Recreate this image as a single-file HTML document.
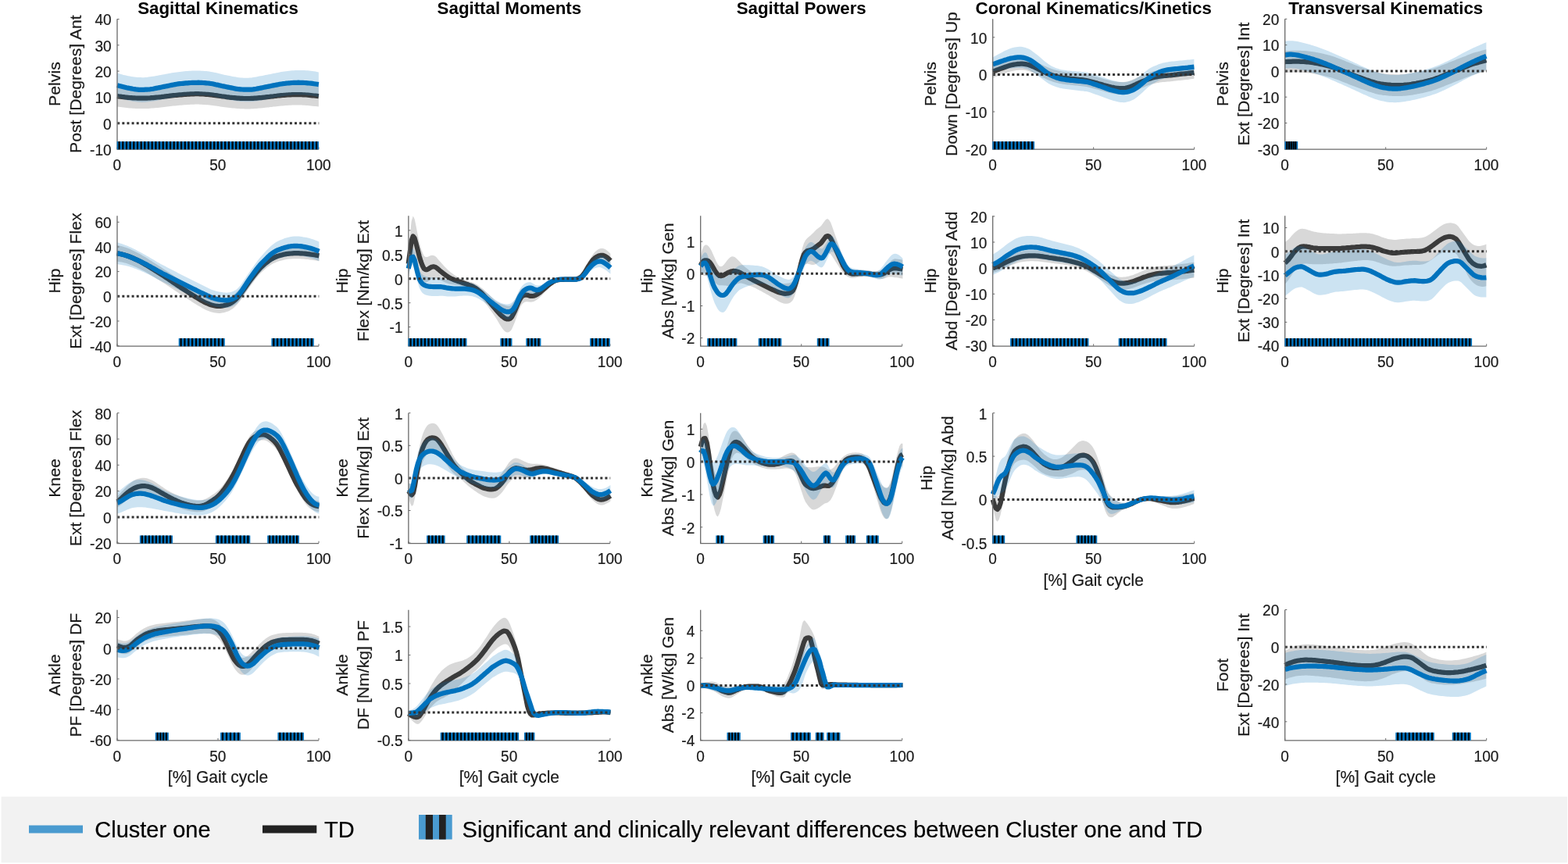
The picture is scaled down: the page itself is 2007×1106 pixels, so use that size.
<!DOCTYPE html>
<html lang="en"><head><meta charset="utf-8"><title>Gait analysis: Cluster one vs TD</title>
<style>html,body{margin:0;padding:0;background:#fff}body{width:2007px;height:1106px;overflow:hidden}svg{display:block}text{font-family:"Liberation Sans", Arial, Helvetica, sans-serif}</style>
</head><body>
<svg width="2007" height="1106" viewBox="0 0 2007 1106">
<rect width="2007" height="1106" fill="#fff"/>
<g>
<clipPath id="c00"><rect x="145" y="22.3" width="268" height="168.6"/></clipPath>
<g clip-path="url(#c00)">
<path d="M150 109.7 L152 110 L154 110.2 L156 110.5 L158 110.7 L160 111 L162 111.2 L164 111.4 L166 111.6 L168 111.7 L170 111.9 L172 112 L174 112.1 L176 112.2 L178 112.3 L180 112.3 L182 112.4 L184 112.3 L186 112.3 L188 112.2 L190 112.1 L192 112 L194 111.9 L196 111.7 L198 111.5 L200 111.4 L202 111.1 L204 110.9 L206 110.7 L208 110.4 L210 110.2 L212 109.9 L214 109.7 L216 109.5 L218 109.2 L220 109 L222 108.8 L224 108.6 L226 108.4 L228 108.2 L230 108.1 L232 107.9 L234 107.7 L236 107.6 L238 107.4 L240 107.3 L242 107.2 L244 107 L246 107 L248 106.9 L250 106.8 L252 106.8 L254 106.9 L256 106.9 L258 107 L260 107.1 L262 107.2 L264 107.4 L266 107.5 L268 107.7 L270 108 L272 108.2 L274 108.5 L276 108.7 L278 109 L280 109.3 L281.9 109.6 L283.9 109.9 L285.9 110.2 L287.9 110.4 L289.9 110.7 L291.9 110.9 L293.9 111.2 L295.9 111.4 L297.9 111.6 L299.9 111.8 L301.9 112 L303.9 112.2 L305.9 112.3 L307.9 112.4 L309.9 112.5 L311.9 112.6 L313.9 112.6 L315.9 112.6 L317.9 112.6 L319.9 112.6 L321.9 112.5 L323.9 112.5 L325.9 112.4 L327.9 112.2 L329.9 112 L331.9 111.9 L333.9 111.7 L335.9 111.5 L337.9 111.3 L339.9 111 L341.9 110.8 L343.9 110.6 L345.9 110.4 L347.9 110.1 L349.9 109.9 L351.9 109.6 L353.9 109.4 L355.9 109.1 L357.9 108.9 L359.9 108.7 L361.9 108.6 L363.9 108.4 L365.9 108.3 L367.9 108.1 L369.9 108 L371.9 107.9 L373.9 107.8 L375.9 107.7 L377.9 107.7 L379.9 107.7 L381.9 107.7 L383.9 107.7 L385.9 107.8 L387.9 107.9 L389.9 108 L391.9 108.1 L393.9 108.3 L395.9 108.5 L397.9 108.7 L399.9 108.9 L401.9 109.1 L403.9 109.3 L405.9 109.5 L407.9 109.8 L407.9 136.6 L405.9 136.3 L403.9 136.1 L401.9 135.9 L399.9 135.7 L397.9 135.5 L395.9 135.3 L393.9 135.1 L391.9 134.9 L389.9 134.8 L387.9 134.7 L385.9 134.6 L383.9 134.5 L381.9 134.4 L379.9 134.4 L377.9 134.5 L375.9 134.5 L373.9 134.6 L371.9 134.7 L369.9 134.8 L367.9 134.9 L365.9 135.1 L363.9 135.2 L361.9 135.4 L359.9 135.5 L357.9 135.7 L355.9 135.9 L353.9 136.2 L351.9 136.4 L349.9 136.6 L347.9 136.9 L345.9 137.1 L343.9 137.4 L341.9 137.6 L339.9 137.8 L337.9 138 L335.9 138.3 L333.9 138.4 L331.9 138.6 L329.9 138.8 L327.9 139 L325.9 139.1 L323.9 139.2 L321.9 139.3 L319.9 139.4 L317.9 139.4 L315.9 139.4 L313.9 139.4 L311.9 139.3 L309.9 139.3 L307.9 139.2 L305.9 139.1 L303.9 139 L301.9 138.8 L299.9 138.6 L297.9 138.4 L295.9 138.2 L293.9 137.9 L291.9 137.7 L289.9 137.5 L287.9 137.2 L285.9 136.9 L283.9 136.7 L281.9 136.4 L280 136.1 L278 135.8 L276 135.5 L274 135.2 L272 135 L270 134.7 L268 134.5 L266 134.3 L264 134.2 L262 134 L260 133.9 L258 133.8 L256 133.7 L254 133.6 L252 133.6 L250 133.6 L248 133.7 L246 133.7 L244 133.8 L242 133.9 L240 134.1 L238 134.2 L236 134.3 L234 134.5 L232 134.7 L230 134.8 L228 135 L226 135.2 L224 135.4 L222 135.6 L220 135.8 L218 136 L216 136.3 L214 136.5 L212 136.7 L210 137 L208 137.2 L206 137.5 L204 137.7 L202 137.9 L200 138.1 L198 138.3 L196 138.5 L194 138.6 L192 138.8 L190 138.9 L188 139 L186 139.1 L184 139.1 L182 139.1 L180 139.1 L178 139.1 L176 139 L174 138.9 L172 138.8 L170 138.7 L168 138.5 L166 138.4 L164 138.2 L162 138 L160 137.7 L158 137.5 L156 137.3 L154 137 L152 136.7 L150 136.5Z" fill="#3b3b3b" fill-opacity="0.2"/>
<path d="M150 123.1 L152 123.4 L154 123.6 L156 123.9 L158 124.1 L160 124.4 L162 124.6 L164 124.8 L166 125 L168 125.1 L170 125.3 L172 125.4 L174 125.5 L176 125.6 L178 125.7 L180 125.7 L182 125.7 L184 125.7 L186 125.7 L188 125.6 L190 125.5 L192 125.4 L194 125.2 L196 125.1 L198 124.9 L200 124.7 L202 124.5 L204 124.3 L206 124.1 L208 123.8 L210 123.6 L212 123.3 L214 123.1 L216 122.9 L218 122.6 L220 122.4 L222 122.2 L224 122 L226 121.8 L228 121.6 L230 121.4 L232 121.3 L234 121.1 L236 120.9 L238 120.8 L240 120.7 L242 120.6 L244 120.4 L246 120.3 L248 120.3 L250 120.2 L252 120.2 L254 120.2 L256 120.3 L258 120.4 L260 120.5 L262 120.6 L264 120.8 L266 120.9 L268 121.1 L270 121.3 L272 121.6 L274 121.9 L276 122.1 L278 122.4 L280 122.7 L281.9 123 L283.9 123.3 L285.9 123.5 L287.9 123.8 L289.9 124.1 L291.9 124.3 L293.9 124.6 L295.9 124.8 L297.9 125 L299.9 125.2 L301.9 125.4 L303.9 125.6 L305.9 125.7 L307.9 125.8 L309.9 125.9 L311.9 126 L313.9 126 L315.9 126 L317.9 126 L319.9 126 L321.9 125.9 L323.9 125.9 L325.9 125.7 L327.9 125.6 L329.9 125.4 L331.9 125.2 L333.9 125.1 L335.9 124.9 L337.9 124.7 L339.9 124.4 L341.9 124.2 L343.9 124 L345.9 123.7 L347.9 123.5 L349.9 123.3 L351.9 123 L353.9 122.8 L355.9 122.5 L357.9 122.3 L359.9 122.1 L361.9 122 L363.9 121.8 L365.9 121.7 L367.9 121.5 L369.9 121.4 L371.9 121.3 L373.9 121.2 L375.9 121.1 L377.9 121.1 L379.9 121 L381.9 121.1 L383.9 121.1 L385.9 121.2 L387.9 121.3 L389.9 121.4 L391.9 121.5 L393.9 121.7 L395.9 121.9 L397.9 122.1 L399.9 122.3 L401.9 122.5 L403.9 122.7 L405.9 122.9 L407.9 123.2" fill="none" stroke="#3b3b3b" stroke-width="6.2" stroke-linejoin="round" stroke-linecap="butt"/>
<path d="M150 93.5 L152 94.1 L154 94.8 L156 95.3 L158 95.9 L160 96.3 L162 96.8 L164 97.2 L166 97.6 L168 97.9 L170 98.2 L172 98.5 L174 98.7 L176 98.9 L178 99 L180 99.1 L182 99.2 L184 99.2 L186 99.1 L188 98.9 L190 98.6 L192 98.3 L194 98 L196 97.7 L198 97.4 L200 97 L202 96.7 L204 96.3 L206 95.9 L208 95.6 L210 95.2 L212 94.8 L214 94.4 L216 94 L218 93.7 L220 93.3 L222 93 L224 92.7 L226 92.4 L228 92.2 L230 91.9 L232 91.7 L234 91.4 L236 91.3 L238 91.1 L240 91 L242 90.8 L244 90.7 L246 90.6 L248 90.6 L250 90.5 L252 90.5 L254 90.5 L256 90.6 L258 90.7 L260 90.8 L262 90.9 L264 91.1 L266 91.3 L268 91.6 L270 91.9 L272 92.2 L274 92.7 L276 93.1 L278 93.6 L280 94.1 L281.9 94.5 L283.9 95 L285.9 95.5 L287.9 95.9 L289.9 96.3 L291.9 96.7 L293.9 97.1 L295.9 97.5 L297.9 97.9 L299.9 98.3 L301.9 98.6 L303.9 99 L305.9 99.2 L307.9 99.4 L309.9 99.6 L311.9 99.7 L313.9 99.8 L315.9 99.7 L317.9 99.7 L319.9 99.5 L321.9 99.4 L323.9 99.1 L325.9 98.8 L327.9 98.4 L329.9 98 L331.9 97.6 L333.9 97.3 L335.9 96.9 L337.9 96.5 L339.9 96.1 L341.9 95.7 L343.9 95.3 L345.9 94.9 L347.9 94.5 L349.9 94.1 L351.9 93.7 L353.9 93.3 L355.9 92.9 L357.9 92.5 L359.9 92.1 L361.9 91.8 L363.9 91.5 L365.9 91.2 L367.9 91 L369.9 90.7 L371.9 90.5 L373.9 90.3 L375.9 90.2 L377.9 90.1 L379.9 90.1 L381.9 90 L383.9 90 L385.9 90 L387.9 90 L389.9 90.1 L391.9 90.2 L393.9 90.3 L395.9 90.5 L397.9 90.7 L399.9 90.9 L401.9 91.2 L403.9 91.5 L405.9 91.9 L407.9 92.4 L407.9 124.2 L405.9 123.7 L403.9 123.3 L401.9 122.9 L399.9 122.6 L397.9 122.3 L395.9 122.1 L393.9 121.9 L391.9 121.7 L389.9 121.6 L387.9 121.5 L385.9 121.4 L383.9 121.4 L381.9 121.4 L379.9 121.4 L377.9 121.5 L375.9 121.6 L373.9 121.7 L371.9 121.9 L369.9 122.1 L367.9 122.4 L365.9 122.6 L363.9 122.9 L361.9 123.2 L359.9 123.5 L357.9 123.9 L355.9 124.2 L353.9 124.6 L351.9 125 L349.9 125.4 L347.9 125.8 L345.9 126.2 L343.9 126.6 L341.9 127 L339.9 127.4 L337.9 127.8 L335.9 128.2 L333.9 128.5 L331.9 128.9 L329.9 129.2 L327.9 129.5 L325.9 129.8 L323.9 130 L321.9 130.1 L319.9 130.2 L317.9 130.2 L315.9 130.2 L313.9 130.2 L311.9 130.1 L309.9 130.1 L307.9 130 L305.9 129.8 L303.9 129.6 L301.9 129.3 L299.9 129 L297.9 128.6 L295.9 128.2 L293.9 127.8 L291.9 127.4 L289.9 127 L287.9 126.6 L285.9 126.2 L283.9 125.8 L281.9 125.4 L280 125 L278 124.6 L276 124.2 L274 123.8 L272 123.4 L270 123 L268 122.8 L266 122.6 L264 122.4 L262 122.3 L260 122.2 L258 122.1 L256 122 L254 121.9 L252 121.9 L250 121.9 L248 121.9 L246 122 L244 122.1 L242 122.3 L240 122.4 L238 122.6 L236 122.8 L234 123.1 L232 123.3 L230 123.6 L228 123.8 L226 124.1 L224 124.4 L222 124.7 L220 125 L218 125.4 L216 125.7 L214 126.1 L212 126.5 L210 126.9 L208 127.3 L206 127.7 L204 128.1 L202 128.5 L200 128.9 L198 129.2 L196 129.5 L194 129.8 L192 130.1 L190 130.3 L188 130.5 L186 130.7 L184 130.8 L182 130.9 L180 130.8 L178 130.7 L176 130.6 L174 130.3 L172 130.1 L170 129.7 L168 129.3 L166 128.9 L164 128.4 L162 128 L160 127.4 L158 126.9 L156 126.3 L154 125.7 L152 125.1 L150 124.5Z" fill="#0072bd" fill-opacity="0.2"/>
<path d="M150 109.1 L152 109.7 L154 110.2 L156 110.7 L158 111.2 L160 111.7 L162 112.2 L164 112.6 L166 113 L168 113.4 L170 113.8 L172 114.1 L174 114.4 L176 114.6 L178 114.8 L180 114.8 L182 114.8 L184 114.8 L186 114.7 L188 114.7 L190 114.5 L192 114.3 L194 114 L196 113.7 L198 113.3 L200 112.9 L202 112.5 L204 112.1 L206 111.7 L208 111.3 L210 110.9 L212 110.5 L214 110.1 L216 109.7 L218 109.3 L220 108.9 L222 108.5 L224 108.1 L226 107.7 L228 107.4 L230 107.2 L232 107 L234 106.8 L236 106.6 L238 106.4 L240 106.3 L242 106.1 L244 106 L246 105.9 L248 105.9 L250 105.8 L252 105.8 L254 105.7 L256 105.8 L258 105.9 L260 106 L262 106.1 L264 106.3 L266 106.5 L268 106.7 L270 107 L272 107.3 L274 107.7 L276 108.2 L278 108.6 L280 109.1 L281.9 109.5 L283.9 110 L285.9 110.4 L287.9 110.8 L289.9 111.2 L291.9 111.6 L293.9 112 L295.9 112.4 L297.9 112.8 L299.9 113.2 L301.9 113.6 L303.9 113.9 L305.9 114.1 L307.9 114.3 L309.9 114.5 L311.9 114.6 L313.9 114.7 L315.9 114.7 L317.9 114.7 L319.9 114.7 L321.9 114.6 L323.9 114.4 L325.9 114.1 L327.9 113.8 L329.9 113.4 L331.9 113 L333.9 112.6 L335.9 112.2 L337.9 111.8 L339.9 111.4 L341.9 111 L343.9 110.6 L345.9 110.2 L347.9 109.8 L349.9 109.4 L351.9 109 L353.9 108.6 L355.9 108.2 L357.9 107.8 L359.9 107.5 L361.9 107.2 L363.9 107 L365.9 106.7 L367.9 106.5 L369.9 106.3 L371.9 106.2 L373.9 106 L375.9 105.9 L377.9 105.8 L379.9 105.8 L381.9 105.7 L383.9 105.8 L385.9 105.8 L387.9 105.9 L389.9 106 L391.9 106.1 L393.9 106.3 L395.9 106.5 L397.9 106.7 L399.9 106.9 L401.9 107.2 L403.9 107.5 L405.9 107.8 L407.9 108.1" fill="none" stroke="#0072bd" stroke-width="6.2" stroke-linejoin="round" stroke-linecap="butt"/>
</g>
<path d="M150.2 157.7H408.3" stroke="#333" stroke-width="3" stroke-dasharray="3 3.13" fill="none"/>
<path d="M150 24.3V191.2H408" stroke="#6a6a6a" stroke-width="1.3" fill="none"/>
<path d="M150 24.5h2.6M150 57.8h2.6M150 91.1h2.6M150 124.4h2.6M150 157.7h2.6M150 191h2.6M150 190.9v-2.6M279 190.9v-2.6M408 190.9v-2.6" stroke="#6a6a6a" stroke-width="1" fill="none"/>
<rect x="149.7" y="181.1" width="258.3" height="10.1" fill="#0072bd"/>
<path d="M152.6 181.1v10.1M157.3 181.1v10.1M162 181.1v10.1M166.6 181.1v10.1M171.3 181.1v10.1M176 181.1v10.1M180.7 181.1v10.1M185.3 181.1v10.1M190 181.1v10.1M194.7 181.1v10.1M199.4 181.1v10.1M204 181.1v10.1M208.7 181.1v10.1M213.4 181.1v10.1M218.1 181.1v10.1M222.7 181.1v10.1M227.4 181.1v10.1M232.1 181.1v10.1M236.8 181.1v10.1M241.4 181.1v10.1M246.1 181.1v10.1M250.8 181.1v10.1M255.5 181.1v10.1M260.1 181.1v10.1M264.8 181.1v10.1M269.5 181.1v10.1M274.2 181.1v10.1M278.9 181.1v10.1M283.5 181.1v10.1M288.2 181.1v10.1M292.9 181.1v10.1M297.6 181.1v10.1M302.2 181.1v10.1M306.9 181.1v10.1M311.6 181.1v10.1M316.3 181.1v10.1M320.9 181.1v10.1M325.6 181.1v10.1M330.3 181.1v10.1M335 181.1v10.1M339.6 181.1v10.1M344.3 181.1v10.1M349 181.1v10.1M353.7 181.1v10.1M358.3 181.1v10.1M363 181.1v10.1M367.7 181.1v10.1M372.4 181.1v10.1M377 181.1v10.1M381.7 181.1v10.1M386.4 181.1v10.1M391.1 181.1v10.1M395.7 181.1v10.1M400.4 181.1v10.1M405.1 181.1v10.1" stroke="#000" stroke-width="2.2" fill="none"/>
<text transform="translate(142.6 32.3) scale(1 1.02)" font-size="19.05" text-anchor="end" fill="#1a1a1a" stroke="#1a1a1a" stroke-width="0.2">40</text>
<text transform="translate(142.6 65.6) scale(1 1.02)" font-size="19.05" text-anchor="end" fill="#1a1a1a" stroke="#1a1a1a" stroke-width="0.2">30</text>
<text transform="translate(142.6 98.9) scale(1 1.02)" font-size="19.05" text-anchor="end" fill="#1a1a1a" stroke="#1a1a1a" stroke-width="0.2">20</text>
<text transform="translate(142.6 132.2) scale(1 1.02)" font-size="19.05" text-anchor="end" fill="#1a1a1a" stroke="#1a1a1a" stroke-width="0.2">10</text>
<text transform="translate(142.6 165.5) scale(1 1.02)" font-size="19.05" text-anchor="end" fill="#1a1a1a" stroke="#1a1a1a" stroke-width="0.2">0</text>
<text transform="translate(142.6 198.8) scale(1 1.02)" font-size="19.05" text-anchor="end" fill="#1a1a1a" stroke="#1a1a1a" stroke-width="0.2">-10</text>
<text transform="translate(149.8 218) scale(1 1.02)" font-size="19.05" text-anchor="middle" fill="#1a1a1a" stroke="#1a1a1a" stroke-width="0.2">0</text>
<text transform="translate(278.8 218) scale(1 1.02)" font-size="19.05" text-anchor="middle" fill="#1a1a1a" stroke="#1a1a1a" stroke-width="0.2">50</text>
<text transform="translate(407.8 218) scale(1 1.02)" font-size="19.05" text-anchor="middle" fill="#1a1a1a" stroke="#1a1a1a" stroke-width="0.2">100</text>
<text transform="translate(279 18.2)" font-size="22.3" text-anchor="middle" font-weight="bold" fill="#000">Sagittal Kinematics</text>
<text transform="translate(77.27 107.6) rotate(-90) scale(1 0.96)" font-size="21.3" text-anchor="middle" fill="#1a1a1a" stroke="#1a1a1a" stroke-width="0.2">Pelvis</text>
<text transform="translate(104.27 107.6) rotate(-90) scale(1 0.96)" font-size="21.2" text-anchor="middle" fill="#1a1a1a" stroke="#1a1a1a" stroke-width="0.2">Post [Degrees] Ant</text>
</g>
<g>
<clipPath id="c10"><rect x="145" y="274.3" width="268" height="168.6"/></clipPath>
<g clip-path="url(#c10)">
<path d="M149.7 313.8 L151.7 314.3 L153.7 314.7 L155.7 315.3 L157.7 315.8 L159.7 316.4 L161.7 317.1 L163.7 317.8 L165.7 318.6 L167.7 319.5 L169.7 320.4 L171.7 321.4 L173.8 322.4 L175.8 323.5 L177.8 324.5 L179.8 325.6 L181.8 326.8 L183.8 327.9 L185.8 329.1 L187.8 330.3 L189.8 331.6 L191.8 332.9 L193.8 334.1 L195.8 335.4 L197.8 336.7 L199.8 338 L201.8 339.2 L203.8 340.5 L205.8 341.8 L207.8 343.2 L209.8 344.5 L211.9 345.9 L213.9 347.2 L215.9 348.6 L217.9 349.9 L219.9 351.3 L221.9 352.6 L223.9 354 L225.9 355.3 L227.9 356.7 L229.9 358 L231.9 359.3 L233.9 360.6 L235.9 361.9 L237.9 363.2 L239.9 364.5 L241.9 365.8 L243.9 367.1 L245.9 368.4 L247.9 369.7 L250 371 L252 372.3 L254 373.5 L256 374.7 L258 375.8 L260 377 L262 378 L264 378.9 L266 379.7 L268 380.5 L270 381.2 L272 381.8 L274 382.3 L276 382.6 L278 382.9 L280 383 L282 383 L284 382.8 L286.1 382.4 L288.1 382 L290.1 381.5 L292.1 380.9 L294.1 380.1 L296.1 379.2 L298.1 377.9 L300.1 376.4 L302.1 374.6 L304.1 372.6 L306.1 370.4 L308.1 367.9 L310.1 365.3 L312.1 362.6 L314.1 359.9 L316.1 357.1 L318.1 354.4 L320.1 351.8 L322.1 349.2 L324.2 346.6 L326.2 344.1 L328.2 341.6 L330.2 339.3 L332.2 337.1 L334.2 335.1 L336.2 333.2 L338.2 331.5 L340.2 329.8 L342.2 328.2 L344.2 326.7 L346.2 325.4 L348.2 324.2 L350.2 323.2 L352.2 322.2 L354.2 321.4 L356.2 320.6 L358.2 320 L360.3 319.5 L362.3 319 L364.3 318.5 L366.3 318.2 L368.3 317.9 L370.3 317.7 L372.3 317.5 L374.3 317.3 L376.3 317.2 L378.3 317.2 L380.3 317.2 L382.3 317.2 L384.3 317.3 L386.3 317.4 L388.3 317.6 L390.3 317.7 L392.3 318 L394.3 318.2 L396.3 318.4 L398.4 318.7 L400.4 319 L402.4 319.3 L404.4 319.7 L406.4 320 L408.4 320.4 L408.4 334.3 L406.4 334 L404.4 333.6 L402.4 333.3 L400.4 333 L398.4 332.7 L396.3 332.4 L394.3 332.1 L392.3 331.9 L390.3 331.7 L388.3 331.5 L386.3 331.4 L384.3 331.3 L382.3 331.2 L380.3 331.2 L378.3 331.2 L376.3 331.2 L374.3 331.3 L372.3 331.4 L370.3 331.6 L368.3 331.8 L366.3 332.1 L364.3 332.5 L362.3 332.9 L360.3 333.4 L358.2 333.9 L356.2 334.6 L354.2 335.3 L352.2 336.2 L350.2 337.1 L348.2 338.1 L346.2 339.3 L344.2 340.7 L342.2 342.1 L340.2 343.7 L338.2 345.4 L336.2 347.2 L334.2 349.1 L332.2 351.2 L330.2 353.5 L328.2 355.9 L326.2 358.5 L324.2 361.2 L322.1 363.9 L320.1 366.7 L318.1 369.5 L316.1 372.4 L314.1 375.3 L312.1 378.3 L310.1 381.2 L308.1 384 L306.1 386.6 L304.1 389 L302.1 391.2 L300.1 393.2 L298.1 394.9 L296.1 396.3 L294.1 397.5 L292.1 398.4 L290.1 399.1 L288.1 399.7 L286.1 400.2 L284 400.6 L282 400.9 L280 400.9 L278 400.8 L276 400.6 L274 400.2 L272 399.8 L270 399.2 L268 398.5 L266 397.7 L264 396.9 L262 395.9 L260 394.9 L258 393.8 L256 392.6 L254 391.4 L252 390.2 L250 388.9 L247.9 387.7 L245.9 386.4 L243.9 385.1 L241.9 383.8 L239.9 382.5 L237.9 381.2 L235.9 379.9 L233.9 378.6 L231.9 377.2 L229.9 375.9 L227.9 374.6 L225.9 373.3 L223.9 371.9 L221.9 370.6 L219.9 369.2 L217.9 367.9 L215.9 366.5 L213.9 365.2 L211.9 363.8 L209.8 362.5 L207.8 361.2 L205.8 359.9 L203.8 358.7 L201.8 357.4 L199.8 356.2 L197.8 355 L195.8 353.8 L193.8 352.5 L191.8 351.4 L189.8 350.2 L187.8 349 L185.8 347.8 L183.8 346.7 L181.8 345.7 L179.8 344.7 L177.8 343.7 L175.8 342.7 L173.8 341.8 L171.7 340.9 L169.7 340 L167.7 339.2 L165.7 338.4 L163.7 337.7 L161.7 337.1 L159.7 336.6 L157.7 336.1 L155.7 335.6 L153.7 335.2 L151.7 334.9 L149.7 334.5Z" fill="#3b3b3b" fill-opacity="0.2"/>
<path d="M149.7 324.2 L151.7 324.6 L153.7 325 L155.7 325.4 L157.7 325.9 L159.7 326.5 L161.7 327.1 L163.7 327.8 L165.7 328.5 L167.7 329.3 L169.7 330.2 L171.7 331.1 L173.8 332.1 L175.8 333.1 L177.8 334.1 L179.8 335.1 L181.8 336.2 L183.8 337.3 L185.8 338.5 L187.8 339.7 L189.8 340.9 L191.8 342.1 L193.8 343.3 L195.8 344.6 L197.8 345.8 L199.8 347.1 L201.8 348.3 L203.8 349.6 L205.8 350.9 L207.8 352.2 L209.8 353.5 L211.9 354.9 L213.9 356.2 L215.9 357.5 L217.9 358.9 L219.9 360.2 L221.9 361.6 L223.9 362.9 L225.9 364.3 L227.9 365.6 L229.9 367 L231.9 368.3 L233.9 369.6 L235.9 370.9 L237.9 372.2 L239.9 373.5 L241.9 374.8 L243.9 376.1 L245.9 377.4 L247.9 378.7 L250 380 L252 381.2 L254 382.4 L256 383.6 L258 384.8 L260 385.9 L262 387 L264 387.9 L266 388.7 L268 389.5 L270 390.2 L272 390.8 L274 391.3 L276 391.6 L278 391.8 L280 392 L282 391.9 L284 391.7 L286.1 391.3 L288.1 390.8 L290.1 390.3 L292.1 389.6 L294.1 388.8 L296.1 387.7 L298.1 386.4 L300.1 384.8 L302.1 382.9 L304.1 380.8 L306.1 378.5 L308.1 376 L310.1 373.2 L312.1 370.4 L314.1 367.6 L316.1 364.7 L318.1 361.9 L320.1 359.2 L322.1 356.6 L324.2 353.9 L326.2 351.3 L328.2 348.8 L330.2 346.4 L332.2 344.1 L334.2 342.1 L336.2 340.2 L338.2 338.4 L340.2 336.7 L342.2 335.2 L344.2 333.7 L346.2 332.4 L348.2 331.2 L350.2 330.1 L352.2 329.2 L354.2 328.3 L356.2 327.6 L358.2 327 L360.3 326.4 L362.3 325.9 L364.3 325.5 L366.3 325.1 L368.3 324.8 L370.3 324.6 L372.3 324.5 L374.3 324.3 L376.3 324.2 L378.3 324.2 L380.3 324.2 L382.3 324.2 L384.3 324.3 L386.3 324.4 L388.3 324.5 L390.3 324.7 L392.3 324.9 L394.3 325.2 L396.3 325.4 L398.4 325.7 L400.4 326 L402.4 326.3 L404.4 326.6 L406.4 327 L408.4 327.4" fill="none" stroke="#3b3b3b" stroke-width="6.2" stroke-linejoin="round" stroke-linecap="butt"/>
<path d="M149.7 310.2 L151.7 310.8 L153.7 311.4 L155.7 312.1 L157.7 312.7 L159.7 313.5 L161.7 314.2 L163.7 315 L165.7 315.9 L167.7 316.8 L169.7 317.8 L171.7 318.8 L173.8 319.8 L175.8 320.9 L177.8 321.9 L179.8 323 L181.8 324.1 L183.8 325.2 L185.8 326.3 L187.8 327.4 L189.8 328.6 L191.8 329.7 L193.8 330.9 L195.8 332.1 L197.8 333.3 L199.8 334.5 L201.8 335.7 L203.8 336.8 L205.8 338 L207.8 339.1 L209.8 340.1 L211.9 341.1 L213.9 342.2 L215.9 343.2 L217.9 344.2 L219.9 345.3 L221.9 346.3 L223.9 347.3 L225.9 348.3 L227.9 349.4 L229.9 350.4 L231.9 351.4 L233.9 352.4 L235.9 353.5 L237.9 354.5 L239.9 355.5 L241.9 356.5 L243.9 357.5 L245.9 358.6 L247.9 359.6 L250 360.6 L252 361.6 L254 362.6 L256 363.6 L258 364.6 L260 365.6 L262 366.6 L264 367.5 L266 368.5 L268 369.5 L270 370.4 L272 371.2 L274 371.8 L276 372.4 L278 372.9 L280 373.4 L282 373.8 L284 374.1 L286.1 374.4 L288.1 374.6 L290.1 374.7 L292.1 374.6 L294.1 374.3 L296.1 373.8 L298.1 373.1 L300.1 372.1 L302.1 370.9 L304.1 369.2 L306.1 367.3 L308.1 364.9 L310.1 362.1 L312.1 359.1 L314.1 356.1 L316.1 353.1 L318.1 350.1 L320.1 347.2 L322.1 344.3 L324.2 341.4 L326.2 338.5 L328.2 335.7 L330.2 333 L332.2 330.5 L334.2 328.2 L336.2 326 L338.2 323.8 L340.2 321.6 L342.2 319.5 L344.2 317.4 L346.2 315.5 L348.2 313.7 L350.2 312.2 L352.2 310.8 L354.2 309.6 L356.2 308.6 L358.2 307.6 L360.3 306.8 L362.3 305.9 L364.3 305.1 L366.3 304.5 L368.3 303.9 L370.3 303.4 L372.3 303 L374.3 302.7 L376.3 302.5 L378.3 302.4 L380.3 302.5 L382.3 302.6 L384.3 302.8 L386.3 303 L388.3 303.4 L390.3 303.7 L392.3 304.1 L394.3 304.6 L396.3 305.1 L398.4 305.7 L400.4 306.3 L402.4 307 L404.4 307.8 L406.4 308.6 L408.4 309.4 L408.4 334.1 L406.4 333.3 L404.4 332.5 L402.4 331.7 L400.4 331 L398.4 330.4 L396.3 329.8 L394.3 329.3 L392.3 328.9 L390.3 328.4 L388.3 328.1 L386.3 327.8 L384.3 327.5 L382.3 327.3 L380.3 327.2 L378.3 327.2 L376.3 327.2 L374.3 327.3 L372.3 327.5 L370.3 327.7 L368.3 328 L366.3 328.4 L364.3 328.8 L362.3 329.3 L360.3 329.9 L358.2 330.5 L356.2 331.1 L354.2 331.8 L352.2 332.7 L350.2 333.7 L348.2 334.9 L346.2 336.3 L344.2 337.9 L342.2 339.7 L340.2 341.5 L338.2 343.4 L336.2 345.3 L334.2 347.2 L332.2 349.3 L330.2 351.6 L328.2 354.1 L326.2 356.7 L324.2 359.4 L322.1 362.3 L320.1 365.1 L318.1 368 L316.1 371 L314.1 374.1 L312.1 377.2 L310.1 380.2 L308.1 383.1 L306.1 385.6 L304.1 387.7 L302.1 389.4 L300.1 390.8 L298.1 391.9 L296.1 392.8 L294.1 393.4 L292.1 393.9 L290.1 394.1 L288.1 394.1 L286.1 394 L284 393.9 L282 393.6 L280 393.3 L278 392.9 L276 392.4 L274 391.9 L272 391.3 L270 390.6 L268 389.7 L266 388.8 L264 387.9 L262 387 L260 386 L258 385.1 L256 384.2 L254 383.2 L252 382.2 L250 381.2 L247.9 380.3 L245.9 379.3 L243.9 378.3 L241.9 377.3 L239.9 376.3 L237.9 375.3 L235.9 374.4 L233.9 373.4 L231.9 372.4 L229.9 371.4 L227.9 370.4 L225.9 369.4 L223.9 368.5 L221.9 367.5 L219.9 366.5 L217.9 365.5 L215.9 364.6 L213.9 363.6 L211.9 362.6 L209.8 361.6 L207.8 360.6 L205.8 359.6 L203.8 358.6 L201.8 357.5 L199.8 356.4 L197.8 355.3 L195.8 354.2 L193.8 353.2 L191.8 352.1 L189.8 351.1 L187.8 350.2 L185.8 349.2 L183.8 348.3 L181.8 347.4 L179.8 346.5 L177.8 345.7 L175.8 344.9 L173.8 344.1 L171.7 343.4 L169.7 342.6 L167.7 342 L165.7 341.3 L163.7 340.8 L161.7 340.3 L159.7 339.8 L157.7 339.4 L155.7 339 L153.7 338.7 L151.7 338.4 L149.7 338.1Z" fill="#0072bd" fill-opacity="0.2"/>
<path d="M149.7 324.2 L151.7 324.6 L153.7 325.1 L155.7 325.6 L157.7 326.1 L159.7 326.6 L161.7 327.2 L163.7 327.9 L165.7 328.6 L167.7 329.4 L169.7 330.2 L171.7 331.1 L173.8 332 L175.8 332.9 L177.8 333.8 L179.8 334.8 L181.8 335.7 L183.8 336.7 L185.8 337.7 L187.8 338.8 L189.8 339.9 L191.8 340.9 L193.8 342.1 L195.8 343.2 L197.8 344.3 L199.8 345.5 L201.8 346.6 L203.8 347.7 L205.8 348.8 L207.8 349.9 L209.8 350.9 L211.9 351.9 L213.9 352.9 L215.9 353.9 L217.9 354.9 L219.9 355.9 L221.9 356.9 L223.9 357.9 L225.9 358.9 L227.9 359.9 L229.9 360.9 L231.9 361.9 L233.9 362.9 L235.9 363.9 L237.9 364.9 L239.9 365.9 L241.9 366.9 L243.9 367.9 L245.9 368.9 L247.9 369.9 L250 370.9 L252 371.9 L254 372.9 L256 373.9 L258 374.9 L260 375.8 L262 376.8 L264 377.7 L266 378.7 L268 379.6 L270 380.5 L272 381.3 L274 381.9 L276 382.4 L278 382.9 L280 383.4 L282 383.7 L284 384 L286.1 384.2 L288.1 384.3 L290.1 384.4 L292.1 384.3 L294.1 383.9 L296.1 383.3 L298.1 382.5 L300.1 381.5 L302.1 380.1 L304.1 378.5 L306.1 376.4 L308.1 374 L310.1 371.2 L312.1 368.2 L314.1 365.1 L316.1 362 L318.1 359 L320.1 356.1 L322.1 353.3 L324.2 350.4 L326.2 347.6 L328.2 344.9 L330.2 342.3 L332.2 339.9 L334.2 337.7 L336.2 335.6 L338.2 333.6 L340.2 331.6 L342.2 329.6 L344.2 327.7 L346.2 325.9 L348.2 324.3 L350.2 323 L352.2 321.8 L354.2 320.7 L356.2 319.9 L358.2 319.1 L360.3 318.3 L362.3 317.6 L364.3 317 L366.3 316.4 L368.3 315.9 L370.3 315.5 L372.3 315.2 L374.3 315 L376.3 314.9 L378.3 314.8 L380.3 314.8 L382.3 315 L384.3 315.1 L386.3 315.4 L388.3 315.7 L390.3 316.1 L392.3 316.5 L394.3 317 L396.3 317.5 L398.4 318.1 L400.4 318.7 L402.4 319.4 L404.4 320.1 L406.4 320.9 L408.4 321.8" fill="none" stroke="#0072bd" stroke-width="6.2" stroke-linejoin="round" stroke-linecap="butt"/>
</g>
<path d="M150.2 379.3H408.3" stroke="#333" stroke-width="3" stroke-dasharray="3 3.13" fill="none"/>
<path d="M150 276.3V443.2H408" stroke="#6a6a6a" stroke-width="1.3" fill="none"/>
<path d="M150 284.3h2.6M150 316h2.6M150 347.6h2.6M150 379.3h2.6M150 411h2.6M150 442.7h2.6M150 442.9v-2.6M279 442.9v-2.6M408 442.9v-2.6" stroke="#6a6a6a" stroke-width="1" fill="none"/>
<rect x="228.7" y="433.1" width="59.1" height="10.1" fill="#0072bd"/>
<path d="M231.6 433.1v10.1M236.4 433.1v10.1M241.3 433.1v10.1M246.1 433.1v10.1M251 433.1v10.1M255.8 433.1v10.1M260.7 433.1v10.1M265.5 433.1v10.1M270.3 433.1v10.1M275.2 433.1v10.1M280 433.1v10.1M284.9 433.1v10.1" stroke="#000" stroke-width="2.2" fill="none"/>
<rect x="347.4" y="433.1" width="54.4" height="10.1" fill="#0072bd"/>
<path d="M350.3 433.1v10.1M355.1 433.1v10.1M360 433.1v10.1M364.9 433.1v10.1M369.7 433.1v10.1M374.6 433.1v10.1M379.5 433.1v10.1M384.3 433.1v10.1M389.2 433.1v10.1M394 433.1v10.1M398.9 433.1v10.1" stroke="#000" stroke-width="2.2" fill="none"/>
<text transform="translate(142.6 292.1) scale(1 1.02)" font-size="19.05" text-anchor="end" fill="#1a1a1a" stroke="#1a1a1a" stroke-width="0.2">60</text>
<text transform="translate(142.6 323.8) scale(1 1.02)" font-size="19.05" text-anchor="end" fill="#1a1a1a" stroke="#1a1a1a" stroke-width="0.2">40</text>
<text transform="translate(142.6 355.4) scale(1 1.02)" font-size="19.05" text-anchor="end" fill="#1a1a1a" stroke="#1a1a1a" stroke-width="0.2">20</text>
<text transform="translate(142.6 387.1) scale(1 1.02)" font-size="19.05" text-anchor="end" fill="#1a1a1a" stroke="#1a1a1a" stroke-width="0.2">0</text>
<text transform="translate(142.6 418.8) scale(1 1.02)" font-size="19.05" text-anchor="end" fill="#1a1a1a" stroke="#1a1a1a" stroke-width="0.2">-20</text>
<text transform="translate(142.6 450.5) scale(1 1.02)" font-size="19.05" text-anchor="end" fill="#1a1a1a" stroke="#1a1a1a" stroke-width="0.2">-40</text>
<text transform="translate(149.8 470) scale(1 1.02)" font-size="19.05" text-anchor="middle" fill="#1a1a1a" stroke="#1a1a1a" stroke-width="0.2">0</text>
<text transform="translate(278.8 470) scale(1 1.02)" font-size="19.05" text-anchor="middle" fill="#1a1a1a" stroke="#1a1a1a" stroke-width="0.2">50</text>
<text transform="translate(407.8 470) scale(1 1.02)" font-size="19.05" text-anchor="middle" fill="#1a1a1a" stroke="#1a1a1a" stroke-width="0.2">100</text>
<text transform="translate(77.27 359.6) rotate(-90) scale(1 0.96)" font-size="21.3" text-anchor="middle" fill="#1a1a1a" stroke="#1a1a1a" stroke-width="0.2">Hip</text>
<text transform="translate(104.27 359.6) rotate(-90) scale(1 0.96)" font-size="21.2" text-anchor="middle" fill="#1a1a1a" stroke="#1a1a1a" stroke-width="0.2">Ext [Degrees] Flex</text>
</g>
<g>
<clipPath id="c11"><rect x="517.9" y="274.3" width="268" height="168.6"/></clipPath>
<g clip-path="url(#c11)">
<path d="M522.7 321.8 L524.7 301.4 L526.7 282.9 L528.7 276.6 L530.7 280.6 L532.7 290.3 L534.7 300.7 L536.7 310.2 L538.7 317.4 L540.7 323.1 L542.7 327.4 L544.7 328.9 L546.8 329.1 L548.8 328.3 L550.8 327.2 L552.8 326.7 L554.8 326.9 L556.8 327.8 L558.8 329.6 L560.8 331.9 L562.8 334.3 L564.8 336.6 L566.8 338.8 L568.8 341 L570.8 343.1 L572.8 345 L574.8 346.8 L576.8 348.5 L578.8 350.1 L580.8 351.5 L582.8 352.9 L584.9 354.1 L586.9 355.2 L588.9 356.2 L590.9 357.1 L592.9 357.8 L594.9 358.5 L596.9 359.1 L598.9 359.8 L600.9 360.4 L602.9 360.9 L604.9 361.6 L606.9 362.5 L608.9 363.5 L610.9 364.6 L612.9 366 L614.9 367.4 L616.9 369 L618.9 370.6 L620.9 372.4 L623 374.4 L625 376.3 L627 378.3 L629 380.3 L631 382.3 L633 384.2 L635 385.7 L637 386.9 L639 388 L641 388.9 L643 389.6 L645 390.3 L647 391.1 L649 391.6 L651 391.8 L653 391.6 L655 390.1 L657 387.2 L659.1 383.8 L661.1 379.9 L663.1 375.9 L665.1 372.4 L667.1 370 L669.1 368.8 L671.1 368.6 L673.1 368.7 L675.1 369.3 L677.1 370.3 L679.1 371.1 L681.1 371.5 L683.1 371.5 L685.1 371.1 L687.1 370.4 L689.1 369.4 L691.1 368.2 L693.1 366.9 L695.1 365.5 L697.2 364.1 L699.2 362.7 L701.2 361.4 L703.2 360.2 L705.2 359 L707.2 357.9 L709.2 356.9 L711.2 356.1 L713.2 355.5 L715.2 355.1 L717.2 355 L719.2 354.9 L721.2 354.7 L723.2 354.6 L725.2 354.6 L727.2 354.5 L729.2 354.4 L731.2 354.4 L733.3 354.4 L735.3 354.3 L737.3 354.1 L739.3 353.4 L741.3 352.4 L743.3 351.1 L745.3 349.1 L747.3 346.4 L749.3 342.9 L751.3 339 L753.3 335.1 L755.3 331.6 L757.3 328.3 L759.3 325.3 L761.3 322.8 L763.3 321 L765.3 319.6 L767.3 318.5 L769.3 317.9 L771.4 317.9 L773.4 318.5 L775.4 319.5 L777.4 320.9 L779.4 322.7 L781.4 324.8 L781.4 342.7 L779.4 340.6 L777.4 338.9 L775.4 337.4 L773.4 336.4 L771.4 335.8 L769.3 335.7 L767.3 335.9 L765.3 336.3 L763.3 337 L761.3 337.9 L759.3 339.4 L757.3 341.3 L755.3 343.6 L753.3 346.1 L751.3 349 L749.3 352.1 L747.3 354.7 L745.3 356.8 L743.3 358.4 L741.3 359.6 L739.3 360.4 L737.3 360.9 L735.3 361 L733.3 361 L731.2 360.9 L729.2 360.8 L727.2 360.8 L725.2 360.8 L723.2 360.8 L721.2 360.8 L719.2 360.9 L717.2 361 L715.2 361.1 L713.2 361.5 L711.2 362.1 L709.2 363.1 L707.2 364.5 L705.2 366.2 L703.2 368 L701.2 370 L699.2 372.1 L697.2 374.2 L695.1 376.4 L693.1 378.5 L691.1 380.5 L689.1 382.2 L687.1 383.7 L685.1 385 L683.1 385.9 L681.1 386.4 L679.1 386.7 L677.1 386.4 L675.1 386.2 L673.1 386.3 L671.1 387 L669.1 388.5 L667.1 391.1 L665.1 395.2 L663.1 400.4 L661.1 406.3 L659.1 411.9 L657 417.1 L655 421.4 L653 424.1 L651 425.2 L649 425.4 L647 424.8 L645 422.9 L643 420.5 L641 417.6 L639 414.2 L637 410.8 L635 407.5 L633 404.5 L631 401.6 L629 398.8 L627 395.9 L625 393 L623 390.2 L620.9 387.5 L618.9 384.9 L616.9 382.5 L614.9 380.3 L612.9 378.2 L610.9 376.3 L608.9 374.6 L606.9 373.1 L604.9 371.8 L602.9 370.7 L600.9 369.8 L598.9 368.9 L596.9 368.1 L594.9 367.3 L592.9 366.6 L590.9 365.9 L588.9 365.5 L586.9 365.1 L584.9 364.9 L582.8 364.7 L580.8 364.5 L578.8 364.3 L576.8 363.9 L574.8 363.4 L572.8 362.8 L570.8 361.9 L568.8 361 L566.8 360.1 L564.8 359.2 L562.8 358.2 L560.8 357.2 L558.8 356.1 L556.8 355.5 L554.8 355.7 L552.8 356.6 L550.8 357.9 L548.8 359.6 L546.8 361 L544.7 361.3 L542.7 360.4 L540.7 356.9 L538.7 352 L536.7 346 L534.7 339.5 L532.7 334.2 L530.7 329.5 L528.7 328.3 L526.7 332.7 L524.7 343.9 L522.7 353.7Z" fill="#3b3b3b" fill-opacity="0.2"/>
<path d="M522.7 337.7 L524.7 322.6 L526.7 307.8 L528.7 302.4 L530.7 305 L532.7 312.2 L534.7 320.1 L536.7 328.1 L538.7 334.7 L540.7 340 L542.7 343.9 L544.7 345.1 L546.8 345.1 L548.8 344 L550.8 342.6 L552.8 341.7 L554.8 341.3 L556.8 341.7 L558.8 342.9 L560.8 344.5 L562.8 346.3 L564.8 347.9 L566.8 349.5 L568.8 351 L570.8 352.5 L572.8 353.9 L574.8 355.1 L576.8 356.2 L578.8 357.2 L580.8 358 L582.8 358.8 L584.9 359.5 L586.9 360.2 L588.9 360.8 L590.9 361.5 L592.9 362.2 L594.9 362.9 L596.9 363.6 L598.9 364.3 L600.9 365.1 L602.9 365.8 L604.9 366.7 L606.9 367.8 L608.9 369 L610.9 370.5 L612.9 372.1 L614.9 373.8 L616.9 375.7 L618.9 377.8 L620.9 380 L623 382.3 L625 384.7 L627 387.1 L629 389.6 L631 392 L633 394.3 L635 396.6 L637 398.9 L639 401.1 L641 403.3 L643 405.1 L645 406.6 L647 407.9 L649 408.5 L651 408.5 L653 407.9 L655 405.8 L657 402.1 L659.1 397.9 L661.1 393.1 L663.1 388.1 L665.1 383.8 L667.1 380.6 L669.1 378.6 L671.1 377.8 L673.1 377.5 L675.1 377.8 L677.1 378.4 L679.1 378.9 L681.1 379 L683.1 378.7 L685.1 378.1 L687.1 377 L689.1 375.8 L691.1 374.4 L693.1 372.7 L695.1 371 L697.2 369.2 L699.2 367.4 L701.2 365.7 L703.2 364.1 L705.2 362.6 L707.2 361.2 L709.2 360 L711.2 359.1 L713.2 358.5 L715.2 358.1 L717.2 358 L719.2 357.9 L721.2 357.8 L723.2 357.7 L725.2 357.7 L727.2 357.6 L729.2 357.6 L731.2 357.7 L733.3 357.7 L735.3 357.7 L737.3 357.5 L739.3 356.9 L741.3 356 L743.3 354.8 L745.3 353 L747.3 350.5 L749.3 347.5 L751.3 344 L753.3 340.6 L755.3 337.6 L757.3 334.8 L759.3 332.3 L761.3 330.4 L763.3 329 L765.3 328 L767.3 327.2 L769.3 326.8 L771.4 326.8 L773.4 327.4 L775.4 328.5 L777.4 329.9 L779.4 331.6 L781.4 333.7" fill="none" stroke="#3b3b3b" stroke-width="6.2" stroke-linejoin="round" stroke-linecap="butt"/>
<path d="M522.7 333.7 L524.7 325.5 L526.7 319.3 L528.7 318.1 L530.7 322.1 L532.7 330.9 L534.7 339 L536.7 345.6 L538.7 349.3 L540.7 351.6 L542.7 353 L544.7 353.7 L546.8 354.4 L548.8 354.7 L550.8 354.9 L552.8 355.1 L554.8 355.2 L556.8 355.3 L558.8 355.4 L560.8 355.5 L562.8 355.6 L564.8 355.8 L566.8 356.3 L568.8 356.8 L570.8 357.4 L572.8 357.9 L574.8 358.4 L576.8 358.8 L578.8 359.2 L580.8 359.6 L582.8 359.9 L584.9 360.1 L586.9 360.3 L588.9 360.4 L590.9 360.5 L592.9 360.7 L594.9 360.9 L596.9 361.2 L598.9 361.5 L600.9 361.9 L602.9 362.4 L604.9 363 L606.9 363.8 L608.9 364.8 L610.9 366 L612.9 367.3 L614.9 368.7 L616.9 370.2 L618.9 371.7 L620.9 373.3 L623 374.9 L625 376.6 L627 378.2 L629 379.9 L631 381.5 L633 383.1 L635 384.5 L637 385.7 L639 386.8 L641 387.8 L643 388.5 L645 389 L647 389.3 L649 389.4 L651 389.2 L653 388.7 L655 387.6 L657 385.8 L659.1 382.9 L661.1 379.3 L663.1 374.9 L665.1 370.8 L667.1 367.7 L669.1 365.3 L671.1 363.5 L673.1 362.3 L675.1 361.6 L677.1 361.3 L679.1 361.3 L681.1 362.2 L683.1 363.6 L685.1 364.7 L687.1 365.4 L689.1 365.5 L691.1 365.1 L693.1 364.5 L695.1 363.5 L697.2 362.3 L699.2 361 L701.2 359.9 L703.2 359 L705.2 358.2 L707.2 357.4 L709.2 356.8 L711.2 356.3 L713.2 355.9 L715.2 355.5 L717.2 355.3 L719.2 355.2 L721.2 355.2 L723.2 355.2 L725.2 355.1 L727.2 355.1 L729.2 355.1 L731.2 355 L733.3 354.9 L735.3 354.9 L737.3 354.8 L739.3 354.5 L741.3 353.9 L743.3 353 L745.3 351.2 L747.3 348.8 L749.3 346 L751.3 342.8 L753.3 339.6 L755.3 336.8 L757.3 334.3 L759.3 332 L761.3 330 L763.3 328.6 L765.3 327.5 L767.3 326.8 L769.3 326.7 L771.4 327.4 L773.4 328.5 L775.4 329.8 L777.4 331.3 L779.4 332.9 L781.4 334.7 L781.4 350.7 L779.4 348.9 L777.4 347.3 L775.4 345.8 L773.4 344.5 L771.4 343.4 L769.3 342.5 L767.3 342.1 L765.3 342.3 L763.3 342.7 L761.3 343.3 L759.3 344.4 L757.3 345.7 L755.3 347.3 L753.3 349.2 L751.3 351.4 L749.3 353.8 L747.3 355.9 L745.3 357.7 L743.3 359.1 L741.3 359.8 L739.3 360.2 L737.3 360.4 L735.3 360.4 L733.3 360.4 L731.2 360.3 L729.2 360.3 L727.2 360.2 L725.2 360.2 L723.2 360.1 L721.2 360.1 L719.2 360.1 L717.2 360.1 L715.2 360.3 L713.2 360.6 L711.2 361.1 L709.2 361.8 L707.2 362.6 L705.2 363.7 L703.2 365 L701.2 366.5 L699.2 368.3 L697.2 370.3 L695.1 372.3 L693.1 374 L691.1 375.4 L689.1 376.5 L687.1 377.2 L685.1 377.2 L683.1 376.7 L681.1 375.9 L679.1 375.6 L677.1 376 L675.1 376.9 L673.1 378.2 L671.1 380 L669.1 382.3 L667.1 385.2 L665.1 388.8 L663.1 393.4 L661.1 398.3 L659.1 402.3 L657 405.4 L655 407.5 L653 408.7 L651 409.1 L649 408.9 L647 408.2 L645 407.1 L643 405.8 L641 404.2 L639 402.4 L637 400.5 L635 398.7 L633 397.1 L631 395.5 L629 393.9 L627 392.3 L625 390.7 L623 389.2 L620.9 387.7 L618.9 386.3 L616.9 385 L614.9 383.8 L612.9 382.6 L610.9 381.5 L608.9 380.6 L606.9 379.9 L604.9 379.3 L602.9 379 L600.9 378.8 L598.9 378.6 L596.9 378.6 L594.9 378.5 L592.9 378.6 L590.9 378.7 L588.9 378.8 L586.9 379 L584.9 379.2 L582.8 379.4 L580.8 379.4 L578.8 379.5 L576.8 379.5 L574.8 379.4 L572.8 379.4 L570.8 379.3 L568.8 379.1 L566.8 378.8 L564.8 378.7 L562.8 378.7 L560.8 378.9 L558.8 379 L556.8 379.1 L554.8 379.1 L552.8 379 L550.8 378.8 L548.8 378.6 L546.8 378.1 L544.7 377.4 L542.7 376.4 L540.7 374.9 L538.7 372.3 L536.7 368.3 L534.7 361.4 L532.7 353 L530.7 343.8 L528.7 339.5 L526.7 340.1 L524.7 345.9 L522.7 353.7Z" fill="#0072bd" fill-opacity="0.2"/>
<path d="M522.7 343.7 L524.7 335.7 L526.7 329.7 L528.7 328.8 L530.7 332.9 L532.7 342 L534.7 350.2 L536.7 357 L538.7 360.8 L540.7 363.2 L542.7 364.7 L544.7 365.6 L546.8 366.3 L548.8 366.6 L550.8 366.8 L552.8 367 L554.8 367.1 L556.8 367.2 L558.8 367.2 L560.8 367.2 L562.8 367.1 L564.8 367.2 L566.8 367.5 L568.8 367.9 L570.8 368.3 L572.8 368.7 L574.8 368.9 L576.8 369.1 L578.8 369.3 L580.8 369.5 L582.8 369.6 L584.9 369.7 L586.9 369.7 L588.9 369.6 L590.9 369.6 L592.9 369.6 L594.9 369.7 L596.9 369.9 L598.9 370.1 L600.9 370.4 L602.9 370.7 L604.9 371.2 L606.9 371.9 L608.9 372.7 L610.9 373.7 L612.9 374.9 L614.9 376.2 L616.9 377.6 L618.9 379 L620.9 380.5 L623 382.1 L625 383.7 L627 385.3 L629 386.9 L631 388.5 L633 390.1 L635 391.6 L637 393.1 L639 394.6 L641 396 L643 397.1 L645 398 L647 398.8 L649 399.1 L651 399.1 L653 398.7 L655 397.6 L657 395.6 L659.1 392.6 L661.1 388.8 L663.1 384.1 L665.1 379.8 L667.1 376.5 L669.1 373.8 L671.1 371.8 L673.1 370.3 L675.1 369.2 L677.1 368.6 L679.1 368.5 L681.1 369 L683.1 370.2 L685.1 370.9 L687.1 371.3 L689.1 371 L691.1 370.3 L693.1 369.2 L695.1 367.9 L697.2 366.3 L699.2 364.7 L701.2 363.2 L703.2 362 L705.2 360.9 L707.2 360 L709.2 359.3 L711.2 358.7 L713.2 358.2 L715.2 357.9 L717.2 357.7 L719.2 357.7 L721.2 357.7 L723.2 357.7 L725.2 357.7 L727.2 357.7 L729.2 357.7 L731.2 357.7 L733.3 357.7 L735.3 357.7 L737.3 357.6 L739.3 357.3 L741.3 356.9 L743.3 356 L745.3 354.5 L747.3 352.4 L749.3 349.9 L751.3 347.1 L753.3 344.4 L755.3 342.1 L757.3 340 L759.3 338.2 L761.3 336.7 L763.3 335.6 L765.3 334.9 L767.3 334.5 L769.3 334.6 L771.4 335.4 L773.4 336.5 L775.4 337.8 L777.4 339.3 L779.4 340.9 L781.4 342.7" fill="none" stroke="#0072bd" stroke-width="6.2" stroke-linejoin="round" stroke-linecap="butt"/>
</g>
<path d="M523.1 356.8H781.2" stroke="#333" stroke-width="3" stroke-dasharray="3 3.13" fill="none"/>
<path d="M522.9 276.3V443.2H780.9" stroke="#6a6a6a" stroke-width="1.3" fill="none"/>
<path d="M522.9 294.9h2.6M522.9 325.8h2.6M522.9 356.8h2.6M522.9 387.7h2.6M522.9 418.6h2.6M522.9 442.9v-2.6M651.9 442.9v-2.6M780.9 442.9v-2.6" stroke="#6a6a6a" stroke-width="1" fill="none"/>
<rect x="522.6" y="433.1" width="74.9" height="10.1" fill="#0072bd"/>
<path d="M525.5 433.1v10.1M530.1 433.1v10.1M534.7 433.1v10.1M539.3 433.1v10.1M543.9 433.1v10.1M548.5 433.1v10.1M553.1 433.1v10.1M557.7 433.1v10.1M562.3 433.1v10.1M566.9 433.1v10.1M571.5 433.1v10.1M576.1 433.1v10.1M580.7 433.1v10.1M585.4 433.1v10.1M590 433.1v10.1M594.6 433.1v10.1" stroke="#000" stroke-width="2.2" fill="none"/>
<rect x="640.3" y="433.1" width="15.2" height="10.1" fill="#0072bd"/>
<path d="M643.2 433.1v10.1M647.9 433.1v10.1M652.6 433.1v10.1" stroke="#000" stroke-width="2.2" fill="none"/>
<rect x="673.3" y="433.1" width="19.1" height="10.1" fill="#0072bd"/>
<path d="M676.2 433.1v10.1M680.6 433.1v10.1M685.1 433.1v10.1M689.5 433.1v10.1" stroke="#000" stroke-width="2.2" fill="none"/>
<rect x="755.1" y="433.1" width="25.8" height="10.1" fill="#0072bd"/>
<path d="M758 433.1v10.1M763 433.1v10.1M768 433.1v10.1M773 433.1v10.1M778 433.1v10.1" stroke="#000" stroke-width="2.2" fill="none"/>
<text transform="translate(515.5 302.7) scale(1 1.02)" font-size="19.05" text-anchor="end" fill="#1a1a1a" stroke="#1a1a1a" stroke-width="0.2">1</text>
<text transform="translate(515.5 333.6) scale(1 1.02)" font-size="19.05" text-anchor="end" fill="#1a1a1a" stroke="#1a1a1a" stroke-width="0.2">0.5</text>
<text transform="translate(515.5 364.6) scale(1 1.02)" font-size="19.05" text-anchor="end" fill="#1a1a1a" stroke="#1a1a1a" stroke-width="0.2">0</text>
<text transform="translate(515.5 395.5) scale(1 1.02)" font-size="19.05" text-anchor="end" fill="#1a1a1a" stroke="#1a1a1a" stroke-width="0.2">-0.5</text>
<text transform="translate(515.5 426.4) scale(1 1.02)" font-size="19.05" text-anchor="end" fill="#1a1a1a" stroke="#1a1a1a" stroke-width="0.2">-1</text>
<text transform="translate(522.7 470) scale(1 1.02)" font-size="19.05" text-anchor="middle" fill="#1a1a1a" stroke="#1a1a1a" stroke-width="0.2">0</text>
<text transform="translate(651.7 470) scale(1 1.02)" font-size="19.05" text-anchor="middle" fill="#1a1a1a" stroke="#1a1a1a" stroke-width="0.2">50</text>
<text transform="translate(780.7 470) scale(1 1.02)" font-size="19.05" text-anchor="middle" fill="#1a1a1a" stroke="#1a1a1a" stroke-width="0.2">100</text>
<text transform="translate(651.9 18.2)" font-size="22.3" text-anchor="middle" font-weight="bold" fill="#000">Sagittal Moments</text>
<text transform="translate(444.88 359.6) rotate(-90) scale(1 0.96)" font-size="21.3" text-anchor="middle" fill="#1a1a1a" stroke="#1a1a1a" stroke-width="0.2">Hip</text>
<text transform="translate(471.88 359.6) rotate(-90) scale(1 0.96)" font-size="21.2" text-anchor="middle" fill="#1a1a1a" stroke="#1a1a1a" stroke-width="0.2">Flex [Nm/kg] Ext</text>
</g>
<g>
<clipPath id="c12"><rect x="891.7" y="274.3" width="268" height="168.6"/></clipPath>
<g clip-path="url(#c12)">
<path d="M896.7 327.8 L898.7 320.1 L900.7 315.2 L902.7 313.4 L904.7 313.6 L906.7 314.9 L908.7 317.5 L910.7 321 L912.7 325.4 L914.7 330.1 L916.7 334.5 L918.7 338.3 L920.8 340.7 L922.8 341.3 L924.8 340.4 L926.8 338.5 L928.8 335.9 L930.8 333.2 L932.8 330.9 L934.8 329.2 L936.8 328.3 L938.8 328.4 L940.8 329.3 L942.8 331 L944.8 333 L946.8 335.1 L948.8 337.3 L950.8 339.2 L952.8 341 L954.8 342.7 L956.8 344.3 L958.9 345.9 L960.9 347.4 L962.9 348.7 L964.9 349.9 L966.9 350.9 L968.9 351.9 L970.9 352.8 L972.9 353.8 L974.9 354.7 L976.9 355.6 L978.9 356.5 L980.9 357.3 L982.9 358.2 L984.9 359 L986.9 359.9 L988.9 360.6 L990.9 361.2 L992.9 361.7 L994.9 362.1 L997 362.4 L999 362.6 L1001 362.8 L1003 363 L1005 362.9 L1007 362.8 L1009 362.6 L1011 362.2 L1013 361.2 L1015 359.3 L1017 355.2 L1019 349.1 L1021 342.2 L1023 334.7 L1025 325.9 L1027 317.6 L1029 311.3 L1031 307.5 L1033.1 305 L1035.1 303.2 L1037.1 301.7 L1039.1 299.8 L1041.1 297.9 L1043.1 295.7 L1045.1 293.8 L1047.1 292.2 L1049.1 290.7 L1051.1 289 L1053.1 286.3 L1055.1 283.6 L1057.1 280.9 L1059.1 280.1 L1061.1 281.4 L1063.1 284.6 L1065.1 289.7 L1067.1 295.4 L1069.1 301.2 L1071.2 306.9 L1073.2 312.8 L1075.2 318.8 L1077.2 324.9 L1079.2 330.8 L1081.2 335.5 L1083.2 339.4 L1085.2 342 L1087.2 343.5 L1089.2 344.6 L1091.2 345.3 L1093.2 345.5 L1095.2 345.6 L1097.2 345.6 L1099.2 345.6 L1101.2 345.6 L1103.2 345.7 L1105.2 345.8 L1107.3 345.9 L1109.3 346 L1111.3 346.2 L1113.3 346.5 L1115.3 346.9 L1117.3 347.2 L1119.3 347.3 L1121.3 347.2 L1123.3 347 L1125.3 346.5 L1127.3 345.9 L1129.3 344.7 L1131.3 343.3 L1133.3 341.5 L1135.3 339.5 L1137.3 337.5 L1139.3 335.4 L1141.3 333.3 L1143.3 331.9 L1145.4 331.3 L1147.4 331.4 L1149.4 331.7 L1151.4 332 L1153.4 332.3 L1155.4 332.7 L1155.4 356.7 L1153.4 356.2 L1151.4 355.9 L1149.4 355.6 L1147.4 355.3 L1145.4 355.2 L1143.3 354.8 L1141.3 354.5 L1139.3 354.4 L1137.3 354.5 L1135.3 355.2 L1133.3 356.1 L1131.3 356.7 L1129.3 357 L1127.3 357.1 L1125.3 356.9 L1123.3 356.4 L1121.3 356 L1119.3 355.6 L1117.3 355.2 L1115.3 354.9 L1113.3 354.5 L1111.3 354.2 L1109.3 354.1 L1107.3 354.2 L1105.2 354.3 L1103.2 354.4 L1101.2 354.6 L1099.2 354.8 L1097.2 355.1 L1095.2 355.5 L1093.2 355.8 L1091.2 356 L1089.2 355.8 L1087.2 355.1 L1085.2 354.3 L1083.2 353 L1081.2 351.4 L1079.2 349.3 L1077.2 346.6 L1075.2 343.6 L1073.2 340.6 L1071.2 337.5 L1069.1 334.2 L1067.1 331 L1065.1 327.9 L1063.1 325.2 L1061.1 324 L1059.1 323.8 L1057.1 324.8 L1055.1 327.5 L1053.1 330.2 L1051.1 332.8 L1049.1 334.5 L1047.1 336 L1045.1 337.5 L1043.1 338.5 L1041.1 339.1 L1039.1 339 L1037.1 338.6 L1035.1 337.9 L1033.1 337.6 L1031 338.3 L1029 340 L1027 344.3 L1025 350.9 L1023 358.7 L1021 366.2 L1019 373.2 L1017 379.6 L1015 384.1 L1013 386.3 L1011 387.7 L1009 388.4 L1007 388.7 L1005 388.8 L1003 388.5 L1001 387.8 L999 386.9 L997 386 L994.9 384.8 L992.9 383.6 L990.9 382.3 L988.9 381.1 L986.9 379.9 L984.9 378.7 L982.9 377.6 L980.9 376.5 L978.9 375.3 L976.9 374.2 L974.9 373.1 L972.9 372 L970.9 370.9 L968.9 369.9 L966.9 368.8 L964.9 367.9 L962.9 367 L960.9 366.3 L958.9 365.6 L956.8 364.9 L954.8 364.3 L952.8 363.6 L950.8 363 L948.8 362.5 L946.8 362.5 L944.8 363 L942.8 363.8 L940.8 364.6 L938.8 365.5 L936.8 366.2 L934.8 366.5 L932.8 366.3 L930.8 365.9 L928.8 365.6 L926.8 365.4 L924.8 365.3 L922.8 365.2 L920.8 365.2 L918.7 364.6 L916.7 363.3 L914.7 361.6 L912.7 359.4 L910.7 356.8 L908.7 354.7 L906.7 353.4 L904.7 353.1 L902.7 353.3 L900.7 352.8 L898.7 351.7 L896.7 351.7Z" fill="#3b3b3b" fill-opacity="0.2"/>
<path d="M896.7 339.7 L898.7 335.9 L900.7 334 L902.7 333.3 L904.7 333.4 L906.7 334.2 L908.7 336.1 L910.7 338.9 L912.7 342.4 L914.7 345.9 L916.7 348.9 L918.7 351.4 L920.8 353 L922.8 353.3 L924.8 352.8 L926.8 352 L928.8 350.7 L930.8 349.6 L932.8 348.6 L934.8 347.8 L936.8 347.2 L938.8 346.9 L940.8 347 L942.8 347.4 L944.8 348 L946.8 348.8 L948.8 349.9 L950.8 351.1 L952.8 352.3 L954.8 353.5 L956.8 354.6 L958.9 355.7 L960.9 356.8 L962.9 357.9 L964.9 358.9 L966.9 359.9 L968.9 360.9 L970.9 361.9 L972.9 362.9 L974.9 363.9 L976.9 364.9 L978.9 365.9 L980.9 366.9 L982.9 367.9 L984.9 368.9 L986.9 369.9 L988.9 370.8 L990.9 371.7 L992.9 372.6 L994.9 373.5 L997 374.2 L999 374.8 L1001 375.3 L1003 375.7 L1005 375.8 L1007 375.7 L1009 375.5 L1011 374.9 L1013 373.7 L1015 371.7 L1017 367.4 L1019 361.2 L1021 354.2 L1023 346.7 L1025 338.4 L1027 331 L1029 325.7 L1031 322.9 L1033.1 321.3 L1035.1 320.6 L1037.1 320.2 L1039.1 319.4 L1041.1 318.5 L1043.1 317.1 L1045.1 315.6 L1047.1 314.1 L1049.1 312.6 L1051.1 310.9 L1053.1 308.2 L1055.1 305.5 L1057.1 302.9 L1059.1 302 L1061.1 302.7 L1063.1 304.9 L1065.1 308.8 L1067.1 313.2 L1069.1 317.7 L1071.2 322.2 L1073.2 326.7 L1075.2 331.2 L1077.2 335.7 L1079.2 340.1 L1081.2 343.4 L1083.2 346.2 L1085.2 348.1 L1087.2 349.3 L1089.2 350.2 L1091.2 350.7 L1093.2 350.6 L1095.2 350.5 L1097.2 350.4 L1099.2 350.2 L1101.2 350.1 L1103.2 350.1 L1105.2 350 L1107.3 350 L1109.3 350.1 L1111.3 350.2 L1113.3 350.5 L1115.3 350.9 L1117.3 351.2 L1119.3 351.4 L1121.3 351.6 L1123.3 351.7 L1125.3 351.7 L1127.3 351.5 L1129.3 350.9 L1131.3 350 L1133.3 348.8 L1135.3 347.4 L1137.3 346 L1139.3 344.9 L1141.3 343.9 L1143.3 343.4 L1145.4 343.3 L1147.4 343.4 L1149.4 343.6 L1151.4 344 L1153.4 344.3 L1155.4 344.7" fill="none" stroke="#3b3b3b" stroke-width="6.2" stroke-linejoin="round" stroke-linecap="butt"/>
<path d="M896.7 330.8 L898.7 326.9 L900.7 324 L902.7 322.9 L904.7 324.3 L906.7 329.2 L908.7 335 L910.7 340.3 L912.7 345.2 L914.7 348.8 L916.7 351.5 L918.7 353.7 L920.8 355.2 L922.8 355.9 L924.8 356.1 L926.8 356.1 L928.8 355.3 L930.8 353.8 L932.8 352 L934.8 349.7 L936.8 347.4 L938.8 345.3 L940.8 343.5 L942.8 341.9 L944.8 340.6 L946.8 339.7 L948.8 339.3 L950.8 339.2 L952.8 339.1 L954.8 339.2 L956.8 339.2 L958.9 339.3 L960.9 339.4 L962.9 339.5 L964.9 339.7 L966.9 339.9 L968.9 340.1 L970.9 340.3 L972.9 340.7 L974.9 341.1 L976.9 341.7 L978.9 342.5 L980.9 343.4 L982.9 344.5 L984.9 345.7 L986.9 347.1 L988.9 348.5 L990.9 349.9 L992.9 351.2 L994.9 352.3 L997 353.3 L999 354.3 L1001 355.2 L1003 356.2 L1005 356.9 L1007 357.4 L1009 357.9 L1011 357.7 L1013 356.7 L1015 354.9 L1017 352 L1019 347.6 L1021 342.8 L1023 337.8 L1025 332.6 L1027 327.3 L1029 322 L1031 316.8 L1033.1 313.5 L1035.1 311.2 L1037.1 309.9 L1039.1 310 L1041.1 311 L1043.1 312.7 L1045.1 314.8 L1047.1 316.5 L1049.1 317.7 L1051.1 318.5 L1053.1 318 L1055.1 315.5 L1057.1 312.2 L1059.1 308.8 L1061.1 305 L1063.1 302.3 L1065.1 302.3 L1067.1 303.8 L1069.1 306.9 L1071.2 310.6 L1073.2 314.7 L1075.2 318.9 L1077.2 323.2 L1079.2 327.7 L1081.2 332.2 L1083.2 335.8 L1085.2 339 L1087.2 341.4 L1089.2 342.6 L1091.2 343.4 L1093.2 343.8 L1095.2 344.2 L1097.2 344.4 L1099.2 344.7 L1101.2 344.9 L1103.2 345.2 L1105.2 345.4 L1107.3 345.7 L1109.3 346 L1111.3 346.3 L1113.3 346.7 L1115.3 347.1 L1117.3 347.5 L1119.3 347.6 L1121.3 347.4 L1123.3 346.8 L1125.3 345.7 L1127.3 343.9 L1129.3 341.6 L1131.3 339 L1133.3 336.1 L1135.3 333.4 L1137.3 331 L1139.3 328.6 L1141.3 326.6 L1143.3 325.2 L1145.4 324.7 L1147.4 325.1 L1149.4 325.8 L1151.4 327.1 L1153.4 328.7 L1155.4 330.8 L1155.4 352.7 L1153.4 352.2 L1151.4 351.8 L1149.4 351.3 L1147.4 350.9 L1145.4 350.6 L1143.3 350.4 L1141.3 350.6 L1139.3 351.1 L1137.3 351.9 L1135.3 353 L1133.3 354.3 L1131.3 355.7 L1129.3 356.7 L1127.3 357.5 L1125.3 357.8 L1123.3 357.4 L1121.3 356.8 L1119.3 356.2 L1117.3 355.6 L1115.3 355.1 L1113.3 354.7 L1111.3 354.3 L1109.3 354.1 L1107.3 353.9 L1105.2 353.8 L1103.2 353.6 L1101.2 353.5 L1099.2 353.5 L1097.2 353.4 L1095.2 353.4 L1093.2 353.4 L1091.2 353.2 L1089.2 352.8 L1087.2 352.3 L1085.2 351.2 L1083.2 349.5 L1081.2 347.3 L1079.2 344.2 L1077.2 340.8 L1075.2 337.1 L1073.2 333.2 L1071.2 329.5 L1069.1 326.1 L1067.1 323.3 L1065.1 322.2 L1063.1 322.8 L1061.1 326.3 L1059.1 330.9 L1057.1 335.1 L1055.1 339 L1053.1 341.8 L1051.1 342.4 L1049.1 341.7 L1047.1 340.5 L1045.1 338.7 L1043.1 336.6 L1041.1 334.9 L1039.1 333.9 L1037.1 333.8 L1035.1 334.7 L1033.1 336.4 L1031 339 L1029 343.4 L1027 348.1 L1025 352.9 L1023 357.7 L1021 362.8 L1019 367.9 L1017 372.9 L1015 376.5 L1013 379.1 L1011 380.8 L1009 381.5 L1007 381.3 L1005 380.8 L1003 379.8 L1001 378.4 L999 377 L997 375.4 L994.9 373.8 L992.9 372.1 L990.9 370.3 L988.9 368.6 L986.9 367 L984.9 365.7 L982.9 364.6 L980.9 363.8 L978.9 363.2 L976.9 362.9 L974.9 362.8 L972.9 362.8 L970.9 363 L968.9 363.3 L966.9 363.7 L964.9 364 L962.9 364.5 L960.9 365.1 L958.9 365.8 L956.8 366.5 L954.8 367.3 L952.8 368 L950.8 368.9 L948.8 369.9 L946.8 371 L944.8 372.8 L942.8 374.9 L940.8 377.3 L938.8 380.1 L936.8 383.2 L934.8 386.7 L932.8 390.6 L930.8 394.3 L928.8 397.4 L926.8 399.4 L924.8 399.9 L922.8 399.6 L920.8 398.2 L918.7 395.7 L916.7 392.1 L914.7 387.9 L912.7 382.6 L910.7 375.9 L908.7 368.8 L906.7 361.2 L904.7 354.3 L902.7 350.6 L900.7 349.4 L898.7 349.5 L896.7 350.7Z" fill="#0072bd" fill-opacity="0.2"/>
<path d="M896.7 340.7 L898.7 338.2 L900.7 336.7 L902.7 336.7 L904.7 339.3 L906.7 345.2 L908.7 351.9 L910.7 358.1 L912.7 363.9 L914.7 368.4 L916.7 371.8 L918.7 374.7 L920.8 376.7 L922.8 377.7 L924.8 378 L926.8 377.7 L928.8 376.4 L930.8 374 L932.8 371.3 L934.8 368.2 L936.8 365.3 L938.8 362.7 L940.8 360.4 L942.8 358.4 L944.8 356.7 L946.8 355.4 L948.8 354.6 L950.8 354 L952.8 353.6 L954.8 353.2 L956.8 352.9 L958.9 352.6 L960.9 352.3 L962.9 352 L964.9 351.9 L966.9 351.8 L968.9 351.7 L970.9 351.7 L972.9 351.7 L974.9 351.9 L976.9 352.3 L978.9 352.8 L980.9 353.6 L982.9 354.5 L984.9 355.7 L986.9 357.1 L988.9 358.5 L990.9 360.1 L992.9 361.6 L994.9 363.1 L997 364.4 L999 365.6 L1001 366.8 L1003 368 L1005 368.8 L1007 369.4 L1009 369.7 L1011 369.3 L1013 367.9 L1015 365.7 L1017 362.4 L1019 357.8 L1021 352.8 L1023 347.7 L1025 342.7 L1027 337.7 L1029 332.7 L1031 327.9 L1033.1 325 L1035.1 323 L1037.1 321.8 L1039.1 322 L1041.1 322.9 L1043.1 324.6 L1045.1 326.7 L1047.1 328.5 L1049.1 329.7 L1051.1 330.4 L1053.1 329.9 L1055.1 327.2 L1057.1 323.7 L1059.1 319.8 L1061.1 315.7 L1063.1 312.5 L1065.1 312.2 L1067.1 313.6 L1069.1 316.5 L1071.2 320 L1073.2 324 L1075.2 328 L1077.2 332 L1079.2 336 L1081.2 339.8 L1083.2 342.6 L1085.2 345.1 L1087.2 346.9 L1089.2 347.7 L1091.2 348.3 L1093.2 348.6 L1095.2 348.8 L1097.2 348.9 L1099.2 349.1 L1101.2 349.2 L1103.2 349.4 L1105.2 349.6 L1107.3 349.8 L1109.3 350 L1111.3 350.3 L1113.3 350.7 L1115.3 351.1 L1117.3 351.6 L1119.3 351.9 L1121.3 352.1 L1123.3 352.1 L1125.3 351.8 L1127.3 350.7 L1129.3 349.2 L1131.3 347.3 L1133.3 345.2 L1135.3 343.2 L1137.3 341.4 L1139.3 339.9 L1141.3 338.6 L1143.3 337.8 L1145.4 337.7 L1147.4 338 L1149.4 338.6 L1151.4 339.4 L1153.4 340.5 L1155.4 341.7" fill="none" stroke="#0072bd" stroke-width="6.2" stroke-linejoin="round" stroke-linecap="butt"/>
</g>
<path d="M896.9 350.3H1155" stroke="#333" stroke-width="3" stroke-dasharray="3 3.13" fill="none"/>
<path d="M896.7 276.3V443.2H1154.7" stroke="#6a6a6a" stroke-width="1.3" fill="none"/>
<path d="M896.7 309.2h2.6M896.7 350.3h2.6M896.7 391.5h2.6M896.7 432.6h2.6M896.7 442.9v-2.6M1025.7 442.9v-2.6M1154.7 442.9v-2.6" stroke="#6a6a6a" stroke-width="1" fill="none"/>
<rect x="905.2" y="433.1" width="38.2" height="10.1" fill="#0072bd"/>
<path d="M908.1 433.1v10.1M912.7 433.1v10.1M917.4 433.1v10.1M922 433.1v10.1M926.6 433.1v10.1M931.2 433.1v10.1M935.9 433.1v10.1M940.5 433.1v10.1" stroke="#000" stroke-width="2.2" fill="none"/>
<rect x="970.7" y="433.1" width="29.7" height="10.1" fill="#0072bd"/>
<path d="M973.6 433.1v10.1M978.4 433.1v10.1M983.2 433.1v10.1M988 433.1v10.1M992.7 433.1v10.1M997.5 433.1v10.1" stroke="#000" stroke-width="2.2" fill="none"/>
<rect x="1045.8" y="433.1" width="15.7" height="10.1" fill="#0072bd"/>
<path d="M1048.7 433.1v10.1M1053.7 433.1v10.1M1058.7 433.1v10.1" stroke="#000" stroke-width="2.2" fill="none"/>
<text transform="translate(889.3 317) scale(1 1.02)" font-size="19.05" text-anchor="end" fill="#1a1a1a" stroke="#1a1a1a" stroke-width="0.2">1</text>
<text transform="translate(889.3 358.1) scale(1 1.02)" font-size="19.05" text-anchor="end" fill="#1a1a1a" stroke="#1a1a1a" stroke-width="0.2">0</text>
<text transform="translate(889.3 399.3) scale(1 1.02)" font-size="19.05" text-anchor="end" fill="#1a1a1a" stroke="#1a1a1a" stroke-width="0.2">-1</text>
<text transform="translate(889.3 440.4) scale(1 1.02)" font-size="19.05" text-anchor="end" fill="#1a1a1a" stroke="#1a1a1a" stroke-width="0.2">-2</text>
<text transform="translate(896.5 470) scale(1 1.02)" font-size="19.05" text-anchor="middle" fill="#1a1a1a" stroke="#1a1a1a" stroke-width="0.2">0</text>
<text transform="translate(1025.5 470) scale(1 1.02)" font-size="19.05" text-anchor="middle" fill="#1a1a1a" stroke="#1a1a1a" stroke-width="0.2">50</text>
<text transform="translate(1154.5 470) scale(1 1.02)" font-size="19.05" text-anchor="middle" fill="#1a1a1a" stroke="#1a1a1a" stroke-width="0.2">100</text>
<text transform="translate(1025.7 18.2)" font-size="22.3" text-anchor="middle" font-weight="bold" fill="#000">Sagittal Powers</text>
<text transform="translate(834.56 359.6) rotate(-90) scale(1 0.96)" font-size="21.3" text-anchor="middle" fill="#1a1a1a" stroke="#1a1a1a" stroke-width="0.2">Hip</text>
<text transform="translate(861.56 359.6) rotate(-90) scale(1 0.96)" font-size="21.2" text-anchor="middle" fill="#1a1a1a" stroke="#1a1a1a" stroke-width="0.2">Abs [W/kg] Gen</text>
</g>
<g>
<clipPath id="c13"><rect x="1265.7" y="274.3" width="268" height="168.6"/></clipPath>
<g clip-path="url(#c13)">
<path d="M1270.7 337.3 L1272.7 336.5 L1274.7 335.7 L1276.7 334.8 L1278.7 333.9 L1280.7 332.9 L1282.7 331.9 L1284.7 330.8 L1286.7 329.7 L1288.7 328.6 L1290.7 327.7 L1292.7 326.8 L1294.7 325.9 L1296.7 325.1 L1298.6 324.3 L1300.6 323.6 L1302.6 322.9 L1304.6 322.3 L1306.6 321.8 L1308.6 321.4 L1310.6 321.1 L1312.6 320.8 L1314.6 320.6 L1316.6 320.5 L1318.6 320.4 L1320.6 320.4 L1322.6 320.4 L1324.6 320.5 L1326.6 320.6 L1328.6 320.8 L1330.6 321 L1332.6 321.3 L1334.6 321.6 L1336.6 322 L1338.6 322.3 L1340.6 322.6 L1342.6 323 L1344.6 323.4 L1346.6 323.8 L1348.6 324.1 L1350.6 324.5 L1352.6 324.8 L1354.6 325.1 L1356.6 325.4 L1358.6 325.8 L1360.6 326.1 L1362.6 326.5 L1364.6 327 L1366.6 327.4 L1368.6 327.9 L1370.6 328.4 L1372.6 328.9 L1374.6 329.4 L1376.6 330 L1378.6 330.5 L1380.6 331.1 L1382.6 331.7 L1384.5 332.4 L1386.5 333.1 L1388.5 333.9 L1390.5 334.8 L1392.5 335.8 L1394.5 336.8 L1396.5 337.8 L1398.5 338.9 L1400.5 340.1 L1402.5 341.2 L1404.5 342.3 L1406.5 343.4 L1408.5 344.5 L1410.5 345.7 L1412.5 346.8 L1414.5 347.9 L1416.5 349 L1418.5 350.1 L1420.5 351.2 L1422.5 352 L1424.5 352.7 L1426.5 353.3 L1428.5 353.9 L1430.5 354.3 L1432.5 354.6 L1434.5 354.8 L1436.5 354.8 L1438.5 354.6 L1440.5 354.4 L1442.5 354.1 L1444.5 353.7 L1446.5 353.1 L1448.5 352.5 L1450.5 351.9 L1452.5 351.1 L1454.5 350.3 L1456.5 349.5 L1458.5 348.6 L1460.5 347.7 L1462.5 346.9 L1464.5 346.1 L1466.5 345.4 L1468.5 344.7 L1470.4 344 L1472.4 343.4 L1474.4 342.8 L1476.4 342.3 L1478.4 341.8 L1480.4 341.4 L1482.4 341.1 L1484.4 340.9 L1486.4 340.6 L1488.4 340.4 L1490.4 340.2 L1492.4 340.1 L1494.4 339.9 L1496.4 339.7 L1498.4 339.6 L1500.4 339.4 L1502.4 339.3 L1504.4 339.1 L1506.4 338.8 L1508.4 338.6 L1510.4 338.3 L1512.4 338.1 L1514.4 337.8 L1516.4 337.5 L1518.4 337.2 L1520.4 336.9 L1522.4 336.6 L1524.4 336.3 L1526.4 336 L1528.4 335.7 L1528.4 355.7 L1526.4 355.9 L1524.4 356.1 L1522.4 356.3 L1520.4 356.6 L1518.4 356.8 L1516.4 357 L1514.4 357.2 L1512.4 357.4 L1510.4 357.6 L1508.4 357.8 L1506.4 357.9 L1504.4 358.1 L1502.4 358.2 L1500.4 358.3 L1498.4 358.4 L1496.4 358.4 L1494.4 358.5 L1492.4 358.6 L1490.4 358.7 L1488.4 358.8 L1486.4 358.9 L1484.4 359 L1482.4 359.2 L1480.4 359.4 L1478.4 359.7 L1476.4 360.1 L1474.4 360.6 L1472.4 361 L1470.4 361.6 L1468.5 362.1 L1466.5 362.7 L1464.5 363.4 L1462.5 364.1 L1460.5 364.8 L1458.5 365.6 L1456.5 366.3 L1454.5 367.1 L1452.5 367.8 L1450.5 368.4 L1448.5 369 L1446.5 369.5 L1444.5 369.9 L1442.5 370.2 L1440.5 370.4 L1438.5 370.5 L1436.5 370.5 L1434.5 370.4 L1432.5 370.1 L1430.5 369.7 L1428.5 369.1 L1426.5 368.4 L1424.5 367.6 L1422.5 366.7 L1420.5 365.7 L1418.5 364.4 L1416.5 363.2 L1414.5 361.9 L1412.5 360.6 L1410.5 359.3 L1408.5 358 L1406.5 356.7 L1404.5 355.4 L1402.5 354.2 L1400.5 352.9 L1398.5 351.6 L1396.5 350.4 L1394.5 349.2 L1392.5 348.1 L1390.5 347 L1388.5 346.1 L1386.5 345.2 L1384.5 344.4 L1382.6 343.7 L1380.6 343.1 L1378.6 342.5 L1376.6 341.9 L1374.6 341.4 L1372.6 340.9 L1370.6 340.5 L1368.6 340 L1366.6 339.6 L1364.6 339.2 L1362.6 338.9 L1360.6 338.6 L1358.6 338.3 L1356.6 338 L1354.6 337.8 L1352.6 337.6 L1350.6 337.4 L1348.6 337.1 L1346.6 336.9 L1344.6 336.6 L1342.6 336.3 L1340.6 336 L1338.6 335.8 L1336.6 335.5 L1334.6 335.3 L1332.6 335 L1330.6 334.8 L1328.6 334.6 L1326.6 334.4 L1324.6 334.4 L1322.6 334.3 L1320.6 334.3 L1318.6 334.3 L1316.6 334.4 L1314.6 334.5 L1312.6 334.7 L1310.6 334.9 L1308.6 335.2 L1306.6 335.6 L1304.6 336.1 L1302.6 336.6 L1300.6 337.2 L1298.6 337.9 L1296.7 338.6 L1294.7 339.3 L1292.7 340.1 L1290.7 340.9 L1288.7 341.7 L1286.7 342.7 L1284.7 343.7 L1282.7 344.6 L1280.7 345.6 L1278.7 346.4 L1276.7 347.2 L1274.7 347.9 L1272.7 348.6 L1270.7 349.3Z" fill="#3b3b3b" fill-opacity="0.2"/>
<path d="M1270.7 343.3 L1272.7 342.6 L1274.7 341.8 L1276.7 341 L1278.7 340.2 L1280.7 339.2 L1282.7 338.3 L1284.7 337.2 L1286.7 336.2 L1288.7 335.2 L1290.7 334.3 L1292.7 333.4 L1294.7 332.6 L1296.7 331.8 L1298.6 331.1 L1300.6 330.4 L1302.6 329.8 L1304.6 329.2 L1306.6 328.7 L1308.6 328.3 L1310.6 328 L1312.6 327.7 L1314.6 327.6 L1316.6 327.4 L1318.6 327.4 L1320.6 327.4 L1322.6 327.4 L1324.6 327.4 L1326.6 327.5 L1328.6 327.7 L1330.6 327.9 L1332.6 328.2 L1334.6 328.4 L1336.6 328.7 L1338.6 329 L1340.6 329.3 L1342.6 329.7 L1344.6 330 L1346.6 330.3 L1348.6 330.6 L1350.6 330.9 L1352.6 331.2 L1354.6 331.5 L1356.6 331.7 L1358.6 332 L1360.6 332.3 L1362.6 332.7 L1364.6 333.1 L1366.6 333.5 L1368.6 334 L1370.6 334.4 L1372.6 334.9 L1374.6 335.4 L1376.6 336 L1378.6 336.5 L1380.6 337.1 L1382.6 337.7 L1384.5 338.4 L1386.5 339.1 L1388.5 340 L1390.5 340.9 L1392.5 341.9 L1394.5 343 L1396.5 344.1 L1398.5 345.3 L1400.5 346.5 L1402.5 347.7 L1404.5 348.9 L1406.5 350.1 L1408.5 351.3 L1410.5 352.5 L1412.5 353.7 L1414.5 354.9 L1416.5 356.1 L1418.5 357.3 L1420.5 358.4 L1422.5 359.4 L1424.5 360.2 L1426.5 360.9 L1428.5 361.5 L1430.5 362 L1432.5 362.4 L1434.5 362.6 L1436.5 362.7 L1438.5 362.6 L1440.5 362.4 L1442.5 362.2 L1444.5 361.8 L1446.5 361.3 L1448.5 360.7 L1450.5 360.1 L1452.5 359.5 L1454.5 358.7 L1456.5 357.9 L1458.5 357.1 L1460.5 356.3 L1462.5 355.5 L1464.5 354.7 L1466.5 354.1 L1468.5 353.4 L1470.4 352.8 L1472.4 352.2 L1474.4 351.7 L1476.4 351.2 L1478.4 350.8 L1480.4 350.4 L1482.4 350.1 L1484.4 349.9 L1486.4 349.8 L1488.4 349.6 L1490.4 349.5 L1492.4 349.3 L1494.4 349.2 L1496.4 349.1 L1498.4 349 L1500.4 348.9 L1502.4 348.7 L1504.4 348.6 L1506.4 348.4 L1508.4 348.2 L1510.4 348 L1512.4 347.7 L1514.4 347.5 L1516.4 347.3 L1518.4 347 L1520.4 346.8 L1522.4 346.5 L1524.4 346.2 L1526.4 346 L1528.4 345.7" fill="none" stroke="#3b3b3b" stroke-width="6.2" stroke-linejoin="round" stroke-linecap="butt"/>
<path d="M1270.7 325.8 L1272.7 324.5 L1274.7 323.2 L1276.7 321.9 L1278.7 320.5 L1280.7 319 L1282.7 317.5 L1284.7 315.9 L1286.7 314.3 L1288.7 312.8 L1290.7 311.3 L1292.7 310 L1294.7 308.7 L1296.7 307.5 L1298.6 306.3 L1300.6 305.3 L1302.6 304.5 L1304.6 303.8 L1306.6 303.2 L1308.6 302.8 L1310.6 302.5 L1312.6 302.2 L1314.6 302.1 L1316.6 302 L1318.6 302 L1320.6 302.1 L1322.6 302.2 L1324.6 302.4 L1326.6 302.7 L1328.6 303.1 L1330.6 303.6 L1332.6 304.1 L1334.6 304.6 L1336.6 305.2 L1338.6 305.8 L1340.6 306.4 L1342.6 307 L1344.6 307.6 L1346.6 308.2 L1348.6 308.7 L1350.6 309.3 L1352.6 309.8 L1354.6 310.2 L1356.6 310.7 L1358.6 311.2 L1360.6 311.7 L1362.6 312.2 L1364.6 312.7 L1366.6 313.2 L1368.6 313.7 L1370.6 314.2 L1372.6 314.8 L1374.6 315.5 L1376.6 316.2 L1378.6 317 L1380.6 317.8 L1382.6 318.7 L1384.5 319.7 L1386.5 320.7 L1388.5 321.8 L1390.5 323 L1392.5 324.2 L1394.5 325.5 L1396.5 326.9 L1398.5 328.3 L1400.5 329.7 L1402.5 331.1 L1404.5 332.5 L1406.5 334 L1408.5 335.7 L1410.5 337.5 L1412.5 339.3 L1414.5 341.1 L1416.5 342.8 L1418.5 344.6 L1420.5 346.4 L1422.5 348.2 L1424.5 350 L1426.5 351.8 L1428.5 353.6 L1430.5 355.3 L1432.5 356.8 L1434.5 358 L1436.5 359 L1438.5 359.9 L1440.5 360.5 L1442.5 361 L1444.5 361.3 L1446.5 361.4 L1448.5 361.5 L1450.5 361.5 L1452.5 361.2 L1454.5 360.8 L1456.5 360.3 L1458.5 359.8 L1460.5 359.2 L1462.5 358.5 L1464.5 357.7 L1466.5 356.9 L1468.5 356.1 L1470.4 355.3 L1472.4 354.4 L1474.4 353.5 L1476.4 352.5 L1478.4 351.5 L1480.4 350.5 L1482.4 349.5 L1484.4 348.6 L1486.4 347.7 L1488.4 346.8 L1490.4 345.9 L1492.4 345 L1494.4 344.1 L1496.4 343.2 L1498.4 342.2 L1500.4 341.2 L1502.4 340.2 L1504.4 339.2 L1506.4 338.1 L1508.4 337 L1510.4 336 L1512.4 334.9 L1514.4 333.8 L1516.4 332.7 L1518.4 331.6 L1520.4 330.5 L1522.4 329.4 L1524.4 328.4 L1526.4 327.4 L1528.4 326.4 L1528.4 354.3 L1526.4 355 L1524.4 355.7 L1522.4 356.5 L1520.4 357.3 L1518.4 358.2 L1516.4 359.1 L1514.4 360 L1512.4 360.9 L1510.4 361.9 L1508.4 362.8 L1506.4 363.7 L1504.4 364.6 L1502.4 365.6 L1500.4 366.5 L1498.4 367.4 L1496.4 368.2 L1494.4 369.1 L1492.4 369.9 L1490.4 370.8 L1488.4 371.6 L1486.4 372.5 L1484.4 373.3 L1482.4 374.2 L1480.4 375.2 L1478.4 376.2 L1476.4 377.3 L1474.4 378.3 L1472.4 379.4 L1470.4 380.4 L1468.5 381.4 L1466.5 382.4 L1464.5 383.4 L1462.5 384.4 L1460.5 385.3 L1458.5 386.2 L1456.5 386.9 L1454.5 387.6 L1452.5 388.3 L1450.5 388.7 L1448.5 389 L1446.5 389.1 L1444.5 389 L1442.5 388.8 L1440.5 388.4 L1438.5 387.8 L1436.5 386.8 L1434.5 385.6 L1432.5 384.2 L1430.5 382.5 L1428.5 380.4 L1426.5 378.2 L1424.5 376 L1422.5 373.8 L1420.5 371.6 L1418.5 369.4 L1416.5 367.2 L1414.5 365 L1412.5 362.7 L1410.5 360.6 L1408.5 358.4 L1406.5 356.4 L1404.5 354.7 L1402.5 353.1 L1400.5 351.6 L1398.5 350.2 L1396.5 348.8 L1394.5 347.5 L1392.5 346.3 L1390.5 345.1 L1388.5 344.1 L1386.5 343.1 L1384.5 342.2 L1382.6 341.4 L1380.6 340.6 L1378.6 340 L1376.6 339.4 L1374.6 338.8 L1372.6 338.3 L1370.6 337.9 L1368.6 337.6 L1366.6 337.3 L1364.6 336.9 L1362.6 336.6 L1360.6 336.3 L1358.6 336 L1356.6 335.7 L1354.6 335.4 L1352.6 335.1 L1350.6 334.8 L1348.6 334.5 L1346.6 334.1 L1344.6 333.8 L1342.6 333.4 L1340.6 333 L1338.6 332.6 L1336.6 332.3 L1334.6 331.9 L1332.6 331.6 L1330.6 331.3 L1328.6 331 L1326.6 330.8 L1324.6 330.7 L1322.6 330.7 L1320.6 330.7 L1318.6 330.8 L1316.6 330.9 L1314.6 331.2 L1312.6 331.5 L1310.6 331.9 L1308.6 332.4 L1306.6 332.9 L1304.6 333.5 L1302.6 334.3 L1300.6 335.2 L1298.6 336.2 L1296.7 337.3 L1294.7 338.5 L1292.7 339.6 L1290.7 340.8 L1288.7 342 L1286.7 343.3 L1284.7 344.6 L1282.7 345.9 L1280.7 347.1 L1278.7 348.2 L1276.7 349.2 L1274.7 350.1 L1272.7 350.9 L1270.7 351.7Z" fill="#0072bd" fill-opacity="0.2"/>
<path d="M1270.7 338.7 L1272.7 337.7 L1274.7 336.7 L1276.7 335.6 L1278.7 334.4 L1280.7 333.1 L1282.7 331.7 L1284.7 330.3 L1286.7 328.8 L1288.7 327.4 L1290.7 326.1 L1292.7 324.8 L1294.7 323.6 L1296.7 322.4 L1298.6 321.3 L1300.6 320.3 L1302.6 319.4 L1304.6 318.7 L1306.6 318.1 L1308.6 317.6 L1310.6 317.2 L1312.6 316.9 L1314.6 316.6 L1316.6 316.5 L1318.6 316.4 L1320.6 316.4 L1322.6 316.5 L1324.6 316.6 L1326.6 316.7 L1328.6 317 L1330.6 317.4 L1332.6 317.9 L1334.6 318.3 L1336.6 318.7 L1338.6 319.2 L1340.6 319.7 L1342.6 320.2 L1344.6 320.7 L1346.6 321.2 L1348.6 321.6 L1350.6 322 L1352.6 322.4 L1354.6 322.8 L1356.6 323.2 L1358.6 323.6 L1360.6 324 L1362.6 324.4 L1364.6 324.8 L1366.6 325.2 L1368.6 325.6 L1370.6 326 L1372.6 326.5 L1374.6 327.1 L1376.6 327.8 L1378.6 328.5 L1380.6 329.2 L1382.6 330 L1384.5 330.9 L1386.5 331.9 L1388.5 332.9 L1390.5 334.1 L1392.5 335.3 L1394.5 336.5 L1396.5 337.8 L1398.5 339.2 L1400.5 340.6 L1402.5 342.1 L1404.5 343.6 L1406.5 345.2 L1408.5 347 L1410.5 349 L1412.5 351 L1414.5 353 L1416.5 355 L1418.5 357 L1420.5 359 L1422.5 361 L1424.5 363 L1426.5 365 L1428.5 367 L1430.5 368.9 L1432.5 370.5 L1434.5 371.8 L1436.5 372.9 L1438.5 373.8 L1440.5 374.5 L1442.5 374.9 L1444.5 375.2 L1446.5 375.2 L1448.5 375.2 L1450.5 375.1 L1452.5 374.7 L1454.5 374.2 L1456.5 373.6 L1458.5 373 L1460.5 372.3 L1462.5 371.5 L1464.5 370.6 L1466.5 369.7 L1468.5 368.8 L1470.4 367.8 L1472.4 366.9 L1474.4 365.9 L1476.4 364.9 L1478.4 363.9 L1480.4 362.8 L1482.4 361.9 L1484.4 361 L1486.4 360.1 L1488.4 359.2 L1490.4 358.4 L1492.4 357.5 L1494.4 356.6 L1496.4 355.7 L1498.4 354.8 L1500.4 353.9 L1502.4 352.9 L1504.4 351.9 L1506.4 350.9 L1508.4 349.9 L1510.4 348.9 L1512.4 347.9 L1514.4 346.9 L1516.4 345.9 L1518.4 344.9 L1520.4 343.9 L1522.4 342.9 L1524.4 342 L1526.4 341.2 L1528.4 340.3" fill="none" stroke="#0072bd" stroke-width="6.2" stroke-linejoin="round" stroke-linecap="butt"/>
</g>
<path d="M1270.9 343.1H1529" stroke="#333" stroke-width="3" stroke-dasharray="3 3.13" fill="none"/>
<path d="M1270.7 276.3V443.2H1528.7" stroke="#6a6a6a" stroke-width="1.3" fill="none"/>
<path d="M1270.7 276.9h2.6M1270.7 310h2.6M1270.7 343.1h2.6M1270.7 376.3h2.6M1270.7 409.4h2.6M1270.7 442.6h2.6M1270.7 442.9v-2.6M1399.7 442.9v-2.6M1528.7 442.9v-2.6" stroke="#6a6a6a" stroke-width="1" fill="none"/>
<rect x="1293.1" y="433.1" width="100.4" height="10.1" fill="#0072bd"/>
<path d="M1296 433.1v10.1M1300.8 433.1v10.1M1305.5 433.1v10.1M1310.2 433.1v10.1M1315 433.1v10.1M1319.7 433.1v10.1M1324.4 433.1v10.1M1329.1 433.1v10.1M1333.9 433.1v10.1M1338.6 433.1v10.1M1343.3 433.1v10.1M1348.1 433.1v10.1M1352.8 433.1v10.1M1357.5 433.1v10.1M1362.2 433.1v10.1M1367 433.1v10.1M1371.7 433.1v10.1M1376.4 433.1v10.1M1381.2 433.1v10.1M1385.9 433.1v10.1M1390.6 433.1v10.1" stroke="#000" stroke-width="2.2" fill="none"/>
<rect x="1431.7" y="433.1" width="61.9" height="10.1" fill="#0072bd"/>
<path d="M1434.6 433.1v10.1M1439.3 433.1v10.1M1443.9 433.1v10.1M1448.6 433.1v10.1M1453.3 433.1v10.1M1458 433.1v10.1M1462.7 433.1v10.1M1467.3 433.1v10.1M1472 433.1v10.1M1476.7 433.1v10.1M1481.4 433.1v10.1M1486 433.1v10.1M1490.7 433.1v10.1" stroke="#000" stroke-width="2.2" fill="none"/>
<text transform="translate(1263.3 284.7) scale(1 1.02)" font-size="19.05" text-anchor="end" fill="#1a1a1a" stroke="#1a1a1a" stroke-width="0.2">20</text>
<text transform="translate(1263.3 317.8) scale(1 1.02)" font-size="19.05" text-anchor="end" fill="#1a1a1a" stroke="#1a1a1a" stroke-width="0.2">10</text>
<text transform="translate(1263.3 350.9) scale(1 1.02)" font-size="19.05" text-anchor="end" fill="#1a1a1a" stroke="#1a1a1a" stroke-width="0.2">0</text>
<text transform="translate(1263.3 384.1) scale(1 1.02)" font-size="19.05" text-anchor="end" fill="#1a1a1a" stroke="#1a1a1a" stroke-width="0.2">-10</text>
<text transform="translate(1263.3 417.2) scale(1 1.02)" font-size="19.05" text-anchor="end" fill="#1a1a1a" stroke="#1a1a1a" stroke-width="0.2">-20</text>
<text transform="translate(1263.3 450.4) scale(1 1.02)" font-size="19.05" text-anchor="end" fill="#1a1a1a" stroke="#1a1a1a" stroke-width="0.2">-30</text>
<text transform="translate(1270.5 470) scale(1 1.02)" font-size="19.05" text-anchor="middle" fill="#1a1a1a" stroke="#1a1a1a" stroke-width="0.2">0</text>
<text transform="translate(1399.5 470) scale(1 1.02)" font-size="19.05" text-anchor="middle" fill="#1a1a1a" stroke="#1a1a1a" stroke-width="0.2">50</text>
<text transform="translate(1528.5 470) scale(1 1.02)" font-size="19.05" text-anchor="middle" fill="#1a1a1a" stroke="#1a1a1a" stroke-width="0.2">100</text>
<text transform="translate(1197.97 359.6) rotate(-90) scale(1 0.96)" font-size="21.3" text-anchor="middle" fill="#1a1a1a" stroke="#1a1a1a" stroke-width="0.2">Hip</text>
<text transform="translate(1224.97 359.6) rotate(-90) scale(1 0.96)" font-size="21.2" text-anchor="middle" fill="#1a1a1a" stroke="#1a1a1a" stroke-width="0.2">Abd [Degrees] Add</text>
</g>
<g>
<clipPath id="c03"><rect x="1265.7" y="22.3" width="268" height="168.6"/></clipPath>
<g clip-path="url(#c03)">
<path d="M1270.7 83.7 L1272.7 83 L1274.7 82.2 L1276.7 81.5 L1278.7 80.7 L1280.7 80 L1282.7 79.2 L1284.7 78.5 L1286.7 77.8 L1288.7 77.1 L1290.7 76.4 L1292.7 75.8 L1294.7 75.3 L1296.7 74.9 L1298.6 74.5 L1300.6 74.2 L1302.6 74 L1304.6 73.8 L1306.6 73.8 L1308.6 73.8 L1310.6 73.9 L1312.6 74.1 L1314.6 74.5 L1316.6 75.1 L1318.6 75.7 L1320.6 76.5 L1322.6 77.3 L1324.6 78.3 L1326.6 79.3 L1328.6 80.3 L1330.6 81.3 L1332.6 82.3 L1334.6 83.3 L1336.6 84.2 L1338.6 85.1 L1340.6 85.9 L1342.6 86.8 L1344.6 87.6 L1346.6 88.3 L1348.6 89 L1350.6 89.6 L1352.6 90.1 L1354.6 90.6 L1356.6 91 L1358.6 91.4 L1360.6 91.7 L1362.6 92 L1364.6 92.2 L1366.6 92.4 L1368.6 92.6 L1370.6 92.8 L1372.6 93 L1374.6 93.2 L1376.6 93.4 L1378.6 93.6 L1380.6 93.8 L1382.6 94 L1384.5 94.2 L1386.5 94.5 L1388.5 94.8 L1390.5 95.1 L1392.5 95.5 L1394.5 96 L1396.5 96.5 L1398.5 97 L1400.5 97.5 L1402.5 98.1 L1404.5 98.6 L1406.5 99.2 L1408.5 99.8 L1410.5 100.3 L1412.5 100.9 L1414.5 101.4 L1416.5 102 L1418.5 102.5 L1420.5 103 L1422.5 103.5 L1424.5 104 L1426.5 104.3 L1428.5 104.6 L1430.5 104.8 L1432.5 105 L1434.5 105.1 L1436.5 105.1 L1438.5 105 L1440.5 104.8 L1442.5 104.4 L1444.5 103.9 L1446.5 103.3 L1448.5 102.5 L1450.5 101.6 L1452.5 100.7 L1454.5 99.8 L1456.5 98.8 L1458.5 97.9 L1460.5 97.1 L1462.5 96.2 L1464.5 95.4 L1466.5 94.7 L1468.5 93.9 L1470.4 93.2 L1472.4 92.5 L1474.4 91.9 L1476.4 91.3 L1478.4 90.8 L1480.4 90.4 L1482.4 90 L1484.4 89.7 L1486.4 89.4 L1488.4 89.2 L1490.4 89 L1492.4 88.8 L1494.4 88.7 L1496.4 88.5 L1498.4 88.4 L1500.4 88.1 L1502.4 87.9 L1504.4 87.6 L1506.4 87.4 L1508.4 87.2 L1510.4 86.9 L1512.4 86.8 L1514.4 86.6 L1516.4 86.4 L1518.4 86.2 L1520.4 85.9 L1522.4 85.7 L1524.4 85.4 L1526.4 85.1 L1528.4 84.7 L1528.4 100.7 L1526.4 101 L1524.4 101.3 L1522.4 101.6 L1520.4 101.9 L1518.4 102.1 L1516.4 102.3 L1514.4 102.5 L1512.4 102.7 L1510.4 102.9 L1508.4 103.1 L1506.4 103.3 L1504.4 103.6 L1502.4 103.8 L1500.4 104.1 L1498.4 104.3 L1496.4 104.5 L1494.4 104.6 L1492.4 104.8 L1490.4 104.9 L1488.4 105.1 L1486.4 105.3 L1484.4 105.6 L1482.4 105.9 L1480.4 106.3 L1478.4 106.8 L1476.4 107.3 L1474.4 107.8 L1472.4 108.4 L1470.4 109.1 L1468.5 109.8 L1466.5 110.6 L1464.5 111.4 L1462.5 112.2 L1460.5 113 L1458.5 113.9 L1456.5 114.8 L1454.5 115.7 L1452.5 116.7 L1450.5 117.6 L1448.5 118.4 L1446.5 119.2 L1444.5 119.8 L1442.5 120.3 L1440.5 120.7 L1438.5 121 L1436.5 121.1 L1434.5 121.1 L1432.5 120.9 L1430.5 120.8 L1428.5 120.6 L1426.5 120.3 L1424.5 119.9 L1422.5 119.4 L1420.5 118.9 L1418.5 118.4 L1416.5 117.9 L1414.5 117.4 L1412.5 116.8 L1410.5 116.3 L1408.5 115.7 L1406.5 115.1 L1404.5 114.6 L1402.5 114 L1400.5 113.5 L1398.5 112.9 L1396.5 112.4 L1394.5 111.9 L1392.5 111.5 L1390.5 111.1 L1388.5 110.7 L1386.5 110.4 L1384.5 110.2 L1382.6 110 L1380.6 109.8 L1378.6 109.6 L1376.6 109.4 L1374.6 109.2 L1372.6 109 L1370.6 108.8 L1368.6 108.6 L1366.6 108.4 L1364.6 108.2 L1362.6 108 L1360.6 107.7 L1358.6 107.3 L1356.6 107 L1354.6 106.5 L1352.6 106 L1350.6 105.5 L1348.6 104.9 L1346.6 104.3 L1344.6 103.5 L1342.6 102.7 L1340.6 101.9 L1338.6 101 L1336.6 100.1 L1334.6 99.2 L1332.6 98.3 L1330.6 97.3 L1328.6 96.3 L1326.6 95.2 L1324.6 94.2 L1322.6 93.3 L1320.6 92.4 L1318.6 91.7 L1316.6 91 L1314.6 90.5 L1312.6 90.1 L1310.6 89.8 L1308.6 89.7 L1306.6 89.7 L1304.6 89.8 L1302.6 89.9 L1300.6 90.1 L1298.6 90.5 L1296.7 90.8 L1294.7 91.3 L1292.7 91.8 L1290.7 92.3 L1288.7 93 L1286.7 93.7 L1284.7 94.4 L1282.7 95.2 L1280.7 95.9 L1278.7 96.6 L1276.7 97.4 L1274.7 98.1 L1272.7 98.9 L1270.7 99.7Z" fill="#3b3b3b" fill-opacity="0.2"/>
<path d="M1270.7 91.7 L1272.7 90.9 L1274.7 90.2 L1276.7 89.4 L1278.7 88.7 L1280.7 87.9 L1282.7 87.2 L1284.7 86.5 L1286.7 85.8 L1288.7 85.1 L1290.7 84.4 L1292.7 83.8 L1294.7 83.3 L1296.7 82.9 L1298.6 82.5 L1300.6 82.2 L1302.6 81.9 L1304.6 81.8 L1306.6 81.7 L1308.6 81.7 L1310.6 81.9 L1312.6 82.1 L1314.6 82.5 L1316.6 83 L1318.6 83.7 L1320.6 84.5 L1322.6 85.3 L1324.6 86.3 L1326.6 87.3 L1328.6 88.3 L1330.6 89.3 L1332.6 90.3 L1334.6 91.2 L1336.6 92.2 L1338.6 93 L1340.6 93.9 L1342.6 94.7 L1344.6 95.5 L1346.6 96.3 L1348.6 96.9 L1350.6 97.5 L1352.6 98.1 L1354.6 98.5 L1356.6 99 L1358.6 99.4 L1360.6 99.7 L1362.6 100 L1364.6 100.2 L1366.6 100.4 L1368.6 100.6 L1370.6 100.8 L1372.6 101 L1374.6 101.2 L1376.6 101.4 L1378.6 101.6 L1380.6 101.8 L1382.6 102 L1384.5 102.2 L1386.5 102.4 L1388.5 102.7 L1390.5 103.1 L1392.5 103.5 L1394.5 104 L1396.5 104.5 L1398.5 105 L1400.5 105.5 L1402.5 106.1 L1404.5 106.6 L1406.5 107.2 L1408.5 107.7 L1410.5 108.3 L1412.5 108.9 L1414.5 109.4 L1416.5 109.9 L1418.5 110.5 L1420.5 111 L1422.5 111.5 L1424.5 111.9 L1426.5 112.3 L1428.5 112.6 L1430.5 112.8 L1432.5 113 L1434.5 113.1 L1436.5 113.1 L1438.5 113 L1440.5 112.7 L1442.5 112.3 L1444.5 111.8 L1446.5 111.2 L1448.5 110.5 L1450.5 109.6 L1452.5 108.7 L1454.5 107.7 L1456.5 106.8 L1458.5 105.9 L1460.5 105 L1462.5 104.2 L1464.5 103.4 L1466.5 102.6 L1468.5 101.9 L1470.4 101.1 L1472.4 100.5 L1474.4 99.8 L1476.4 99.3 L1478.4 98.8 L1480.4 98.4 L1482.4 98 L1484.4 97.6 L1486.4 97.4 L1488.4 97.1 L1490.4 96.9 L1492.4 96.8 L1494.4 96.7 L1496.4 96.5 L1498.4 96.3 L1500.4 96.1 L1502.4 95.9 L1504.4 95.6 L1506.4 95.4 L1508.4 95.1 L1510.4 94.9 L1512.4 94.7 L1514.4 94.5 L1516.4 94.3 L1518.4 94.1 L1520.4 93.9 L1522.4 93.6 L1524.4 93.3 L1526.4 93 L1528.4 92.7" fill="none" stroke="#3b3b3b" stroke-width="6.2" stroke-linejoin="round" stroke-linecap="butt"/>
<path d="M1270.7 73.4 L1272.7 72.3 L1274.7 71.2 L1276.7 70.1 L1278.7 69 L1280.7 67.9 L1282.7 66.9 L1284.7 65.8 L1286.7 64.8 L1288.7 63.9 L1290.7 63 L1292.7 62.2 L1294.7 61.6 L1296.7 61.1 L1298.6 60.6 L1300.6 60.2 L1302.6 59.9 L1304.6 59.8 L1306.6 59.8 L1308.6 60 L1310.6 60.4 L1312.6 61 L1314.6 61.7 L1316.6 62.6 L1318.6 63.6 L1320.6 64.9 L1322.6 66.4 L1324.6 67.9 L1326.6 69.5 L1328.6 71.1 L1330.6 72.8 L1332.6 74.5 L1334.6 76.2 L1336.6 77.9 L1338.6 79.6 L1340.6 81.1 L1342.6 82.5 L1344.6 83.8 L1346.6 84.9 L1348.6 85.8 L1350.6 86.7 L1352.6 87.4 L1354.6 88.1 L1356.6 88.7 L1358.6 89.2 L1360.6 89.5 L1362.6 89.8 L1364.6 90.1 L1366.6 90.4 L1368.6 90.6 L1370.6 90.8 L1372.6 90.9 L1374.6 91.1 L1376.6 91.3 L1378.6 91.5 L1380.6 91.6 L1382.6 91.8 L1384.5 92 L1386.5 92.1 L1388.5 92.3 L1390.5 92.5 L1392.5 92.9 L1394.5 93.4 L1396.5 93.9 L1398.5 94.5 L1400.5 95.2 L1402.5 95.8 L1404.5 96.4 L1406.5 97.1 L1408.5 97.7 L1410.5 98.4 L1412.5 99.1 L1414.5 99.8 L1416.5 100.5 L1418.5 101.2 L1420.5 101.8 L1422.5 102.4 L1424.5 102.9 L1426.5 103.4 L1428.5 103.9 L1430.5 104.4 L1432.5 104.8 L1434.5 105 L1436.5 105.2 L1438.5 105.3 L1440.5 105.1 L1442.5 104.8 L1444.5 104.3 L1446.5 103.8 L1448.5 103.2 L1450.5 102.5 L1452.5 101.5 L1454.5 100.3 L1456.5 99 L1458.5 97.6 L1460.5 96.1 L1462.5 94.6 L1464.5 92.9 L1466.5 91.2 L1468.5 89.7 L1470.4 88.3 L1472.4 87.1 L1474.4 86 L1476.4 85.1 L1478.4 84.2 L1480.4 83.4 L1482.4 82.6 L1484.4 81.8 L1486.4 81.2 L1488.4 80.6 L1490.4 80.2 L1492.4 79.8 L1494.4 79.4 L1496.4 79.1 L1498.4 78.8 L1500.4 78.6 L1502.4 78.4 L1504.4 78.2 L1506.4 78 L1508.4 77.8 L1510.4 77.6 L1512.4 77.4 L1514.4 77.2 L1516.4 77 L1518.4 76.8 L1520.4 76.6 L1522.4 76.4 L1524.4 76.2 L1526.4 76 L1528.4 75.8 L1528.4 95.7 L1526.4 95.9 L1524.4 96.1 L1522.4 96.3 L1520.4 96.5 L1518.4 96.7 L1516.4 96.9 L1514.4 97.1 L1512.4 97.3 L1510.4 97.5 L1508.4 97.7 L1506.4 97.9 L1504.4 98.1 L1502.4 98.3 L1500.4 98.5 L1498.4 98.7 L1496.4 99 L1494.4 99.4 L1492.4 99.9 L1490.4 100.4 L1488.4 101 L1486.4 101.8 L1484.4 102.6 L1482.4 103.6 L1480.4 104.6 L1478.4 105.7 L1476.4 106.8 L1474.4 108 L1472.4 109.4 L1470.4 110.9 L1468.5 112.5 L1466.5 114.4 L1464.5 116.3 L1462.5 118.3 L1460.5 120.1 L1458.5 121.8 L1456.5 123.5 L1454.5 125 L1452.5 126.5 L1450.5 127.7 L1448.5 128.6 L1446.5 129.4 L1444.5 130 L1442.5 130.6 L1440.5 131 L1438.5 131.2 L1436.5 131.1 L1434.5 130.9 L1432.5 130.7 L1430.5 130.3 L1428.5 129.8 L1426.5 129.3 L1424.5 128.7 L1422.5 128.1 L1420.5 127.5 L1418.5 126.8 L1416.5 126.1 L1414.5 125.3 L1412.5 124.5 L1410.5 123.8 L1408.5 123 L1406.5 122.3 L1404.5 121.6 L1402.5 120.9 L1400.5 120.2 L1398.5 119.5 L1396.5 118.8 L1394.5 118.1 L1392.5 117.6 L1390.5 117.1 L1388.5 116.9 L1386.5 116.6 L1384.5 116.4 L1382.6 116.2 L1380.6 115.9 L1378.6 115.7 L1376.6 115.5 L1374.6 115.2 L1372.6 115 L1370.6 114.8 L1368.6 114.6 L1366.6 114.3 L1364.6 114 L1362.6 113.7 L1360.6 113.4 L1358.6 113.1 L1356.6 112.7 L1354.6 112.1 L1352.6 111.5 L1350.6 110.8 L1348.6 110.1 L1346.6 109.2 L1344.6 108.3 L1342.6 107.2 L1340.6 105.9 L1338.6 104.5 L1336.6 103 L1334.6 101.5 L1332.6 100 L1330.6 98.4 L1328.6 97 L1326.6 95.5 L1324.6 94.1 L1322.6 92.7 L1320.6 91.4 L1318.6 90.3 L1316.6 89.3 L1314.6 88.6 L1312.6 87.9 L1310.6 87.5 L1308.6 87.1 L1306.6 86.9 L1304.6 86.9 L1302.6 86.9 L1300.6 87 L1298.6 87.2 L1296.7 87.3 L1294.7 87.5 L1292.7 87.6 L1290.7 87.9 L1288.7 88.3 L1286.7 88.6 L1284.7 89 L1282.7 89.3 L1280.7 89.7 L1278.7 90 L1276.7 90.3 L1274.7 90.6 L1272.7 91 L1270.7 91.3Z" fill="#0072bd" fill-opacity="0.2"/>
<path d="M1270.7 82.3 L1272.7 81.6 L1274.7 80.9 L1276.7 80.2 L1278.7 79.5 L1280.7 78.8 L1282.7 78.1 L1284.7 77.4 L1286.7 76.7 L1288.7 76.1 L1290.7 75.4 L1292.7 74.9 L1294.7 74.5 L1296.7 74.2 L1298.6 73.9 L1300.6 73.6 L1302.6 73.4 L1304.6 73.4 L1306.6 73.4 L1308.6 73.6 L1310.6 73.9 L1312.6 74.5 L1314.6 75.1 L1316.6 76 L1318.6 76.9 L1320.6 78.1 L1322.6 79.5 L1324.6 81 L1326.6 82.5 L1328.6 84.1 L1330.6 85.6 L1332.6 87.2 L1334.6 88.8 L1336.6 90.5 L1338.6 92 L1340.6 93.5 L1342.6 94.9 L1344.6 96 L1346.6 97 L1348.6 97.9 L1350.6 98.7 L1352.6 99.5 L1354.6 100.1 L1356.6 100.7 L1358.6 101.1 L1360.6 101.5 L1362.6 101.8 L1364.6 102.1 L1366.6 102.3 L1368.6 102.6 L1370.6 102.8 L1372.6 103 L1374.6 103.2 L1376.6 103.4 L1378.6 103.6 L1380.6 103.8 L1382.6 104 L1384.5 104.2 L1386.5 104.4 L1388.5 104.6 L1390.5 104.8 L1392.5 105.2 L1394.5 105.7 L1396.5 106.4 L1398.5 107 L1400.5 107.7 L1402.5 108.3 L1404.5 109 L1406.5 109.7 L1408.5 110.4 L1410.5 111.1 L1412.5 111.8 L1414.5 112.5 L1416.5 113.3 L1418.5 114 L1420.5 114.7 L1422.5 115.3 L1424.5 115.8 L1426.5 116.3 L1428.5 116.8 L1430.5 117.3 L1432.5 117.7 L1434.5 118 L1436.5 118.2 L1438.5 118.2 L1440.5 118 L1442.5 117.7 L1444.5 117.2 L1446.5 116.6 L1448.5 115.9 L1450.5 115.1 L1452.5 114 L1454.5 112.7 L1456.5 111.2 L1458.5 109.7 L1460.5 108.1 L1462.5 106.4 L1464.5 104.6 L1466.5 102.8 L1468.5 101.1 L1470.4 99.6 L1472.4 98.3 L1474.4 97 L1476.4 96 L1478.4 94.9 L1480.4 94 L1482.4 93.1 L1484.4 92.2 L1486.4 91.5 L1488.4 90.8 L1490.4 90.3 L1492.4 89.8 L1494.4 89.4 L1496.4 89 L1498.4 88.8 L1500.4 88.6 L1502.4 88.4 L1504.4 88.2 L1506.4 88 L1508.4 87.8 L1510.4 87.6 L1512.4 87.4 L1514.4 87.2 L1516.4 87 L1518.4 86.8 L1520.4 86.6 L1522.4 86.3 L1524.4 86.1 L1526.4 85.9 L1528.4 85.7" fill="none" stroke="#0072bd" stroke-width="6.2" stroke-linejoin="round" stroke-linecap="butt"/>
</g>
<path d="M1270.9 95.4H1529" stroke="#333" stroke-width="3" stroke-dasharray="3 3.13" fill="none"/>
<path d="M1270.7 24.3V191.2H1528.7" stroke="#6a6a6a" stroke-width="1.3" fill="none"/>
<path d="M1270.7 47.8h2.6M1270.7 95.4h2.6M1270.7 143h2.6M1270.7 190.7h2.6M1270.7 190.9v-2.6M1399.7 190.9v-2.6M1528.7 190.9v-2.6" stroke="#6a6a6a" stroke-width="1" fill="none"/>
<rect x="1270.4" y="181.1" width="53.7" height="10.1" fill="#0072bd"/>
<path d="M1273.3 181.1v10.1M1278.1 181.1v10.1M1282.9 181.1v10.1M1287.7 181.1v10.1M1292.5 181.1v10.1M1297.3 181.1v10.1M1302 181.1v10.1M1306.8 181.1v10.1M1311.6 181.1v10.1M1316.4 181.1v10.1M1321.2 181.1v10.1" stroke="#000" stroke-width="2.2" fill="none"/>
<text transform="translate(1263.3 55.6) scale(1 1.02)" font-size="19.05" text-anchor="end" fill="#1a1a1a" stroke="#1a1a1a" stroke-width="0.2">10</text>
<text transform="translate(1263.3 103.2) scale(1 1.02)" font-size="19.05" text-anchor="end" fill="#1a1a1a" stroke="#1a1a1a" stroke-width="0.2">0</text>
<text transform="translate(1263.3 150.8) scale(1 1.02)" font-size="19.05" text-anchor="end" fill="#1a1a1a" stroke="#1a1a1a" stroke-width="0.2">-10</text>
<text transform="translate(1263.3 198.5) scale(1 1.02)" font-size="19.05" text-anchor="end" fill="#1a1a1a" stroke="#1a1a1a" stroke-width="0.2">-20</text>
<text transform="translate(1270.5 218) scale(1 1.02)" font-size="19.05" text-anchor="middle" fill="#1a1a1a" stroke="#1a1a1a" stroke-width="0.2">0</text>
<text transform="translate(1399.5 218) scale(1 1.02)" font-size="19.05" text-anchor="middle" fill="#1a1a1a" stroke="#1a1a1a" stroke-width="0.2">50</text>
<text transform="translate(1528.5 218) scale(1 1.02)" font-size="19.05" text-anchor="middle" fill="#1a1a1a" stroke="#1a1a1a" stroke-width="0.2">100</text>
<text transform="translate(1399.7 18.2)" font-size="22.3" text-anchor="middle" font-weight="bold" fill="#000">Coronal Kinematics/Kinetics</text>
<text transform="translate(1197.97 107.6) rotate(-90) scale(1 0.96)" font-size="21.3" text-anchor="middle" fill="#1a1a1a" stroke="#1a1a1a" stroke-width="0.2">Pelvis</text>
<text transform="translate(1224.97 107.6) rotate(-90) scale(1 0.96)" font-size="21.2" text-anchor="middle" fill="#1a1a1a" stroke="#1a1a1a" stroke-width="0.2">Down [Degrees] Up</text>
</g>
<g>
<clipPath id="c04"><rect x="1639.7" y="22.3" width="268" height="168.6"/></clipPath>
<g clip-path="url(#c04)">
<path d="M1644.7 65.2 L1646.7 65.1 L1648.7 65 L1650.7 64.9 L1652.7 64.8 L1654.7 64.8 L1656.7 64.7 L1658.7 64.7 L1660.7 64.7 L1662.7 64.8 L1664.7 64.8 L1666.7 64.9 L1668.7 65 L1670.7 65.1 L1672.6 65.3 L1674.6 65.5 L1676.6 65.7 L1678.6 66 L1680.6 66.3 L1682.6 66.6 L1684.6 67 L1686.6 67.3 L1688.6 67.7 L1690.6 68.1 L1692.6 68.6 L1694.6 69 L1696.6 69.5 L1698.6 70 L1700.6 70.5 L1702.6 71.1 L1704.6 71.7 L1706.6 72.3 L1708.6 73 L1710.6 73.7 L1712.6 74.4 L1714.6 75.2 L1716.6 76 L1718.6 76.8 L1720.6 77.6 L1722.6 78.4 L1724.6 79.2 L1726.6 80 L1728.6 80.8 L1730.6 81.6 L1732.6 82.4 L1734.6 83.2 L1736.6 83.9 L1738.6 84.7 L1740.6 85.4 L1742.6 86 L1744.6 86.7 L1746.6 87.4 L1748.6 88.1 L1750.6 88.8 L1752.6 89.5 L1754.6 90.1 L1756.6 90.8 L1758.5 91.4 L1760.5 92 L1762.5 92.5 L1764.5 93 L1766.5 93.4 L1768.5 93.7 L1770.5 94 L1772.5 94.2 L1774.5 94.4 L1776.5 94.6 L1778.5 94.8 L1780.5 94.9 L1782.5 95.1 L1784.5 95.1 L1786.5 95.2 L1788.5 95.2 L1790.5 95.2 L1792.5 95.1 L1794.5 95 L1796.5 94.9 L1798.5 94.8 L1800.5 94.6 L1802.5 94.4 L1804.5 94.1 L1806.5 93.8 L1808.5 93.5 L1810.5 93.2 L1812.5 92.8 L1814.5 92.4 L1816.5 92.1 L1818.5 91.7 L1820.5 91.3 L1822.5 90.8 L1824.5 90.4 L1826.5 89.9 L1828.5 89.4 L1830.5 88.9 L1832.5 88.3 L1834.5 87.7 L1836.5 87 L1838.5 86.4 L1840.5 85.7 L1842.5 84.9 L1844.4 84.1 L1846.4 83.3 L1848.4 82.5 L1850.4 81.7 L1852.4 80.9 L1854.4 80.1 L1856.4 79.3 L1858.4 78.5 L1860.4 77.7 L1862.4 76.9 L1864.4 76.1 L1866.4 75.3 L1868.4 74.5 L1870.4 73.7 L1872.4 73 L1874.4 72.2 L1876.4 71.4 L1878.4 70.6 L1880.4 69.8 L1882.4 69 L1884.4 68.2 L1886.4 67.5 L1888.4 67 L1890.4 66.4 L1892.4 65.9 L1894.4 65.4 L1896.4 64.8 L1898.4 64.3 L1900.4 63.7 L1902.4 63.2 L1902.4 91.1 L1900.4 91.6 L1898.4 92.2 L1896.4 92.7 L1894.4 93.3 L1892.4 93.8 L1890.4 94.3 L1888.4 94.9 L1886.4 95.4 L1884.4 96.1 L1882.4 96.9 L1880.4 97.7 L1878.4 98.5 L1876.4 99.3 L1874.4 100.1 L1872.4 100.9 L1870.4 101.7 L1868.4 102.5 L1866.4 103.2 L1864.4 104 L1862.4 104.8 L1860.4 105.6 L1858.4 106.4 L1856.4 107.2 L1854.4 108 L1852.4 108.8 L1850.4 109.6 L1848.4 110.4 L1846.4 111.2 L1844.4 112 L1842.5 112.8 L1840.5 113.6 L1838.5 114.3 L1836.5 114.9 L1834.5 115.6 L1832.5 116.2 L1830.5 116.8 L1828.5 117.3 L1826.5 117.8 L1824.5 118.3 L1822.5 118.7 L1820.5 119.2 L1818.5 119.6 L1816.5 120 L1814.5 120.3 L1812.5 120.7 L1810.5 121.1 L1808.5 121.4 L1806.5 121.7 L1804.5 122 L1802.5 122.3 L1800.5 122.5 L1798.5 122.7 L1796.5 122.8 L1794.5 122.9 L1792.5 123 L1790.5 123.1 L1788.5 123.1 L1786.5 123.1 L1784.5 123 L1782.5 123 L1780.5 122.8 L1778.5 122.7 L1776.5 122.5 L1774.5 122.3 L1772.5 122.1 L1770.5 121.9 L1768.5 121.6 L1766.5 121.3 L1764.5 120.9 L1762.5 120.4 L1760.5 119.9 L1758.5 119.3 L1756.6 118.7 L1754.6 118 L1752.6 117.4 L1750.6 116.7 L1748.6 116 L1746.6 115.3 L1744.6 114.6 L1742.6 113.9 L1740.6 113.3 L1738.6 112.6 L1736.6 111.8 L1734.6 111.1 L1732.6 110.3 L1730.6 109.5 L1728.6 108.7 L1726.6 107.9 L1724.6 107.1 L1722.6 106.3 L1720.6 105.5 L1718.6 104.7 L1716.6 103.9 L1714.6 103.1 L1712.6 102.3 L1710.6 101.6 L1708.6 100.9 L1706.6 100.2 L1704.6 99.6 L1702.6 99 L1700.6 98.4 L1698.6 97.9 L1696.6 97.4 L1694.6 96.9 L1692.6 96.5 L1690.6 96 L1688.6 95.6 L1686.6 95.2 L1684.6 94.9 L1682.6 94.5 L1680.6 94.2 L1678.6 93.9 L1676.6 93.6 L1674.6 93.4 L1672.6 93.2 L1670.7 93 L1668.7 92.9 L1666.7 92.8 L1664.7 92.7 L1662.7 92.7 L1660.7 92.6 L1658.7 92.6 L1656.7 92.6 L1654.7 92.7 L1652.7 92.7 L1650.7 92.8 L1648.7 92.9 L1646.7 93 L1644.7 93.1Z" fill="#3b3b3b" fill-opacity="0.2"/>
<path d="M1644.7 79.1 L1646.7 79 L1648.7 78.9 L1650.7 78.8 L1652.7 78.8 L1654.7 78.7 L1656.7 78.7 L1658.7 78.7 L1660.7 78.7 L1662.7 78.7 L1664.7 78.8 L1666.7 78.8 L1668.7 78.9 L1670.7 79.1 L1672.6 79.3 L1674.6 79.5 L1676.6 79.7 L1678.6 80 L1680.6 80.3 L1682.6 80.6 L1684.6 80.9 L1686.6 81.3 L1688.6 81.7 L1690.6 82.1 L1692.6 82.5 L1694.6 83 L1696.6 83.5 L1698.6 84 L1700.6 84.5 L1702.6 85.1 L1704.6 85.7 L1706.6 86.3 L1708.6 86.9 L1710.6 87.6 L1712.6 88.4 L1714.6 89.2 L1716.6 90 L1718.6 90.8 L1720.6 91.6 L1722.6 92.4 L1724.6 93.2 L1726.6 94 L1728.6 94.8 L1730.6 95.6 L1732.6 96.4 L1734.6 97.2 L1736.6 97.9 L1738.6 98.6 L1740.6 99.3 L1742.6 100 L1744.6 100.7 L1746.6 101.4 L1748.6 102.1 L1750.6 102.7 L1752.6 103.4 L1754.6 104.1 L1756.6 104.7 L1758.5 105.3 L1760.5 105.9 L1762.5 106.5 L1764.5 106.9 L1766.5 107.3 L1768.5 107.7 L1770.5 107.9 L1772.5 108.2 L1774.5 108.4 L1776.5 108.6 L1778.5 108.7 L1780.5 108.9 L1782.5 109 L1784.5 109.1 L1786.5 109.1 L1788.5 109.1 L1790.5 109.1 L1792.5 109.1 L1794.5 109 L1796.5 108.9 L1798.5 108.7 L1800.5 108.5 L1802.5 108.3 L1804.5 108.1 L1806.5 107.8 L1808.5 107.4 L1810.5 107.1 L1812.5 106.8 L1814.5 106.4 L1816.5 106 L1818.5 105.6 L1820.5 105.2 L1822.5 104.8 L1824.5 104.3 L1826.5 103.9 L1828.5 103.3 L1830.5 102.8 L1832.5 102.2 L1834.5 101.6 L1836.5 101 L1838.5 100.3 L1840.5 99.6 L1842.5 98.9 L1844.4 98.1 L1846.4 97.3 L1848.4 96.5 L1850.4 95.7 L1852.4 94.9 L1854.4 94.1 L1856.4 93.3 L1858.4 92.5 L1860.4 91.7 L1862.4 90.9 L1864.4 90.1 L1866.4 89.3 L1868.4 88.5 L1870.4 87.7 L1872.4 86.9 L1874.4 86.1 L1876.4 85.3 L1878.4 84.5 L1880.4 83.7 L1882.4 82.9 L1884.4 82.1 L1886.4 81.5 L1888.4 80.9 L1890.4 80.4 L1892.4 79.9 L1894.4 79.3 L1896.4 78.7 L1898.4 78.2 L1900.4 77.7 L1902.4 77.1" fill="none" stroke="#3b3b3b" stroke-width="6.2" stroke-linejoin="round" stroke-linecap="butt"/>
<path d="M1644.7 52.8 L1646.7 52.5 L1648.7 52.3 L1650.7 52.2 L1652.7 52.2 L1654.7 52.3 L1656.7 52.5 L1658.7 52.7 L1660.7 53 L1662.7 53.4 L1664.7 53.9 L1666.7 54.4 L1668.7 54.9 L1670.7 55.4 L1672.6 56 L1674.6 56.5 L1676.6 57.1 L1678.6 57.7 L1680.6 58.3 L1682.6 58.9 L1684.6 59.6 L1686.6 60.3 L1688.6 61 L1690.6 61.7 L1692.6 62.5 L1694.6 63.2 L1696.6 64 L1698.6 64.8 L1700.6 65.6 L1702.6 66.4 L1704.6 67.3 L1706.6 68.2 L1708.6 69 L1710.6 69.9 L1712.6 70.8 L1714.6 71.7 L1716.6 72.6 L1718.6 73.4 L1720.6 74.3 L1722.6 75.2 L1724.6 76.1 L1726.6 77 L1728.6 77.9 L1730.6 78.8 L1732.6 79.8 L1734.6 80.7 L1736.6 81.6 L1738.6 82.5 L1740.6 83.4 L1742.6 84.4 L1744.6 85.3 L1746.6 86.2 L1748.6 87.1 L1750.6 87.9 L1752.6 88.8 L1754.6 89.6 L1756.6 90.4 L1758.5 91.1 L1760.5 91.8 L1762.5 92.5 L1764.5 93.1 L1766.5 93.6 L1768.5 94.1 L1770.5 94.6 L1772.5 95 L1774.5 95.3 L1776.5 95.6 L1778.5 95.8 L1780.5 96 L1782.5 96.1 L1784.5 96.1 L1786.5 96.1 L1788.5 96.1 L1790.5 96 L1792.5 95.8 L1794.5 95.5 L1796.5 95.2 L1798.5 94.9 L1800.5 94.6 L1802.5 94.2 L1804.5 93.8 L1806.5 93.5 L1808.5 93.1 L1810.5 92.7 L1812.5 92.2 L1814.5 91.8 L1816.5 91.3 L1818.5 90.8 L1820.5 90.2 L1822.5 89.7 L1824.5 89.1 L1826.5 88.5 L1828.5 87.9 L1830.5 87.3 L1832.5 86.7 L1834.5 86 L1836.5 85.3 L1838.5 84.6 L1840.5 83.8 L1842.5 83 L1844.4 82.1 L1846.4 81.2 L1848.4 80.3 L1850.4 79.3 L1852.4 78.4 L1854.4 77.4 L1856.4 76.4 L1858.4 75.4 L1860.4 74.4 L1862.4 73.4 L1864.4 72.4 L1866.4 71.3 L1868.4 70.2 L1870.4 69.1 L1872.4 68 L1874.4 67 L1876.4 66 L1878.4 65 L1880.4 64 L1882.4 63 L1884.4 62.1 L1886.4 61.1 L1888.4 60.2 L1890.4 59.3 L1892.4 58.4 L1894.4 57.5 L1896.4 56.7 L1898.4 55.8 L1900.4 55 L1902.4 54.2 L1902.4 89.3 L1900.4 90.1 L1898.4 90.9 L1896.4 91.8 L1894.4 92.6 L1892.4 93.5 L1890.4 94.4 L1888.4 95.3 L1886.4 96.2 L1884.4 97.1 L1882.4 98.1 L1880.4 99.1 L1878.4 100 L1876.4 101 L1874.4 102.1 L1872.4 103.1 L1870.4 104.2 L1868.4 105.3 L1866.4 106.4 L1864.4 107.4 L1862.4 108.5 L1860.4 109.5 L1858.4 110.5 L1856.4 111.5 L1854.4 112.5 L1852.4 113.5 L1850.4 114.4 L1848.4 115.4 L1846.4 116.3 L1844.4 117.2 L1842.5 118 L1840.5 118.9 L1838.5 119.7 L1836.5 120.4 L1834.5 121.1 L1832.5 121.8 L1830.5 122.4 L1828.5 123 L1826.5 123.6 L1824.5 124.2 L1822.5 124.7 L1820.5 125.3 L1818.5 125.8 L1816.5 126.3 L1814.5 126.8 L1812.5 127.3 L1810.5 127.7 L1808.5 128.1 L1806.5 128.5 L1804.5 128.9 L1802.5 129.3 L1800.5 129.6 L1798.5 130 L1796.5 130.3 L1794.5 130.6 L1792.5 130.8 L1790.5 131 L1788.5 131.1 L1786.5 131.2 L1784.5 131.2 L1782.5 131.1 L1780.5 131 L1778.5 130.9 L1776.5 130.7 L1774.5 130.4 L1772.5 130 L1770.5 129.6 L1768.5 129.2 L1766.5 128.7 L1764.5 128.2 L1762.5 127.5 L1760.5 126.9 L1758.5 126.2 L1756.6 125.5 L1754.6 124.7 L1752.6 123.9 L1750.6 123 L1748.6 122.1 L1746.6 121.3 L1744.6 120.4 L1742.6 119.4 L1740.6 118.5 L1738.6 117.6 L1736.6 116.7 L1734.6 115.8 L1732.6 114.8 L1730.6 113.9 L1728.6 113 L1726.6 112.1 L1724.6 111.2 L1722.6 110.3 L1720.6 109.4 L1718.6 108.5 L1716.6 107.6 L1714.6 106.8 L1712.6 105.9 L1710.6 105 L1708.6 104.1 L1706.6 103.2 L1704.6 102.4 L1702.6 101.5 L1700.6 100.6 L1698.6 99.8 L1696.6 99.1 L1694.6 98.3 L1692.6 97.5 L1690.6 96.8 L1688.6 96.1 L1686.6 95.3 L1684.6 94.7 L1682.6 94 L1680.6 93.4 L1678.6 92.8 L1676.6 92.2 L1674.6 91.6 L1672.6 91 L1670.7 90.5 L1668.7 90 L1666.7 89.5 L1664.7 89 L1662.7 88.5 L1660.7 88.1 L1658.7 87.8 L1656.7 87.6 L1654.7 87.4 L1652.7 87.3 L1650.7 87.3 L1648.7 87.4 L1646.7 87.6 L1644.7 87.9Z" fill="#0072bd" fill-opacity="0.2"/>
<path d="M1644.7 70.4 L1646.7 70.1 L1648.7 69.8 L1650.7 69.7 L1652.7 69.7 L1654.7 69.8 L1656.7 70 L1658.7 70.3 L1660.7 70.6 L1662.7 70.9 L1664.7 71.4 L1666.7 71.9 L1668.7 72.4 L1670.7 72.9 L1672.6 73.5 L1674.6 74.1 L1676.6 74.6 L1678.6 75.2 L1680.6 75.8 L1682.6 76.5 L1684.6 77.1 L1686.6 77.8 L1688.6 78.5 L1690.6 79.2 L1692.6 80 L1694.6 80.8 L1696.6 81.5 L1698.6 82.3 L1700.6 83.1 L1702.6 83.9 L1704.6 84.8 L1706.6 85.7 L1708.6 86.6 L1710.6 87.5 L1712.6 88.3 L1714.6 89.2 L1716.6 90.1 L1718.6 91 L1720.6 91.8 L1722.6 92.7 L1724.6 93.6 L1726.6 94.5 L1728.6 95.5 L1730.6 96.4 L1732.6 97.3 L1734.6 98.2 L1736.6 99.1 L1738.6 100.1 L1740.6 101 L1742.6 101.9 L1744.6 102.8 L1746.6 103.7 L1748.6 104.6 L1750.6 105.5 L1752.6 106.3 L1754.6 107.2 L1756.6 107.9 L1758.5 108.7 L1760.5 109.4 L1762.5 110 L1764.5 110.6 L1766.5 111.2 L1768.5 111.7 L1770.5 112.1 L1772.5 112.5 L1774.5 112.8 L1776.5 113.1 L1778.5 113.3 L1780.5 113.5 L1782.5 113.6 L1784.5 113.6 L1786.5 113.7 L1788.5 113.6 L1790.5 113.5 L1792.5 113.3 L1794.5 113 L1796.5 112.7 L1798.5 112.4 L1800.5 112.1 L1802.5 111.7 L1804.5 111.4 L1806.5 111 L1808.5 110.6 L1810.5 110.2 L1812.5 109.8 L1814.5 109.3 L1816.5 108.8 L1818.5 108.3 L1820.5 107.8 L1822.5 107.2 L1824.5 106.6 L1826.5 106.1 L1828.5 105.5 L1830.5 104.9 L1832.5 104.2 L1834.5 103.6 L1836.5 102.9 L1838.5 102.1 L1840.5 101.3 L1842.5 100.5 L1844.4 99.6 L1846.4 98.7 L1848.4 97.8 L1850.4 96.9 L1852.4 95.9 L1854.4 95 L1856.4 94 L1858.4 93 L1860.4 92 L1862.4 91 L1864.4 89.9 L1866.4 88.8 L1868.4 87.7 L1870.4 86.6 L1872.4 85.6 L1874.4 84.5 L1876.4 83.5 L1878.4 82.5 L1880.4 81.5 L1882.4 80.6 L1884.4 79.6 L1886.4 78.7 L1888.4 77.7 L1890.4 76.8 L1892.4 75.9 L1894.4 75.1 L1896.4 74.2 L1898.4 73.4 L1900.4 72.6 L1902.4 71.8" fill="none" stroke="#0072bd" stroke-width="6.2" stroke-linejoin="round" stroke-linecap="butt"/>
</g>
<path d="M1644.9 90.9H1903" stroke="#333" stroke-width="3" stroke-dasharray="3 3.13" fill="none"/>
<path d="M1644.7 24.3V191.2H1902.7" stroke="#6a6a6a" stroke-width="1.3" fill="none"/>
<path d="M1644.7 24.3h2.6M1644.7 57.6h2.6M1644.7 90.9h2.6M1644.7 124.2h2.6M1644.7 157.5h2.6M1644.7 190.8h2.6M1644.7 190.9v-2.6M1773.7 190.9v-2.6M1902.7 190.9v-2.6" stroke="#6a6a6a" stroke-width="1" fill="none"/>
<rect x="1644.4" y="181.1" width="16.8" height="10.1" fill="#0072bd"/>
<path d="M1647.3 181.1v10.1M1650.1 181.1v10.1M1652.8 181.1v10.1M1655.6 181.1v10.1M1658.3 181.1v10.1" stroke="#000" stroke-width="2.2" fill="none"/>
<text transform="translate(1637.3 32.1) scale(1 1.02)" font-size="19.05" text-anchor="end" fill="#1a1a1a" stroke="#1a1a1a" stroke-width="0.2">20</text>
<text transform="translate(1637.3 65.4) scale(1 1.02)" font-size="19.05" text-anchor="end" fill="#1a1a1a" stroke="#1a1a1a" stroke-width="0.2">10</text>
<text transform="translate(1637.3 98.7) scale(1 1.02)" font-size="19.05" text-anchor="end" fill="#1a1a1a" stroke="#1a1a1a" stroke-width="0.2">0</text>
<text transform="translate(1637.3 132) scale(1 1.02)" font-size="19.05" text-anchor="end" fill="#1a1a1a" stroke="#1a1a1a" stroke-width="0.2">-10</text>
<text transform="translate(1637.3 165.3) scale(1 1.02)" font-size="19.05" text-anchor="end" fill="#1a1a1a" stroke="#1a1a1a" stroke-width="0.2">-20</text>
<text transform="translate(1637.3 198.6) scale(1 1.02)" font-size="19.05" text-anchor="end" fill="#1a1a1a" stroke="#1a1a1a" stroke-width="0.2">-30</text>
<text transform="translate(1644.5 218) scale(1 1.02)" font-size="19.05" text-anchor="middle" fill="#1a1a1a" stroke="#1a1a1a" stroke-width="0.2">0</text>
<text transform="translate(1773.5 218) scale(1 1.02)" font-size="19.05" text-anchor="middle" fill="#1a1a1a" stroke="#1a1a1a" stroke-width="0.2">50</text>
<text transform="translate(1902.5 218) scale(1 1.02)" font-size="19.05" text-anchor="middle" fill="#1a1a1a" stroke="#1a1a1a" stroke-width="0.2">100</text>
<text transform="translate(1773.7 18.2)" font-size="22.3" text-anchor="middle" font-weight="bold" fill="#000">Transversal Kinematics</text>
<text transform="translate(1571.97 107.6) rotate(-90) scale(1 0.96)" font-size="21.3" text-anchor="middle" fill="#1a1a1a" stroke="#1a1a1a" stroke-width="0.2">Pelvis</text>
<text transform="translate(1598.97 107.6) rotate(-90) scale(1 0.96)" font-size="21.2" text-anchor="middle" fill="#1a1a1a" stroke="#1a1a1a" stroke-width="0.2">Ext [Degrees] Int</text>
</g>
<g>
<clipPath id="c14"><rect x="1639.7" y="274.3" width="268" height="168.6"/></clipPath>
<g clip-path="url(#c14)">
<path d="M1644.7 309.8 L1646.7 308.5 L1648.7 306.9 L1650.7 305 L1652.7 302.6 L1654.7 300.3 L1656.7 298.2 L1658.7 296.5 L1660.7 295 L1662.7 293.8 L1664.7 293.1 L1666.7 292.8 L1668.7 293 L1670.7 293.3 L1672.6 293.8 L1674.6 294.4 L1676.6 295 L1678.6 295.7 L1680.6 296.3 L1682.6 296.7 L1684.6 297.1 L1686.6 297.4 L1688.6 297.7 L1690.6 298 L1692.6 298.2 L1694.6 298.4 L1696.6 298.5 L1698.6 298.7 L1700.6 298.8 L1702.6 298.9 L1704.6 299 L1706.6 299.1 L1708.6 299.2 L1710.6 299.3 L1712.6 299.4 L1714.6 299.4 L1716.6 299.4 L1718.6 299.3 L1720.6 299.2 L1722.6 299.2 L1724.6 299.1 L1726.6 299 L1728.6 298.9 L1730.6 298.9 L1732.6 298.8 L1734.6 298.7 L1736.6 298.5 L1738.6 298.4 L1740.6 298.3 L1742.6 298.2 L1744.6 298.2 L1746.6 298.2 L1748.6 298.3 L1750.6 298.4 L1752.6 298.6 L1754.6 298.9 L1756.6 299.3 L1758.5 299.8 L1760.5 300.4 L1762.5 301.1 L1764.5 301.8 L1766.5 302.6 L1768.5 303.4 L1770.5 304.1 L1772.5 304.8 L1774.5 305.3 L1776.5 305.9 L1778.5 306.3 L1780.5 306.6 L1782.5 306.8 L1784.5 306.9 L1786.5 306.9 L1788.5 306.7 L1790.5 306.5 L1792.5 306.3 L1794.5 306.1 L1796.5 305.9 L1798.5 305.7 L1800.5 305.6 L1802.5 305.5 L1804.5 305.4 L1806.5 305.2 L1808.5 305.1 L1810.5 305 L1812.5 304.9 L1814.5 304.9 L1816.5 304.8 L1818.5 304.6 L1820.5 304.3 L1822.5 303.7 L1824.5 303 L1826.5 301.9 L1828.5 300.7 L1830.5 299.4 L1832.5 298 L1834.5 296.5 L1836.5 295 L1838.5 293.4 L1840.5 291.9 L1842.5 290.5 L1844.4 289.3 L1846.4 288.1 L1848.4 287.1 L1850.4 286.2 L1852.4 285.7 L1854.4 285.4 L1856.4 285.3 L1858.4 285.4 L1860.4 285.9 L1862.4 286.6 L1864.4 287.7 L1866.4 289.6 L1868.4 292.3 L1870.4 295.1 L1872.4 297.8 L1874.4 300.5 L1876.4 303.3 L1878.4 306.1 L1880.4 308.7 L1882.4 310.6 L1884.4 312.2 L1886.4 313.4 L1888.4 314.3 L1890.4 314.8 L1892.4 315 L1894.4 314.9 L1896.4 314.6 L1898.4 314.1 L1900.4 313.4 L1902.4 312.4 L1902.4 366.2 L1900.4 366.7 L1898.4 366.9 L1896.4 366.9 L1894.4 366.6 L1892.4 366 L1890.4 365.2 L1888.4 364 L1886.4 362.5 L1884.4 360.5 L1882.4 358.3 L1880.4 355.5 L1878.4 351.9 L1876.4 348.1 L1874.4 344.2 L1872.4 340.2 L1870.4 336.3 L1868.4 332.4 L1866.4 328.5 L1864.4 325.6 L1862.4 323.6 L1860.4 322.1 L1858.4 321 L1856.4 320.5 L1854.4 320.4 L1852.4 320.6 L1850.4 321.1 L1848.4 321.9 L1846.4 322.9 L1844.4 324 L1842.5 325.2 L1840.5 326.5 L1838.5 328 L1836.5 329.5 L1834.5 331 L1832.5 332.4 L1830.5 333.8 L1828.5 335 L1826.5 336.2 L1824.5 337.2 L1822.5 337.9 L1820.5 338.4 L1818.5 338.7 L1816.5 338.9 L1814.5 338.9 L1812.5 339 L1810.5 339 L1808.5 339.1 L1806.5 339.2 L1804.5 339.3 L1802.5 339.4 L1800.5 339.5 L1798.5 339.6 L1796.5 339.8 L1794.5 340 L1792.5 340.2 L1790.5 340.4 L1788.5 340.6 L1786.5 340.8 L1784.5 340.8 L1782.5 340.7 L1780.5 340.5 L1778.5 340.2 L1776.5 339.8 L1774.5 339.3 L1772.5 338.8 L1770.5 338.2 L1768.5 337.5 L1766.5 336.8 L1764.5 336 L1762.5 335.4 L1760.5 334.8 L1758.5 334.2 L1756.6 333.8 L1754.6 333.5 L1752.6 333.2 L1750.6 333.1 L1748.6 333.1 L1746.6 333 L1744.6 333.1 L1742.6 333.2 L1740.6 333.4 L1738.6 333.6 L1736.6 333.9 L1734.6 334.1 L1732.6 334.3 L1730.6 334.6 L1728.6 334.8 L1726.6 335 L1724.6 335.3 L1722.6 335.6 L1720.6 335.8 L1718.6 336.1 L1716.6 336.4 L1714.6 336.6 L1712.6 336.8 L1710.6 336.9 L1708.6 337.1 L1706.6 337.2 L1704.6 337.4 L1702.6 337.6 L1700.6 337.7 L1698.6 337.8 L1696.6 337.9 L1694.6 338.1 L1692.6 338.2 L1690.6 338.3 L1688.6 338.3 L1686.6 338.3 L1684.6 338.3 L1682.6 338.3 L1680.6 338.3 L1678.6 338.1 L1676.6 337.9 L1674.6 337.7 L1672.6 337.5 L1670.7 337.6 L1668.7 337.8 L1666.7 338.1 L1664.7 339 L1662.7 340.3 L1660.7 342.1 L1658.7 344.4 L1656.7 346.9 L1654.7 349.7 L1652.7 352.9 L1650.7 356.1 L1648.7 358.9 L1646.7 361.4 L1644.7 363.6Z" fill="#3b3b3b" fill-opacity="0.2"/>
<path d="M1644.7 336.7 L1646.7 334.9 L1648.7 332.9 L1650.7 330.5 L1652.7 327.8 L1654.7 325 L1656.7 322.6 L1658.7 320.4 L1660.7 318.6 L1662.7 317.1 L1664.7 316 L1666.7 315.5 L1668.7 315.4 L1670.7 315.5 L1672.6 315.7 L1674.6 316 L1676.6 316.4 L1678.6 316.9 L1680.6 317.3 L1682.6 317.5 L1684.6 317.7 L1686.6 317.9 L1688.6 318 L1690.6 318.1 L1692.6 318.2 L1694.6 318.2 L1696.6 318.2 L1698.6 318.2 L1700.6 318.2 L1702.6 318.2 L1704.6 318.2 L1706.6 318.2 L1708.6 318.1 L1710.6 318.1 L1712.6 318.1 L1714.6 318 L1716.6 317.9 L1718.6 317.7 L1720.6 317.5 L1722.6 317.4 L1724.6 317.2 L1726.6 317 L1728.6 316.9 L1730.6 316.7 L1732.6 316.5 L1734.6 316.4 L1736.6 316.2 L1738.6 316 L1740.6 315.9 L1742.6 315.7 L1744.6 315.6 L1746.6 315.6 L1748.6 315.7 L1750.6 315.8 L1752.6 315.9 L1754.6 316.2 L1756.6 316.6 L1758.5 317 L1760.5 317.6 L1762.5 318.2 L1764.5 318.9 L1766.5 319.7 L1768.5 320.5 L1770.5 321.2 L1772.5 321.8 L1774.5 322.3 L1776.5 322.8 L1778.5 323.3 L1780.5 323.6 L1782.5 323.8 L1784.5 323.9 L1786.5 323.8 L1788.5 323.7 L1790.5 323.5 L1792.5 323.2 L1794.5 323 L1796.5 322.8 L1798.5 322.7 L1800.5 322.6 L1802.5 322.4 L1804.5 322.3 L1806.5 322.2 L1808.5 322.1 L1810.5 322 L1812.5 322 L1814.5 321.9 L1816.5 321.8 L1818.5 321.7 L1820.5 321.4 L1822.5 320.8 L1824.5 320.1 L1826.5 319.1 L1828.5 317.9 L1830.5 316.6 L1832.5 315.2 L1834.5 313.8 L1836.5 312.2 L1838.5 310.7 L1840.5 309.2 L1842.5 307.8 L1844.4 306.6 L1846.4 305.5 L1848.4 304.5 L1850.4 303.7 L1852.4 303.2 L1854.4 302.9 L1856.4 302.9 L1858.4 303.2 L1860.4 304 L1862.4 305.1 L1864.4 306.6 L1866.4 309.1 L1868.4 312.4 L1870.4 315.7 L1872.4 319 L1874.4 322.3 L1876.4 325.7 L1878.4 329 L1880.4 332.1 L1882.4 334.4 L1884.4 336.4 L1886.4 337.9 L1888.4 339.2 L1890.4 340 L1892.4 340.5 L1894.4 340.7 L1896.4 340.8 L1898.4 340.5 L1900.4 340 L1902.4 339.3" fill="none" stroke="#3b3b3b" stroke-width="6.2" stroke-linejoin="round" stroke-linecap="butt"/>
<path d="M1644.7 326.4 L1646.7 324.8 L1648.7 323.2 L1650.7 321.6 L1652.7 320.1 L1654.7 318.6 L1656.7 317.2 L1658.7 316.3 L1660.7 315.7 L1662.7 315.3 L1664.7 315 L1666.7 315.2 L1668.7 316 L1670.7 317 L1672.6 318 L1674.6 319.1 L1676.6 320.3 L1678.6 321.5 L1680.6 322.6 L1682.6 323.7 L1684.6 324.6 L1686.6 325.2 L1688.6 325.5 L1690.6 325.6 L1692.6 325.4 L1694.6 325.2 L1696.6 324.8 L1698.6 324.4 L1700.6 323.8 L1702.6 323.3 L1704.6 322.7 L1706.6 322.2 L1708.6 321.8 L1710.6 321.6 L1712.6 321.4 L1714.6 321.3 L1716.6 321.1 L1718.6 321 L1720.6 320.8 L1722.6 320.6 L1724.6 320.4 L1726.6 320.2 L1728.6 319.9 L1730.6 319.7 L1732.6 319.5 L1734.6 319.3 L1736.6 319.1 L1738.6 319 L1740.6 318.9 L1742.6 318.9 L1744.6 318.9 L1746.6 319.1 L1748.6 319.4 L1750.6 319.9 L1752.6 320.6 L1754.6 321.4 L1756.6 322.3 L1758.5 323.2 L1760.5 324.2 L1762.5 325.2 L1764.5 326.2 L1766.5 327.3 L1768.5 328.4 L1770.5 329.5 L1772.5 330.6 L1774.5 331.6 L1776.5 332.5 L1778.5 333.3 L1780.5 334.1 L1782.5 334.8 L1784.5 335.4 L1786.5 335.8 L1788.5 336.1 L1790.5 336.1 L1792.5 335.9 L1794.5 335.5 L1796.5 335.2 L1798.5 334.9 L1800.5 334.5 L1802.5 334.3 L1804.5 334.1 L1806.5 333.9 L1808.5 333.7 L1810.5 333.7 L1812.5 333.8 L1814.5 334.1 L1816.5 334.3 L1818.5 334.5 L1820.5 334.6 L1822.5 334.6 L1824.5 334.5 L1826.5 334.3 L1828.5 333.9 L1830.5 333.2 L1832.5 332 L1834.5 330.4 L1836.5 328.4 L1838.5 326.2 L1840.5 324 L1842.5 321.9 L1844.4 319.8 L1846.4 317.8 L1848.4 315.8 L1850.4 313.9 L1852.4 312.2 L1854.4 311 L1856.4 310.2 L1858.4 309.6 L1860.4 309 L1862.4 308.8 L1864.4 308.8 L1866.4 309.1 L1868.4 309.7 L1870.4 311 L1872.4 313 L1874.4 315 L1876.4 317 L1878.4 319 L1880.4 321 L1882.4 323 L1884.4 325 L1886.4 326.8 L1888.4 328 L1890.4 328.8 L1892.4 329.4 L1894.4 329.9 L1896.4 330.2 L1898.4 330.4 L1900.4 330.4 L1902.4 330.2 L1902.4 380.4 L1900.4 380.6 L1898.4 380.6 L1896.4 380.5 L1894.4 380.2 L1892.4 379.7 L1890.4 379.2 L1888.4 378.4 L1886.4 377.2 L1884.4 375.4 L1882.4 373.4 L1880.4 371.5 L1878.4 369.5 L1876.4 367.5 L1874.4 365.5 L1872.4 363.5 L1870.4 361.5 L1868.4 360.3 L1866.4 359.6 L1864.4 359.4 L1862.4 359.4 L1860.4 359.7 L1858.4 360.2 L1856.4 360.9 L1854.4 361.7 L1852.4 362.9 L1850.4 364.6 L1848.4 366.5 L1846.4 368.5 L1844.4 370.6 L1842.5 372.6 L1840.5 374.8 L1838.5 377 L1836.5 379.2 L1834.5 381.2 L1832.5 382.9 L1830.5 384 L1828.5 384.8 L1826.5 385.2 L1824.5 385.4 L1822.5 385.6 L1820.5 385.6 L1818.5 385.5 L1816.5 385.3 L1814.5 385.1 L1812.5 384.9 L1810.5 384.8 L1808.5 384.8 L1806.5 385 L1804.5 385.2 L1802.5 385.5 L1800.5 385.7 L1798.5 386 L1796.5 386.4 L1794.5 386.8 L1792.5 387.1 L1790.5 387.3 L1788.5 387.3 L1786.5 387.1 L1784.5 386.7 L1782.5 386.1 L1780.5 385.4 L1778.5 384.7 L1776.5 383.9 L1774.5 383 L1772.5 382 L1770.5 381 L1768.5 379.9 L1766.5 378.8 L1764.5 377.7 L1762.5 376.7 L1760.5 375.7 L1758.5 374.7 L1756.6 373.9 L1754.6 373 L1752.6 372.2 L1750.6 371.6 L1748.6 371.1 L1746.6 370.7 L1744.6 370.6 L1742.6 370.6 L1740.6 370.6 L1738.6 370.7 L1736.6 370.9 L1734.6 371.1 L1732.6 371.3 L1730.6 371.5 L1728.6 371.8 L1726.6 372 L1724.6 372.3 L1722.6 372.5 L1720.6 372.7 L1718.6 372.9 L1716.6 373.1 L1714.6 373.2 L1712.6 373.4 L1710.6 373.6 L1708.6 373.8 L1706.6 374.2 L1704.6 374.7 L1702.6 375.3 L1700.6 375.9 L1698.6 376.5 L1696.6 376.9 L1694.6 377.3 L1692.6 377.6 L1690.6 377.8 L1688.6 377.7 L1686.6 377.4 L1684.6 376.8 L1682.6 376 L1680.6 374.9 L1678.6 373.8 L1676.6 372.6 L1674.6 371.5 L1672.6 370.4 L1670.7 369.3 L1668.7 368.4 L1666.7 367.6 L1664.7 367.4 L1662.7 367.7 L1660.7 368.2 L1658.7 368.8 L1656.7 369.7 L1654.7 371.1 L1652.7 372.6 L1650.7 374.2 L1648.7 375.8 L1646.7 377.4 L1644.7 379Z" fill="#0072bd" fill-opacity="0.2"/>
<path d="M1644.7 352.7 L1646.7 351.1 L1648.7 349.5 L1650.7 347.9 L1652.7 346.3 L1654.7 344.8 L1656.7 343.4 L1658.7 342.5 L1660.7 341.9 L1662.7 341.5 L1664.7 341.2 L1666.7 341.4 L1668.7 342.2 L1670.7 343.1 L1672.6 344.2 L1674.6 345.3 L1676.6 346.5 L1678.6 347.6 L1680.6 348.8 L1682.6 349.8 L1684.6 350.7 L1686.6 351.3 L1688.6 351.6 L1690.6 351.7 L1692.6 351.5 L1694.6 351.2 L1696.6 350.9 L1698.6 350.4 L1700.6 349.9 L1702.6 349.3 L1704.6 348.7 L1706.6 348.2 L1708.6 347.8 L1710.6 347.6 L1712.6 347.4 L1714.6 347.2 L1716.6 347.1 L1718.6 347 L1720.6 346.8 L1722.6 346.6 L1724.6 346.3 L1726.6 346.1 L1728.6 345.9 L1730.6 345.6 L1732.6 345.4 L1734.6 345.2 L1736.6 345 L1738.6 344.9 L1740.6 344.8 L1742.6 344.7 L1744.6 344.7 L1746.6 344.9 L1748.6 345.2 L1750.6 345.7 L1752.6 346.4 L1754.6 347.2 L1756.6 348.1 L1758.5 349 L1760.5 349.9 L1762.5 350.9 L1764.5 351.9 L1766.5 353 L1768.5 354.1 L1770.5 355.2 L1772.5 356.3 L1774.5 357.3 L1776.5 358.2 L1778.5 359 L1780.5 359.8 L1782.5 360.4 L1784.5 361 L1786.5 361.5 L1788.5 361.7 L1790.5 361.7 L1792.5 361.5 L1794.5 361.2 L1796.5 360.8 L1798.5 360.4 L1800.5 360.1 L1802.5 359.9 L1804.5 359.6 L1806.5 359.4 L1808.5 359.3 L1810.5 359.2 L1812.5 359.4 L1814.5 359.6 L1816.5 359.8 L1818.5 360 L1820.5 360.1 L1822.5 360.1 L1824.5 360 L1826.5 359.7 L1828.5 359.3 L1830.5 358.6 L1832.5 357.4 L1834.5 355.8 L1836.5 353.8 L1838.5 351.6 L1840.5 349.4 L1842.5 347.3 L1844.4 345.2 L1846.4 343.1 L1848.4 341.1 L1850.4 339.2 L1852.4 337.5 L1854.4 336.4 L1856.4 335.5 L1858.4 334.9 L1860.4 334.4 L1862.4 334.1 L1864.4 334.1 L1866.4 334.4 L1868.4 335 L1870.4 336.3 L1872.4 338.3 L1874.4 340.3 L1876.4 342.3 L1878.4 344.2 L1880.4 346.2 L1882.4 348.2 L1884.4 350.2 L1886.4 352 L1888.4 353.2 L1890.4 354 L1892.4 354.6 L1894.4 355 L1896.4 355.4 L1898.4 355.5 L1900.4 355.5 L1902.4 355.3" fill="none" stroke="#0072bd" stroke-width="6.2" stroke-linejoin="round" stroke-linecap="butt"/>
</g>
<path d="M1644.9 321.8H1903" stroke="#333" stroke-width="3" stroke-dasharray="3 3.13" fill="none"/>
<path d="M1644.7 276.3V443.2H1902.7" stroke="#6a6a6a" stroke-width="1.3" fill="none"/>
<path d="M1644.7 291.5h2.6M1644.7 321.8h2.6M1644.7 352h2.6M1644.7 382.2h2.6M1644.7 412.4h2.6M1644.7 442.6h2.6M1644.7 442.9v-2.6M1773.7 442.9v-2.6M1902.7 442.9v-2.6" stroke="#6a6a6a" stroke-width="1" fill="none"/>
<rect x="1644.4" y="433.1" width="239.7" height="10.1" fill="#0072bd"/>
<path d="M1647.3 433.1v10.1M1652 433.1v10.1M1656.7 433.1v10.1M1661.3 433.1v10.1M1666 433.1v10.1M1670.7 433.1v10.1M1675.4 433.1v10.1M1680 433.1v10.1M1684.7 433.1v10.1M1689.4 433.1v10.1M1694.1 433.1v10.1M1698.8 433.1v10.1M1703.4 433.1v10.1M1708.1 433.1v10.1M1712.8 433.1v10.1M1717.5 433.1v10.1M1722.2 433.1v10.1M1726.8 433.1v10.1M1731.5 433.1v10.1M1736.2 433.1v10.1M1740.9 433.1v10.1M1745.5 433.1v10.1M1750.2 433.1v10.1M1754.9 433.1v10.1M1759.6 433.1v10.1M1764.3 433.1v10.1M1768.9 433.1v10.1M1773.6 433.1v10.1M1778.3 433.1v10.1M1783 433.1v10.1M1787.7 433.1v10.1M1792.3 433.1v10.1M1797 433.1v10.1M1801.7 433.1v10.1M1806.4 433.1v10.1M1811 433.1v10.1M1815.7 433.1v10.1M1820.4 433.1v10.1M1825.1 433.1v10.1M1829.8 433.1v10.1M1834.4 433.1v10.1M1839.1 433.1v10.1M1843.8 433.1v10.1M1848.5 433.1v10.1M1853.2 433.1v10.1M1857.8 433.1v10.1M1862.5 433.1v10.1M1867.2 433.1v10.1M1871.9 433.1v10.1M1876.5 433.1v10.1M1881.2 433.1v10.1" stroke="#000" stroke-width="2.2" fill="none"/>
<text transform="translate(1637.3 299.3) scale(1 1.02)" font-size="19.05" text-anchor="end" fill="#1a1a1a" stroke="#1a1a1a" stroke-width="0.2">10</text>
<text transform="translate(1637.3 329.6) scale(1 1.02)" font-size="19.05" text-anchor="end" fill="#1a1a1a" stroke="#1a1a1a" stroke-width="0.2">0</text>
<text transform="translate(1637.3 359.8) scale(1 1.02)" font-size="19.05" text-anchor="end" fill="#1a1a1a" stroke="#1a1a1a" stroke-width="0.2">-10</text>
<text transform="translate(1637.3 390) scale(1 1.02)" font-size="19.05" text-anchor="end" fill="#1a1a1a" stroke="#1a1a1a" stroke-width="0.2">-20</text>
<text transform="translate(1637.3 420.2) scale(1 1.02)" font-size="19.05" text-anchor="end" fill="#1a1a1a" stroke="#1a1a1a" stroke-width="0.2">-30</text>
<text transform="translate(1637.3 450.4) scale(1 1.02)" font-size="19.05" text-anchor="end" fill="#1a1a1a" stroke="#1a1a1a" stroke-width="0.2">-40</text>
<text transform="translate(1644.5 470) scale(1 1.02)" font-size="19.05" text-anchor="middle" fill="#1a1a1a" stroke="#1a1a1a" stroke-width="0.2">0</text>
<text transform="translate(1773.5 470) scale(1 1.02)" font-size="19.05" text-anchor="middle" fill="#1a1a1a" stroke="#1a1a1a" stroke-width="0.2">50</text>
<text transform="translate(1902.5 470) scale(1 1.02)" font-size="19.05" text-anchor="middle" fill="#1a1a1a" stroke="#1a1a1a" stroke-width="0.2">100</text>
<text transform="translate(1571.97 359.6) rotate(-90) scale(1 0.96)" font-size="21.3" text-anchor="middle" fill="#1a1a1a" stroke="#1a1a1a" stroke-width="0.2">Hip</text>
<text transform="translate(1598.97 359.6) rotate(-90) scale(1 0.96)" font-size="21.2" text-anchor="middle" fill="#1a1a1a" stroke="#1a1a1a" stroke-width="0.2">Ext [Degrees] Int</text>
</g>
<g>
<clipPath id="c20"><rect x="145" y="526.7" width="268" height="168.6"/></clipPath>
<g clip-path="url(#c20)">
<path d="M150.1 635.3 L152.1 633.6 L154.1 631.4 L156.1 629.1 L158.1 626.9 L160.1 624.7 L162.1 622.6 L164.1 620.7 L166.1 619 L168.1 617.4 L170.1 616 L172.1 614.8 L174.1 613.8 L176.1 613 L178.1 612.4 L180.1 612 L182.1 611.8 L184.1 611.8 L186.1 611.9 L188.1 612.3 L190.1 612.9 L192.1 613.7 L194.1 614.6 L196.1 615.6 L198.1 616.7 L200.1 618 L202.1 619.4 L204.1 620.8 L206.1 622.2 L208.2 623.6 L210.2 624.9 L212.2 626.2 L214.2 627.4 L216.2 628.6 L218.2 629.7 L220.2 630.7 L222.2 631.7 L224.2 632.7 L226.2 633.6 L228.2 634.5 L230.2 635.3 L232.2 636.1 L234.2 636.8 L236.2 637.5 L238.2 638.1 L240.2 638.7 L242.2 639.2 L244.2 639.6 L246.2 640 L248.2 640.3 L250.2 640.5 L252.2 640.7 L254.2 640.7 L256.2 640.5 L258.2 640.2 L260.2 639.8 L262.2 639.1 L264.2 638.2 L266.2 637.1 L268.2 635.9 L270.2 634.6 L272.2 633.2 L274.2 631.9 L276.2 630.4 L278.2 628.8 L280.2 627 L282.2 624.9 L284.2 622.6 L286.2 620.1 L288.2 617.3 L290.2 614.5 L292.2 611.4 L294.2 608.1 L296.3 604.7 L298.3 601 L300.3 597.2 L302.3 593.3 L304.3 589.1 L306.3 584.8 L308.3 580.4 L310.3 576.1 L312.3 571.8 L314.3 567.6 L316.3 563.7 L318.3 560.2 L320.3 557.3 L322.3 555 L324.3 553.2 L326.3 551.9 L328.3 550.9 L330.3 550.2 L332.3 549.7 L334.3 549.4 L336.3 549.3 L338.3 549.5 L340.3 550 L342.3 551 L344.3 552.3 L346.3 553.7 L348.3 555.4 L350.3 557.1 L352.3 559.2 L354.3 561.8 L356.3 564.9 L358.3 568.4 L360.3 572.3 L362.3 576.4 L364.3 580.5 L366.3 584.7 L368.3 589 L370.3 593.3 L372.3 597.6 L374.3 601.9 L376.3 606.1 L378.3 610 L380.3 613.7 L382.4 617.3 L384.4 620.7 L386.4 624 L388.4 627.2 L390.4 630 L392.4 632.6 L394.4 634.7 L396.4 636.5 L398.4 637.9 L400.4 639 L402.4 639.9 L404.4 640.5 L406.4 640.9 L408.4 641.2 L408.4 655.1 L406.4 654.9 L404.4 654.5 L402.4 653.8 L400.4 653 L398.4 651.9 L396.4 650.5 L394.4 648.7 L392.4 646.5 L390.4 644 L388.4 641.1 L386.4 638 L384.4 634.7 L382.4 631.3 L380.3 627.7 L378.3 624 L376.3 620 L374.3 615.9 L372.3 611.6 L370.3 607.2 L368.3 602.9 L366.3 598.7 L364.3 594.5 L362.3 590.4 L360.3 586.3 L358.3 582.4 L356.3 578.9 L354.3 575.8 L352.3 573.3 L350.3 571.2 L348.3 569.4 L346.3 567.8 L344.3 566.3 L342.3 565.1 L340.3 564.1 L338.3 563.6 L336.3 563.4 L334.3 563.4 L332.3 563.8 L330.3 564.3 L328.3 565 L326.3 566 L324.3 567.3 L322.3 569.1 L320.3 571.4 L318.3 574.4 L316.3 577.9 L314.3 581.8 L312.3 586 L310.3 590.3 L308.3 594.7 L306.3 599 L304.3 603.3 L302.3 607.5 L300.3 611.5 L298.3 615.3 L296.3 619 L294.2 622.4 L292.2 625.7 L290.2 628.8 L288.2 631.7 L286.2 634.4 L284.2 637 L282.2 639.3 L280.2 641.4 L278.2 643.3 L276.2 644.9 L274.2 646.3 L272.2 647.7 L270.2 649.1 L268.2 650.4 L266.2 651.7 L264.2 652.8 L262.2 653.7 L260.2 654.4 L258.2 654.9 L256.2 655.2 L254.2 655.3 L252.2 655.4 L250.2 655.3 L248.2 655.1 L246.2 654.8 L244.2 654.4 L242.2 654 L240.2 653.5 L238.2 653 L236.2 652.4 L234.2 651.7 L232.2 651 L230.2 650.3 L228.2 649.5 L226.2 648.6 L224.2 647.7 L222.2 646.8 L220.2 645.9 L218.2 644.9 L216.2 643.9 L214.2 642.9 L212.2 641.9 L210.2 641 L208.2 640 L206.1 639 L204.1 638 L202.1 637 L200.1 636.1 L198.1 635.3 L196.1 634.5 L194.1 633.9 L192.1 633.4 L190.1 632.9 L188.1 632.6 L186.1 632.5 L184.1 632.4 L182.1 632.5 L180.1 632.7 L178.1 633.1 L176.1 633.5 L174.1 634.1 L172.1 634.8 L170.1 635.7 L168.1 636.7 L166.1 637.9 L164.1 639.2 L162.1 640.5 L160.1 642 L158.1 643.6 L156.1 645.2 L154.1 646.8 L152.1 648.3 L150.1 649.3Z" fill="#3b3b3b" fill-opacity="0.2"/>
<path d="M150.1 642.3 L152.1 640.9 L154.1 639.1 L156.1 637.2 L158.1 635.2 L160.1 633.4 L162.1 631.6 L164.1 629.9 L166.1 628.4 L168.1 627.1 L170.1 625.9 L172.1 624.8 L174.1 624 L176.1 623.3 L178.1 622.7 L180.1 622.4 L182.1 622.1 L184.1 622.1 L186.1 622.2 L188.1 622.5 L190.1 622.9 L192.1 623.5 L194.1 624.2 L196.1 625.1 L198.1 626 L200.1 627.1 L202.1 628.2 L204.1 629.4 L206.1 630.6 L208.2 631.8 L210.2 632.9 L212.2 634 L214.2 635.1 L216.2 636.2 L218.2 637.3 L220.2 638.3 L222.2 639.3 L224.2 640.2 L226.2 641.1 L228.2 642 L230.2 642.8 L232.2 643.6 L234.2 644.3 L236.2 644.9 L238.2 645.5 L240.2 646.1 L242.2 646.6 L244.2 647 L246.2 647.4 L248.2 647.7 L250.2 647.9 L252.2 648 L254.2 648 L256.2 647.9 L258.2 647.6 L260.2 647.1 L262.2 646.4 L264.2 645.5 L266.2 644.4 L268.2 643.1 L270.2 641.8 L272.2 640.5 L274.2 639.1 L276.2 637.7 L278.2 636.1 L280.2 634.2 L282.2 632.1 L284.2 629.8 L286.2 627.3 L288.2 624.5 L290.2 621.6 L292.2 618.5 L294.2 615.3 L296.3 611.8 L298.3 608.2 L300.3 604.4 L302.3 600.4 L304.3 596.2 L306.3 591.9 L308.3 587.6 L310.3 583.2 L312.3 578.9 L314.3 574.7 L316.3 570.8 L318.3 567.3 L320.3 564.4 L322.3 562 L324.3 560.3 L326.3 559 L328.3 558 L330.3 557.2 L332.3 556.7 L334.3 556.4 L336.3 556.3 L338.3 556.5 L340.3 557.1 L342.3 558 L344.3 559.3 L346.3 560.8 L348.3 562.4 L350.3 564.2 L352.3 566.3 L354.3 568.8 L356.3 571.9 L358.3 575.4 L360.3 579.3 L362.3 583.4 L364.3 587.5 L366.3 591.7 L368.3 595.9 L370.3 600.3 L372.3 604.6 L374.3 608.9 L376.3 613 L378.3 617 L380.3 620.7 L382.4 624.3 L384.4 627.7 L386.4 631 L388.4 634.1 L390.4 637 L392.4 639.5 L394.4 641.7 L396.4 643.5 L398.4 644.9 L400.4 646 L402.4 646.9 L404.4 647.5 L406.4 647.9 L408.4 648.2" fill="none" stroke="#3b3b3b" stroke-width="6.2" stroke-linejoin="round" stroke-linecap="butt"/>
<path d="M150.1 630.2 L152.1 628.9 L154.1 627.3 L156.1 625.6 L158.1 623.9 L160.1 622.3 L162.1 620.7 L164.1 619.2 L166.1 617.9 L168.1 616.7 L170.1 615.8 L172.1 615.1 L174.1 614.6 L176.1 614.3 L178.1 614.1 L180.1 614.1 L182.1 614.3 L184.1 614.7 L186.1 615.2 L188.1 615.9 L190.1 616.7 L192.1 617.6 L194.1 618.6 L196.1 619.6 L198.1 620.7 L200.1 621.8 L202.1 623 L204.1 624.2 L206.1 625.3 L208.2 626.5 L210.2 627.5 L212.2 628.5 L214.2 629.4 L216.2 630.3 L218.2 631.1 L220.2 631.8 L222.2 632.5 L224.2 633.2 L226.2 633.9 L228.2 634.6 L230.2 635.2 L232.2 635.8 L234.2 636.3 L236.2 636.8 L238.2 637.3 L240.2 637.8 L242.2 638.3 L244.2 638.7 L246.2 639 L248.2 639.4 L250.2 639.7 L252.2 639.9 L254.2 640.1 L256.2 640.2 L258.2 640.2 L260.2 640.1 L262.2 639.8 L264.2 639.4 L266.2 638.9 L268.2 638.3 L270.2 637.6 L272.2 636.7 L274.2 635.6 L276.2 634.4 L278.2 632.9 L280.2 631.3 L282.2 629.5 L284.2 627.6 L286.2 625.5 L288.2 623.4 L290.2 621.1 L292.2 618.6 L294.2 615.8 L296.3 612.7 L298.3 609.4 L300.3 605.8 L302.3 601.9 L304.3 597.8 L306.3 593.5 L308.3 589.1 L310.3 584.6 L312.3 580 L314.3 575.4 L316.3 570.8 L318.3 566.4 L320.3 562.1 L322.3 558 L324.3 554.1 L326.3 550.5 L328.3 547.3 L330.3 544.7 L332.3 542.6 L334.3 541.1 L336.3 540.1 L338.3 539.5 L340.3 539.3 L342.3 539.6 L344.3 540.2 L346.3 541 L348.3 542.1 L350.3 543.4 L352.3 544.9 L354.3 546.6 L356.3 548.8 L358.3 551.5 L360.3 554.8 L362.3 558.7 L364.3 562.8 L366.3 567.2 L368.3 571.6 L370.3 576 L372.3 580.5 L374.3 585 L376.3 589.7 L378.3 594.4 L380.3 599.1 L382.4 603.6 L384.4 607.9 L386.4 611.9 L388.4 615.6 L390.4 619 L392.4 622.2 L394.4 625.1 L396.4 627.7 L398.4 630 L400.4 632 L402.4 633.6 L404.4 634.7 L406.4 635.4 L408.4 635.7 L408.4 657.6 L406.4 657.1 L404.4 656.1 L402.4 654.8 L400.4 653 L398.4 650.9 L396.4 648.4 L394.4 645.6 L392.4 642.6 L390.4 639.3 L388.4 635.8 L386.4 632 L384.4 627.9 L382.4 623.6 L380.3 619 L378.3 614.3 L376.3 609.6 L374.3 605.1 L372.3 600.6 L370.3 596.3 L368.3 592 L366.3 587.7 L364.3 583.6 L362.3 579.6 L360.3 575.9 L358.3 572.8 L356.3 570.2 L354.3 568.3 L352.3 566.7 L350.3 565.4 L348.3 564.2 L346.3 563.2 L344.3 562.4 L342.3 561.9 L340.3 561.7 L338.3 561.8 L336.3 562.2 L334.3 563.1 L332.3 564.4 L330.3 566.3 L328.3 568.6 L326.3 571.5 L324.3 574.8 L322.3 578.5 L320.3 582.3 L318.3 586.3 L316.3 590.4 L314.3 594.6 L312.3 598.9 L310.3 603.3 L308.3 607.6 L306.3 611.8 L304.3 615.9 L302.3 619.9 L300.3 623.7 L298.3 627.3 L296.3 630.7 L294.2 633.7 L292.2 636.5 L290.2 639.1 L288.2 641.4 L286.2 643.6 L284.2 645.7 L282.2 647.7 L280.2 649.6 L278.2 651.3 L276.2 652.8 L274.2 654.1 L272.2 655.2 L270.2 656.2 L268.2 657 L266.2 657.8 L264.2 658.4 L262.2 658.8 L260.2 659.2 L258.2 659.4 L256.2 659.5 L254.2 659.6 L252.2 659.5 L250.2 659.5 L248.2 659.3 L246.2 659.2 L244.2 659 L242.2 658.8 L240.2 658.6 L238.2 658.4 L236.2 658.2 L234.2 657.9 L232.2 657.7 L230.2 657.4 L228.2 657.1 L226.2 656.7 L224.2 656.4 L222.2 656 L220.2 655.6 L218.2 655.2 L216.2 654.9 L214.2 654.6 L212.2 654.2 L210.2 653.9 L208.2 653.5 L206.1 653.1 L204.1 652.7 L202.1 652.3 L200.1 651.9 L198.1 651.5 L196.1 651.2 L194.1 650.8 L192.1 650.5 L190.1 650.2 L188.1 649.9 L186.1 649.6 L184.1 649.4 L182.1 649.3 L180.1 649.2 L178.1 649.2 L176.1 649.2 L174.1 649.4 L172.1 649.7 L170.1 650 L168.1 650.5 L166.1 651.2 L164.1 652 L162.1 652.8 L160.1 653.7 L158.1 654.6 L156.1 655.5 L154.1 656.3 L152.1 657 L150.1 657.3Z" fill="#0072bd" fill-opacity="0.2"/>
<path d="M150.1 643.8 L152.1 642.9 L154.1 641.8 L156.1 640.6 L158.1 639.3 L160.1 638 L162.1 636.8 L164.1 635.6 L166.1 634.5 L168.1 633.6 L170.1 632.9 L172.1 632.4 L174.1 632 L176.1 631.8 L178.1 631.6 L180.1 631.6 L182.1 631.8 L184.1 632 L186.1 632.4 L188.1 632.9 L190.1 633.4 L192.1 634 L194.1 634.7 L196.1 635.4 L198.1 636.1 L200.1 636.9 L202.1 637.6 L204.1 638.4 L206.1 639.2 L208.2 640 L210.2 640.7 L212.2 641.4 L214.2 642 L216.2 642.6 L218.2 643.2 L220.2 643.7 L222.2 644.3 L224.2 644.8 L226.2 645.3 L228.2 645.8 L230.2 646.3 L232.2 646.7 L234.2 647.1 L236.2 647.5 L238.2 647.9 L240.2 648.2 L242.2 648.6 L244.2 648.8 L246.2 649.1 L248.2 649.4 L250.2 649.6 L252.2 649.7 L254.2 649.9 L256.2 649.9 L258.2 649.8 L260.2 649.7 L262.2 649.3 L264.2 648.9 L266.2 648.3 L268.2 647.7 L270.2 646.9 L272.2 646 L274.2 644.9 L276.2 643.6 L278.2 642.1 L280.2 640.4 L282.2 638.6 L284.2 636.7 L286.2 634.6 L288.2 632.4 L290.2 630.1 L292.2 627.5 L294.2 624.8 L296.3 621.7 L298.3 618.3 L300.3 614.7 L302.3 610.9 L304.3 606.9 L306.3 602.7 L308.3 598.4 L310.3 593.9 L312.3 589.5 L314.3 585 L316.3 580.6 L318.3 576.3 L320.3 572.2 L322.3 568.2 L324.3 564.4 L326.3 561 L328.3 558 L330.3 555.5 L332.3 553.5 L334.3 552.1 L336.3 551.1 L338.3 550.6 L340.3 550.5 L342.3 550.7 L344.3 551.3 L346.3 552.1 L348.3 553.2 L350.3 554.4 L352.3 555.8 L354.3 557.4 L356.3 559.5 L358.3 562.1 L360.3 565.4 L362.3 569.1 L364.3 573.2 L366.3 577.4 L368.3 581.8 L370.3 586.1 L372.3 590.6 L374.3 595.1 L376.3 599.7 L378.3 604.3 L380.3 609 L382.4 613.6 L384.4 617.9 L386.4 621.9 L388.4 625.7 L390.4 629.2 L392.4 632.4 L394.4 635.3 L396.4 638 L398.4 640.4 L400.4 642.5 L402.4 644.2 L404.4 645.4 L406.4 646.2 L408.4 646.6" fill="none" stroke="#0072bd" stroke-width="6.2" stroke-linejoin="round" stroke-linecap="butt"/>
</g>
<path d="M150.2 661.9H408.3" stroke="#333" stroke-width="3" stroke-dasharray="3 3.13" fill="none"/>
<path d="M150 528.7V695.6H408" stroke="#6a6a6a" stroke-width="1.3" fill="none"/>
<path d="M150 528.7h2.6M150 562h2.6M150 595.3h2.6M150 628.6h2.6M150 661.9h2.6M150 695h2.6M150 695.3v-2.6M279 695.3v-2.6M408 695.3v-2.6" stroke="#6a6a6a" stroke-width="1" fill="none"/>
<rect x="178.9" y="685.5" width="42.1" height="10.1" fill="#0072bd"/>
<path d="M181.8 685.5v10.1M186.3 685.5v10.1M190.9 685.5v10.1M195.4 685.5v10.1M199.9 685.5v10.1M204.5 685.5v10.1M209 685.5v10.1M213.5 685.5v10.1M218.1 685.5v10.1" stroke="#000" stroke-width="2.2" fill="none"/>
<rect x="275.9" y="685.5" width="44.4" height="10.1" fill="#0072bd"/>
<path d="M278.8 685.5v10.1M283.6 685.5v10.1M288.4 685.5v10.1M293.3 685.5v10.1M298.1 685.5v10.1M302.9 685.5v10.1M307.7 685.5v10.1M312.6 685.5v10.1M317.4 685.5v10.1" stroke="#000" stroke-width="2.2" fill="none"/>
<rect x="342.2" y="685.5" width="40.8" height="10.1" fill="#0072bd"/>
<path d="M345.1 685.5v10.1M349.5 685.5v10.1M353.9 685.5v10.1M358.2 685.5v10.1M362.6 685.5v10.1M367 685.5v10.1M371.3 685.5v10.1M375.7 685.5v10.1M380.1 685.5v10.1" stroke="#000" stroke-width="2.2" fill="none"/>
<text transform="translate(142.6 536.5) scale(1 1.02)" font-size="19.05" text-anchor="end" fill="#1a1a1a" stroke="#1a1a1a" stroke-width="0.2">80</text>
<text transform="translate(142.6 569.8) scale(1 1.02)" font-size="19.05" text-anchor="end" fill="#1a1a1a" stroke="#1a1a1a" stroke-width="0.2">60</text>
<text transform="translate(142.6 603.1) scale(1 1.02)" font-size="19.05" text-anchor="end" fill="#1a1a1a" stroke="#1a1a1a" stroke-width="0.2">40</text>
<text transform="translate(142.6 636.4) scale(1 1.02)" font-size="19.05" text-anchor="end" fill="#1a1a1a" stroke="#1a1a1a" stroke-width="0.2">20</text>
<text transform="translate(142.6 669.7) scale(1 1.02)" font-size="19.05" text-anchor="end" fill="#1a1a1a" stroke="#1a1a1a" stroke-width="0.2">0</text>
<text transform="translate(142.6 702.8) scale(1 1.02)" font-size="19.05" text-anchor="end" fill="#1a1a1a" stroke="#1a1a1a" stroke-width="0.2">-20</text>
<text transform="translate(149.8 722.4) scale(1 1.02)" font-size="19.05" text-anchor="middle" fill="#1a1a1a" stroke="#1a1a1a" stroke-width="0.2">0</text>
<text transform="translate(278.8 722.4) scale(1 1.02)" font-size="19.05" text-anchor="middle" fill="#1a1a1a" stroke="#1a1a1a" stroke-width="0.2">50</text>
<text transform="translate(407.8 722.4) scale(1 1.02)" font-size="19.05" text-anchor="middle" fill="#1a1a1a" stroke="#1a1a1a" stroke-width="0.2">100</text>
<text transform="translate(77.27 612) rotate(-90) scale(1 0.96)" font-size="21.3" text-anchor="middle" fill="#1a1a1a" stroke="#1a1a1a" stroke-width="0.2">Knee</text>
<text transform="translate(104.27 612) rotate(-90) scale(1 0.96)" font-size="21.2" text-anchor="middle" fill="#1a1a1a" stroke="#1a1a1a" stroke-width="0.2">Ext [Degrees] Flex</text>
</g>
<g>
<clipPath id="c21"><rect x="517.9" y="526.7" width="268" height="168.6"/></clipPath>
<g clip-path="url(#c21)">
<path d="M523.1 618.6 L525.1 619.3 L527.1 618.8 L529.1 615.3 L531.1 605.2 L533.1 592.5 L535.1 581.2 L537.1 571 L539.1 562.4 L541.1 555.7 L543.1 550.9 L545.1 547.2 L547.1 544.6 L549.1 543.1 L551.1 542.2 L553.1 541.8 L555.1 542 L557.1 542.6 L559.1 544 L561.1 546.5 L563.1 549.7 L565.1 553.2 L567.1 557.1 L569.1 561.1 L571.1 565.1 L573.1 569 L575.1 573 L577.1 577.1 L579.1 581.2 L581.2 584.9 L583.2 588.2 L585.2 591.1 L587.2 593.8 L589.2 596.3 L591.2 598.4 L593.2 600.4 L595.2 602.2 L597.2 603.9 L599.2 605.4 L601.2 606.8 L603.2 608 L605.2 609 L607.2 609.9 L609.2 610.8 L611.2 611.6 L613.2 612.4 L615.2 613.1 L617.2 613.7 L619.2 614.2 L621.2 614.6 L623.2 614.9 L625.2 615.1 L627.2 615.2 L629.2 615.1 L631.2 614.7 L633.2 614.1 L635.2 613.1 L637.2 611.6 L639.2 609.6 L641.2 607.2 L643.2 604.6 L645.2 601.8 L647.2 598.6 L649.2 595.4 L651.2 592.6 L653.2 590.2 L655.2 588.4 L657.2 587.2 L659.2 586.5 L661.2 586.4 L663.2 587 L665.2 587.8 L667.2 588.8 L669.3 589.7 L671.3 590.7 L673.3 591.6 L675.3 592.5 L677.3 593.1 L679.3 593.5 L681.3 593.7 L683.3 593.7 L685.3 593.7 L687.3 593.8 L689.3 594 L691.3 594.1 L693.3 594.3 L695.3 594.7 L697.3 595.1 L699.3 595.6 L701.3 596.2 L703.3 596.9 L705.3 597.7 L707.3 598.4 L709.3 599.1 L711.3 599.9 L713.3 600.6 L715.3 601.3 L717.3 602 L719.3 602.6 L721.3 603.3 L723.3 604 L725.3 604.6 L727.3 605.2 L729.3 605.9 L731.3 606.5 L733.3 607.2 L735.3 608.1 L737.3 609.3 L739.3 610.7 L741.3 612.3 L743.3 614 L745.3 615.8 L747.3 617.6 L749.3 619.5 L751.3 621.4 L753.3 623.4 L755.4 625.3 L757.4 627.1 L759.4 628.6 L761.4 629.9 L763.4 631 L765.4 631.9 L767.4 632.4 L769.4 632.6 L771.4 632.4 L773.4 631.9 L775.4 631.2 L777.4 630.2 L779.4 629 L781.4 627.6 L781.4 641.5 L779.4 643 L777.4 644.1 L775.4 645.1 L773.4 645.9 L771.4 646.4 L769.4 646.5 L767.4 646.3 L765.4 645.6 L763.4 644.3 L761.4 642.8 L759.4 641.1 L757.4 639 L755.4 636.7 L753.3 634.2 L751.3 631.5 L749.3 628.9 L747.3 626.4 L745.3 624 L743.3 621.7 L741.3 619.5 L739.3 617.5 L737.3 615.7 L735.3 614.3 L733.3 613.2 L731.3 612.5 L729.3 611.9 L727.3 611.3 L725.3 610.7 L723.3 610.2 L721.3 609.6 L719.3 609.1 L717.3 608.6 L715.3 608.1 L713.3 607.6 L711.3 607.1 L709.3 606.6 L707.3 606.1 L705.3 605.6 L703.3 605.2 L701.3 604.7 L699.3 604.4 L697.3 604.2 L695.3 604.1 L693.3 604.1 L691.3 604.3 L689.3 604.6 L687.3 605.2 L685.3 606.1 L683.3 607.2 L681.3 608.4 L679.3 609.4 L677.3 610.3 L675.3 611 L673.3 611.5 L671.3 611.8 L669.3 612.1 L667.2 612.2 L665.2 612.2 L663.2 612.1 L661.2 612 L659.2 612.3 L657.2 613.1 L655.2 614.3 L653.2 616 L651.2 618.2 L649.2 620.8 L647.2 623.8 L645.2 626.8 L643.2 629.4 L641.2 631.7 L639.2 633.8 L637.2 635.5 L635.2 636.7 L633.2 637.4 L631.2 637.7 L629.2 637.7 L627.2 637.6 L625.2 637.2 L623.2 636.6 L621.2 636 L619.2 635.2 L617.2 634.2 L615.2 633.1 L613.2 631.9 L611.2 630.7 L609.2 629.3 L607.2 628 L605.2 626.6 L603.2 625.1 L601.2 623.6 L599.2 621.9 L597.2 620.1 L595.2 618.2 L593.2 616.3 L591.2 614.5 L589.2 612.8 L587.2 611.3 L585.2 609.8 L583.2 608.2 L581.2 606.5 L579.1 604.4 L577.1 601.9 L575.1 599.3 L573.1 596.6 L571.1 593.8 L569.1 591.1 L567.1 588.5 L565.1 585.9 L563.1 583.6 L561.1 581.7 L559.1 580.1 L557.1 579.4 L555.1 579.1 L553.1 578.9 L551.1 579.2 L549.1 580 L547.1 581.2 L545.1 583.5 L543.1 586.8 L541.1 591.1 L539.1 597.3 L537.1 605.2 L535.1 614.7 L533.1 625.2 L531.1 637 L529.1 646 L527.1 648.1 L525.1 644.5 L523.1 638.6Z" fill="#3b3b3b" fill-opacity="0.2"/>
<path d="M523.1 628.6 L525.1 631.9 L527.1 633.4 L529.1 630.6 L531.1 621.1 L533.1 608.8 L535.1 597.9 L537.1 588.1 L539.1 579.8 L541.1 573.4 L543.1 568.8 L545.1 565.4 L547.1 562.9 L549.1 561.6 L551.1 560.7 L553.1 560.4 L555.1 560.5 L557.1 561 L559.1 562.1 L561.1 564.1 L563.1 566.7 L565.1 569.6 L567.1 572.8 L569.1 576.1 L571.1 579.5 L573.1 582.8 L575.1 586.1 L577.1 589.5 L579.1 592.8 L581.2 595.7 L583.2 598.2 L585.2 600.4 L587.2 602.5 L589.2 604.5 L591.2 606.5 L593.2 608.3 L595.2 610.2 L597.2 612 L599.2 613.7 L601.2 615.2 L603.2 616.6 L605.2 617.8 L607.2 618.9 L609.2 620.1 L611.2 621.1 L613.2 622.1 L615.2 623.1 L617.2 624 L619.2 624.7 L621.2 625.3 L623.2 625.7 L625.2 626.2 L627.2 626.4 L629.2 626.4 L631.2 626.2 L633.2 625.8 L635.2 624.9 L637.2 623.5 L639.2 621.7 L641.2 619.5 L643.2 617 L645.2 614.3 L647.2 611.2 L649.2 608.1 L651.2 605.4 L653.2 603.1 L655.2 601.4 L657.2 600.1 L659.2 599.4 L661.2 599.2 L663.2 599.5 L665.2 600 L667.2 600.5 L669.3 600.9 L671.3 601.3 L673.3 601.6 L675.3 601.8 L677.3 601.7 L679.3 601.4 L681.3 601 L683.3 600.4 L685.3 599.9 L687.3 599.5 L689.3 599.3 L691.3 599.2 L693.3 599.2 L695.3 599.4 L697.3 599.7 L699.3 600 L701.3 600.5 L703.3 601.1 L705.3 601.7 L707.3 602.3 L709.3 602.9 L711.3 603.5 L713.3 604.1 L715.3 604.7 L717.3 605.3 L719.3 605.9 L721.3 606.5 L723.3 607.1 L725.3 607.7 L727.3 608.3 L729.3 608.9 L731.3 609.5 L733.3 610.2 L735.3 611.2 L737.3 612.5 L739.3 614.1 L741.3 615.9 L743.3 617.9 L745.3 619.9 L747.3 622 L749.3 624.2 L751.3 626.5 L753.3 628.8 L755.4 631 L757.4 633.1 L759.4 634.8 L761.4 636.3 L763.4 637.7 L765.4 638.7 L767.4 639.4 L769.4 639.6 L771.4 639.4 L773.4 638.9 L775.4 638.2 L777.4 637.2 L779.4 636 L781.4 634.6" fill="none" stroke="#3b3b3b" stroke-width="6.2" stroke-linejoin="round" stroke-linecap="butt"/>
<path d="M523.1 618.6 L525.1 619.6 L527.1 617.9 L529.1 609.5 L531.1 597.8 L533.1 587.5 L535.1 579.3 L537.1 573.7 L539.1 569.9 L541.1 566.9 L543.1 564.8 L545.1 563.1 L547.1 561.8 L549.1 561.1 L551.1 560.7 L553.1 560.6 L555.1 561 L557.1 561.6 L559.1 562.7 L561.1 564.3 L563.1 566.2 L565.1 568.2 L567.1 570.5 L569.1 573 L571.1 575.4 L573.1 577.9 L575.1 580.5 L577.1 583 L579.1 585.5 L581.2 587.9 L583.2 590 L585.2 592 L587.2 593.7 L589.2 595.1 L591.2 596.3 L593.2 597.2 L595.2 598.1 L597.2 598.9 L599.2 599.7 L601.2 600.3 L603.2 600.8 L605.2 601.3 L607.2 601.7 L609.2 602 L611.2 602.3 L613.2 602.5 L615.2 602.8 L617.2 603 L619.2 603.3 L621.2 603.6 L623.2 603.9 L625.2 604.2 L627.2 604.4 L629.2 604.6 L631.2 604.7 L633.2 604.8 L635.2 604.8 L637.2 604.6 L639.2 604.3 L641.2 603.9 L643.2 603.1 L645.2 601.6 L647.2 600.1 L649.2 598.6 L651.2 597 L653.2 595.5 L655.2 594 L657.2 592.6 L659.2 592 L661.2 592 L663.2 592.3 L665.2 593 L667.2 593.9 L669.3 595.1 L671.3 596.4 L673.3 597.8 L675.3 599 L677.3 600.1 L679.3 601 L681.3 601.5 L683.3 601.6 L685.3 601.1 L687.3 600.5 L689.3 600.2 L691.3 599.9 L693.3 599.6 L695.3 599.5 L697.3 599.5 L699.3 599.7 L701.3 600 L703.3 600.4 L705.3 600.9 L707.3 601.5 L709.3 602.1 L711.3 602.6 L713.3 603.1 L715.3 603.5 L717.3 604 L719.3 604.4 L721.3 604.9 L723.3 605.3 L725.3 605.7 L727.3 606.1 L729.3 606.5 L731.3 606.9 L733.3 607.4 L735.3 607.9 L737.3 608.6 L739.3 609.8 L741.3 611.3 L743.3 612.8 L745.3 614.2 L747.3 615.7 L749.3 617.1 L751.3 618.6 L753.3 620 L755.4 621.5 L757.4 622.8 L759.4 623.9 L761.4 624.7 L763.4 625.3 L765.4 625.9 L767.4 626.1 L769.4 626.1 L771.4 625.7 L773.4 625.2 L775.4 624.4 L777.4 623.4 L779.4 622.3 L781.4 621 L781.4 635 L779.4 636.3 L777.4 637.4 L775.4 638.4 L773.4 639.1 L771.4 639.7 L769.4 640 L767.4 640 L765.4 639.5 L763.4 638.7 L761.4 637.6 L759.4 636.3 L757.4 634.7 L755.4 632.8 L753.3 630.8 L751.3 628.7 L749.3 626.6 L747.3 624.6 L745.3 622.5 L743.3 620.5 L741.3 618.5 L739.3 616.5 L737.3 615 L735.3 614 L733.3 613.4 L731.3 612.9 L729.3 612.5 L727.3 612.1 L725.3 611.8 L723.3 611.4 L721.3 611 L719.3 610.6 L717.3 610.3 L715.3 609.9 L713.3 609.6 L711.3 609.2 L709.3 608.8 L707.3 608.3 L705.3 607.8 L703.3 607.5 L701.3 607.2 L699.3 607 L697.3 607 L695.3 607.2 L693.3 607.5 L691.3 608 L689.3 608.6 L687.3 609.3 L685.3 610.3 L683.3 611.3 L681.3 611.9 L679.3 612 L677.3 611.7 L675.3 611.3 L673.3 610.8 L671.3 610.1 L669.3 609.4 L667.2 608.7 L665.2 608.3 L663.2 608.1 L661.2 608.1 L659.2 608.4 L657.2 609.3 L655.2 611 L653.2 612.8 L651.2 614.6 L649.2 616.5 L647.2 618.3 L645.2 620.1 L643.2 621.7 L641.2 622.8 L639.2 623.4 L637.2 623.9 L635.2 624.3 L633.2 624.5 L631.2 624.5 L629.2 624.4 L627.2 624.3 L625.2 624.1 L623.2 623.8 L621.2 623.4 L619.2 623 L617.2 622.6 L615.2 622.1 L613.2 621.6 L611.2 621 L609.2 620.5 L607.2 619.8 L605.2 619.2 L603.2 618.4 L601.2 617.6 L599.2 616.8 L597.2 615.9 L595.2 614.9 L593.2 614 L591.2 613.1 L589.2 612.2 L587.2 611.3 L585.2 610.4 L583.2 609.4 L581.2 608.3 L579.1 607.1 L577.1 605.9 L575.1 604.7 L573.1 603.5 L571.1 602.3 L569.1 601.2 L567.1 600 L565.1 598.9 L563.1 597.8 L561.1 596.8 L559.1 595.9 L557.1 595.3 L555.1 594.8 L553.1 594.4 L551.1 594.3 L549.1 594.3 L547.1 594.6 L545.1 595.2 L543.1 596 L541.1 597.2 L539.1 599.1 L537.1 601.6 L535.1 605.8 L533.1 612.5 L531.1 621.2 L529.1 631.2 L527.1 637.8 L525.1 637.5 L523.1 634.6Z" fill="#0072bd" fill-opacity="0.2"/>
<path d="M523.1 626.6 L525.1 628.6 L527.1 627.9 L529.1 620.4 L531.1 609.5 L533.1 600 L535.1 592.6 L537.1 587.7 L539.1 584.5 L541.1 582.1 L543.1 580.4 L545.1 579.2 L547.1 578.2 L549.1 577.7 L551.1 577.5 L553.1 577.5 L555.1 577.9 L557.1 578.5 L559.1 579.3 L561.1 580.6 L563.1 582 L565.1 583.5 L567.1 585.3 L569.1 587.1 L571.1 588.9 L573.1 590.7 L575.1 592.6 L577.1 594.5 L579.1 596.3 L581.2 598.1 L583.2 599.7 L585.2 601.2 L587.2 602.5 L589.2 603.6 L591.2 604.7 L593.2 605.6 L595.2 606.5 L597.2 607.4 L599.2 608.2 L601.2 608.9 L603.2 609.6 L605.2 610.2 L607.2 610.8 L609.2 611.2 L611.2 611.6 L613.2 612 L615.2 612.4 L617.2 612.8 L619.2 613.2 L621.2 613.5 L623.2 613.9 L625.2 614.2 L627.2 614.4 L629.2 614.5 L631.2 614.6 L633.2 614.6 L635.2 614.5 L637.2 614.2 L639.2 613.9 L641.2 613.3 L643.2 612.4 L645.2 610.8 L647.2 609.2 L649.2 607.5 L651.2 605.8 L653.2 604.2 L655.2 602.5 L657.2 601 L659.2 600.2 L661.2 600 L663.2 600.2 L665.2 600.6 L667.2 601.3 L669.3 602.2 L671.3 603.3 L673.3 604.3 L675.3 605.1 L677.3 605.9 L679.3 606.5 L681.3 606.7 L683.3 606.4 L685.3 605.7 L687.3 604.9 L689.3 604.4 L691.3 604 L693.3 603.6 L695.3 603.3 L697.3 603.3 L699.3 603.4 L701.3 603.6 L703.3 603.9 L705.3 604.4 L707.3 604.9 L709.3 605.4 L711.3 605.9 L713.3 606.3 L715.3 606.7 L717.3 607.1 L719.3 607.5 L721.3 607.9 L723.3 608.3 L725.3 608.7 L727.3 609.1 L729.3 609.5 L731.3 609.9 L733.3 610.4 L735.3 610.9 L737.3 611.8 L739.3 613.2 L741.3 614.9 L743.3 616.6 L745.3 618.4 L747.3 620.1 L749.3 621.9 L751.3 623.6 L753.3 625.4 L755.4 627.1 L757.4 628.8 L759.4 630.1 L761.4 631.1 L763.4 632 L765.4 632.7 L767.4 633 L769.4 633 L771.4 632.7 L773.4 632.2 L775.4 631.4 L777.4 630.4 L779.4 629.3 L781.4 628" fill="none" stroke="#0072bd" stroke-width="6.2" stroke-linejoin="round" stroke-linecap="butt"/>
</g>
<path d="M523.1 611.9H781.2" stroke="#333" stroke-width="3" stroke-dasharray="3 3.13" fill="none"/>
<path d="M522.9 528.7V695.6H780.9" stroke="#6a6a6a" stroke-width="1.3" fill="none"/>
<path d="M522.9 528.7h2.6M522.9 570.3h2.6M522.9 611.9h2.6M522.9 653.5h2.6M522.9 695h2.6M522.9 695.3v-2.6M651.9 695.3v-2.6M780.9 695.3v-2.6" stroke="#6a6a6a" stroke-width="1" fill="none"/>
<rect x="546.1" y="685.5" width="23.5" height="10.1" fill="#0072bd"/>
<path d="M549 685.5v10.1M553.4 685.5v10.1M557.9 685.5v10.1M562.3 685.5v10.1M566.7 685.5v10.1" stroke="#000" stroke-width="2.2" fill="none"/>
<rect x="597.2" y="685.5" width="44.1" height="10.1" fill="#0072bd"/>
<path d="M600.1 685.5v10.1M604.9 685.5v10.1M609.7 685.5v10.1M614.5 685.5v10.1M619.3 685.5v10.1M624.1 685.5v10.1M628.8 685.5v10.1M633.6 685.5v10.1M638.4 685.5v10.1" stroke="#000" stroke-width="2.2" fill="none"/>
<rect x="678.2" y="685.5" width="36.9" height="10.1" fill="#0072bd"/>
<path d="M681.1 685.5v10.1M685.6 685.5v10.1M690 685.5v10.1M694.4 685.5v10.1M698.9 685.5v10.1M703.3 685.5v10.1M707.8 685.5v10.1M712.2 685.5v10.1" stroke="#000" stroke-width="2.2" fill="none"/>
<text transform="translate(515.5 536.5) scale(1 1.02)" font-size="19.05" text-anchor="end" fill="#1a1a1a" stroke="#1a1a1a" stroke-width="0.2">1</text>
<text transform="translate(515.5 578.1) scale(1 1.02)" font-size="19.05" text-anchor="end" fill="#1a1a1a" stroke="#1a1a1a" stroke-width="0.2">0.5</text>
<text transform="translate(515.5 619.7) scale(1 1.02)" font-size="19.05" text-anchor="end" fill="#1a1a1a" stroke="#1a1a1a" stroke-width="0.2">0</text>
<text transform="translate(515.5 661.3) scale(1 1.02)" font-size="19.05" text-anchor="end" fill="#1a1a1a" stroke="#1a1a1a" stroke-width="0.2">-0.5</text>
<text transform="translate(515.5 702.8) scale(1 1.02)" font-size="19.05" text-anchor="end" fill="#1a1a1a" stroke="#1a1a1a" stroke-width="0.2">-1</text>
<text transform="translate(522.7 722.4) scale(1 1.02)" font-size="19.05" text-anchor="middle" fill="#1a1a1a" stroke="#1a1a1a" stroke-width="0.2">0</text>
<text transform="translate(651.7 722.4) scale(1 1.02)" font-size="19.05" text-anchor="middle" fill="#1a1a1a" stroke="#1a1a1a" stroke-width="0.2">50</text>
<text transform="translate(780.7 722.4) scale(1 1.02)" font-size="19.05" text-anchor="middle" fill="#1a1a1a" stroke="#1a1a1a" stroke-width="0.2">100</text>
<text transform="translate(444.88 612) rotate(-90) scale(1 0.96)" font-size="21.3" text-anchor="middle" fill="#1a1a1a" stroke="#1a1a1a" stroke-width="0.2">Knee</text>
<text transform="translate(471.88 612) rotate(-90) scale(1 0.96)" font-size="21.2" text-anchor="middle" fill="#1a1a1a" stroke="#1a1a1a" stroke-width="0.2">Flex [Nm/kg] Ext</text>
</g>
<g>
<clipPath id="c22"><rect x="891.7" y="526.7" width="268" height="168.6"/></clipPath>
<g clip-path="url(#c22)">
<path d="M896.7 559.8 L898.7 548.9 L900.7 542.2 L902.7 540.7 L904.7 545.1 L906.7 555.8 L908.7 569.8 L910.7 583.4 L912.7 595.9 L914.7 604.2 L916.7 609.7 L918.7 611.6 L920.8 608.5 L922.8 602.9 L924.8 594.7 L926.8 586.3 L928.8 578.3 L930.8 570.5 L932.8 563.3 L934.8 557.1 L936.8 553.4 L938.8 552 L940.8 551.4 L942.8 552 L944.8 553.5 L946.8 555.7 L948.8 558.4 L950.8 561.1 L952.8 564 L954.8 567 L956.8 570 L958.9 572.8 L960.9 575.3 L962.9 577.5 L964.9 579.5 L966.9 581.1 L968.9 582.5 L970.9 583.8 L972.9 584.9 L974.9 585.8 L976.9 586.6 L978.9 587.3 L980.9 587.9 L982.9 588.4 L984.9 588.6 L986.9 588.7 L988.9 588.6 L990.9 588.4 L992.9 588 L994.9 587.4 L997 586.7 L999 585.8 L1001 584.7 L1003 583.6 L1005 582.5 L1007 581.5 L1009 580.7 L1011 580.1 L1013 579.5 L1015 579.7 L1017 580.4 L1019 582.1 L1021 585 L1023 588 L1025 591 L1027 593.8 L1029 596.6 L1031 597.9 L1033.1 598.1 L1035.1 598.1 L1037.1 598.2 L1039.1 598.2 L1041.1 598.1 L1043.1 597.7 L1045.1 597.4 L1047.1 597.3 L1049.1 597.3 L1051.1 597.4 L1053.1 597.6 L1055.1 598.1 L1057.1 599.3 L1059.1 600.7 L1061.1 601.4 L1063.1 601.1 L1065.1 600.1 L1067.1 598.4 L1069.1 596.2 L1071.2 593.6 L1073.2 591.1 L1075.2 588.9 L1077.2 586.8 L1079.2 584.8 L1081.2 583.2 L1083.2 581.9 L1085.2 581.1 L1087.2 580.4 L1089.2 579.9 L1091.2 579.6 L1093.2 579.4 L1095.2 579.3 L1097.2 579.4 L1099.2 579.6 L1101.2 580 L1103.2 580.6 L1105.2 581.9 L1107.3 583.8 L1109.3 586 L1111.3 588.5 L1113.3 591.8 L1115.3 595.9 L1117.3 599.9 L1119.3 603.8 L1121.3 607.7 L1123.3 611.6 L1125.3 615.7 L1127.3 619.3 L1129.3 621.8 L1131.3 623.7 L1133.3 624.6 L1135.3 624.5 L1137.3 622.7 L1139.3 618.6 L1141.3 612.4 L1143.3 604.1 L1145.4 594.5 L1147.4 585.3 L1149.4 577.3 L1151.4 570.7 L1153.4 567.8 L1155.4 567.8 L1155.4 595.7 L1153.4 598 L1151.4 603 L1149.4 611.3 L1147.4 620.9 L1145.4 631.4 L1143.3 642.1 L1141.3 651.2 L1139.3 657.9 L1137.3 662.4 L1135.3 664.3 L1133.3 664.3 L1131.3 662.5 L1129.3 658.9 L1127.3 654.5 L1125.3 648.4 L1123.3 641.7 L1121.3 634.9 L1119.3 628.1 L1117.3 621.4 L1115.3 614.7 L1113.3 608.2 L1111.3 602.9 L1109.3 599 L1107.3 596 L1105.2 593.9 L1103.2 592.6 L1101.2 592 L1099.2 591.6 L1097.2 591.4 L1095.2 591.3 L1093.2 591.4 L1091.2 591.5 L1089.2 591.9 L1087.2 592.4 L1085.2 593.1 L1083.2 594.7 L1081.2 597.4 L1079.2 601.1 L1077.2 605.5 L1075.2 610.4 L1073.2 615.7 L1071.2 621.4 L1069.1 627 L1067.1 632.2 L1065.1 636.6 L1063.1 640 L1061.1 642.1 L1059.1 643.4 L1057.1 644 L1055.1 644.8 L1053.1 646.2 L1051.1 647.8 L1049.1 649.3 L1047.1 650.5 L1045.1 651.5 L1043.1 652.3 L1041.1 652.6 L1039.1 651.9 L1037.1 650.3 L1035.1 648.2 L1033.1 645.6 L1031 642.5 L1029 638 L1027 632.1 L1025 625.9 L1023 619.8 L1021 613.9 L1019 608.3 L1017 604.4 L1015 602 L1013 600.8 L1011 600.2 L1009 599.8 L1007 599.6 L1005 599.6 L1003 599.8 L1001 600 L999 600.3 L997 600.5 L994.9 600.6 L992.9 600.7 L990.9 600.7 L988.9 600.7 L986.9 600.7 L984.9 600.6 L982.9 600.4 L980.9 600.1 L978.9 599.6 L976.9 599.1 L974.9 598.5 L972.9 597.8 L970.9 597 L968.9 596.1 L966.9 595 L964.9 593.7 L962.9 592.4 L960.9 591 L958.9 589.5 L956.8 587.8 L954.8 586.1 L952.8 584.4 L950.8 582.9 L948.8 581.6 L946.8 580.5 L944.8 579.7 L942.8 579.7 L940.8 580.7 L938.8 583.1 L936.8 586.8 L934.8 592.8 L932.8 601.4 L930.8 611.1 L928.8 621.2 L926.8 631.3 L924.8 641.6 L922.8 651.2 L920.8 657.8 L918.7 661.4 L916.7 659.4 L914.7 653.5 L912.7 644.5 L910.7 631.1 L908.7 616.2 L906.7 600.7 L904.7 588.2 L902.7 581.7 L900.7 580.4 L898.7 580.7 L896.7 583.7Z" fill="#3b3b3b" fill-opacity="0.2"/>
<path d="M896.7 571.8 L898.7 564.8 L900.7 561.3 L902.7 561.2 L904.7 566.7 L906.7 578.2 L908.7 593 L910.7 607.2 L912.7 620.2 L914.7 628.8 L916.7 634.6 L918.7 636.5 L920.8 633.2 L922.8 627 L924.8 618.2 L926.8 608.8 L928.8 599.8 L930.8 590.8 L932.8 582.4 L934.8 575 L936.8 570.1 L938.8 567.5 L940.8 566 L942.8 565.9 L944.8 566.6 L946.8 568.1 L948.8 570 L950.8 572 L952.8 574.2 L954.8 576.5 L956.8 578.9 L958.9 581.2 L960.9 583.2 L962.9 585 L964.9 586.6 L966.9 588 L968.9 589.3 L970.9 590.4 L972.9 591.4 L974.9 592.2 L976.9 592.9 L978.9 593.5 L980.9 594 L982.9 594.4 L984.9 594.6 L986.9 594.7 L988.9 594.7 L990.9 594.6 L992.9 594.3 L994.9 594 L997 593.6 L999 593 L1001 592.4 L1003 591.7 L1005 591.1 L1007 590.6 L1009 590.3 L1011 590.2 L1013 590.2 L1015 590.8 L1017 592.4 L1019 595.2 L1021 599.4 L1023 603.9 L1025 608.4 L1027 613 L1029 617.3 L1031 620.2 L1033.1 621.9 L1035.1 623.1 L1037.1 624.3 L1039.1 625 L1041.1 625.3 L1043.1 625 L1045.1 624.5 L1047.1 623.9 L1049.1 623.3 L1051.1 622.6 L1053.1 621.9 L1055.1 621.5 L1057.1 621.7 L1059.1 622 L1061.1 621.8 L1063.1 620.6 L1065.1 618.4 L1067.1 615.3 L1069.1 611.6 L1071.2 607.5 L1073.2 603.4 L1075.2 599.7 L1077.2 596.1 L1079.2 593 L1081.2 590.3 L1083.2 588.3 L1085.2 587.1 L1087.2 586.4 L1089.2 585.9 L1091.2 585.6 L1093.2 585.4 L1095.2 585.3 L1097.2 585.4 L1099.2 585.6 L1101.2 586 L1103.2 586.6 L1105.2 587.9 L1107.3 589.9 L1109.3 592.5 L1111.3 595.7 L1113.3 600 L1115.3 605.3 L1117.3 610.6 L1119.3 616 L1121.3 621.3 L1123.3 626.7 L1125.3 632 L1127.3 636.9 L1129.3 640.3 L1131.3 643.1 L1133.3 644.5 L1135.3 644.4 L1137.3 642.5 L1139.3 638.3 L1141.3 631.8 L1143.3 623.1 L1145.4 612.9 L1147.4 603.1 L1149.4 594.3 L1151.4 586.8 L1153.4 582.9 L1155.4 581.8" fill="none" stroke="#3b3b3b" stroke-width="6.2" stroke-linejoin="round" stroke-linecap="butt"/>
<path d="M896.7 569.8 L898.7 563.8 L900.7 561.4 L902.7 564.5 L904.7 570.3 L906.7 577.4 L908.7 584.3 L910.7 589.7 L912.7 592 L914.7 590.8 L916.7 587.5 L918.7 583 L920.8 577.8 L922.8 572 L924.8 566.3 L926.8 561 L928.8 556.1 L930.8 552.1 L932.8 549.4 L934.8 547.7 L936.8 546.9 L938.8 546.9 L940.8 547.6 L942.8 549.3 L944.8 551.8 L946.8 554.6 L948.8 557.6 L950.8 560.9 L952.8 564.2 L954.8 567.5 L956.8 570.5 L958.9 573.2 L960.9 575.5 L962.9 577.4 L964.9 578.9 L966.9 580 L968.9 580.9 L970.9 581.8 L972.9 582.6 L974.9 583.2 L976.9 583.8 L978.9 584.4 L980.9 584.9 L982.9 585.3 L984.9 585.6 L986.9 585.8 L988.9 585.9 L990.9 586 L992.9 586.1 L994.9 586.1 L997 586.1 L999 586 L1001 585.8 L1003 585.4 L1005 584.9 L1007 584.4 L1009 583.8 L1011 583.2 L1013 582.7 L1015 582.2 L1017 582.3 L1019 583.1 L1021 584.4 L1023 586 L1025 588 L1027 590.3 L1029 593 L1031 595.8 L1033.1 598.3 L1035.1 600.4 L1037.1 602.1 L1039.1 603.5 L1041.1 603.9 L1043.1 603.4 L1045.1 602.3 L1047.1 600.5 L1049.1 598.6 L1051.1 596.7 L1053.1 595 L1055.1 593.4 L1057.1 592.6 L1059.1 594.6 L1061.1 598.2 L1063.1 601.9 L1065.1 604.3 L1067.1 604.7 L1069.1 603.2 L1071.2 600.3 L1073.2 596.5 L1075.2 593.2 L1077.2 590.5 L1079.2 588.1 L1081.2 586.3 L1083.2 585 L1085.2 583.8 L1087.2 583 L1089.2 582.5 L1091.2 582 L1093.2 581.7 L1095.2 581.4 L1097.2 581.3 L1099.2 581.2 L1101.2 581.2 L1103.2 581.3 L1105.2 581.5 L1107.3 582.1 L1109.3 582.8 L1111.3 583.7 L1113.3 585.5 L1115.3 588.7 L1117.3 593.3 L1119.3 598 L1121.3 602.6 L1123.3 607.2 L1125.3 611.9 L1127.3 616.7 L1129.3 620.8 L1131.3 622.9 L1133.3 624.3 L1135.3 624.7 L1137.3 623.7 L1139.3 620.3 L1141.3 614.2 L1143.3 607 L1145.4 598.8 L1147.4 590.6 L1149.4 583.6 L1151.4 578.2 L1153.4 574.7 L1155.4 573.8 L1155.4 597.7 L1153.4 601.6 L1151.4 607.7 L1149.4 615.5 L1147.4 624.6 L1145.4 634.6 L1143.3 644.2 L1141.3 652.7 L1139.3 659.6 L1137.3 663.4 L1135.3 664.6 L1133.3 663.6 L1131.3 661 L1129.3 657.3 L1127.3 651 L1125.3 643.8 L1123.3 636.4 L1121.3 629 L1119.3 621.6 L1117.3 614.2 L1115.3 607.1 L1113.3 601.6 L1111.3 598 L1109.3 595.7 L1107.3 594.2 L1105.2 593.5 L1103.2 593.3 L1101.2 593.2 L1099.2 593.2 L1097.2 593.2 L1095.2 593.4 L1093.2 593.7 L1091.2 594 L1089.2 594.4 L1087.2 594.9 L1085.2 595.8 L1083.2 597.1 L1081.2 598.9 L1079.2 601.2 L1077.2 604.3 L1075.2 607.9 L1073.2 612.2 L1071.2 617 L1069.1 621.1 L1067.1 623.8 L1065.1 624.6 L1063.1 623.5 L1061.1 621.1 L1059.1 618.7 L1057.1 617.9 L1055.1 620 L1053.1 623.2 L1051.1 626.7 L1049.1 630.5 L1047.1 634.2 L1045.1 637.4 L1043.1 639.1 L1041.1 639.7 L1039.1 639 L1037.1 637.1 L1035.1 634.6 L1033.1 631.5 L1031 627.8 L1029 623.7 L1027 619.6 L1025 615.7 L1023 612.1 L1021 608.8 L1019 605.8 L1017 603.3 L1015 601.6 L1013 600.4 L1011 599.5 L1009 598.6 L1007 597.9 L1005 597.3 L1003 596.8 L1001 596.5 L999 596.2 L997 596.1 L994.9 596.1 L992.9 596.2 L990.9 596.2 L988.9 596.3 L986.9 596.5 L984.9 596.6 L982.9 596.6 L980.9 596.6 L978.9 596.6 L976.9 596.6 L974.9 596.5 L972.9 596.4 L970.9 596.2 L968.9 596 L966.9 595.8 L964.9 595.5 L962.9 595.5 L960.9 595.5 L958.9 595.5 L956.8 595.5 L954.8 595.4 L952.8 595.1 L950.8 594.7 L948.8 594.5 L946.8 594.3 L944.8 594.1 L942.8 593.8 L940.8 593.9 L938.8 594.6 L936.8 595.6 L934.8 597.4 L932.8 600 L930.8 603.6 L928.8 608.4 L926.8 614.1 L924.8 620.1 L922.8 626.4 L920.8 632.7 L918.7 638.3 L916.7 643.2 L914.7 646.6 L912.7 647.6 L910.7 644 L908.7 636 L906.7 625.3 L904.7 613.6 L902.7 602.5 L900.7 593.6 L898.7 590 L896.7 589.7Z" fill="#0072bd" fill-opacity="0.2"/>
<path d="M896.7 579.8 L898.7 576.9 L900.7 577.5 L902.7 583.5 L904.7 591.9 L906.7 601.4 L908.7 610.1 L910.7 616.9 L912.7 619.8 L914.7 618.7 L916.7 615.4 L918.7 610.6 L920.8 605.2 L922.8 599.2 L924.8 593.2 L926.8 587.6 L928.8 582.2 L930.8 577.9 L932.8 574.7 L934.8 572.6 L936.8 571.3 L938.8 570.8 L940.8 570.8 L942.8 571.6 L944.8 572.9 L946.8 574.4 L948.8 576 L950.8 577.8 L952.8 579.7 L954.8 581.4 L956.8 583 L958.9 584.4 L960.9 585.5 L962.9 586.4 L964.9 587.2 L966.9 587.9 L968.9 588.5 L970.9 589 L972.9 589.5 L974.9 589.9 L976.9 590.2 L978.9 590.5 L980.9 590.7 L982.9 591 L984.9 591.1 L986.9 591.1 L988.9 591.1 L990.9 591.1 L992.9 591.1 L994.9 591.1 L997 591.1 L999 591.1 L1001 591.1 L1003 591.1 L1005 591.1 L1007 591.1 L1009 591.2 L1011 591.3 L1013 591.6 L1015 591.9 L1017 592.8 L1019 594.4 L1021 596.6 L1023 599.1 L1025 601.9 L1027 604.9 L1029 608.3 L1031 611.8 L1033.1 614.9 L1035.1 617.5 L1037.1 619.6 L1039.1 621.3 L1041.1 621.8 L1043.1 621.2 L1045.1 619.8 L1047.1 617.4 L1049.1 614.5 L1051.1 611.7 L1053.1 609.1 L1055.1 606.7 L1057.1 605.3 L1059.1 606.7 L1061.1 609.7 L1063.1 612.7 L1065.1 614.4 L1067.1 614.3 L1069.1 612.1 L1071.2 608.6 L1073.2 604.3 L1075.2 600.5 L1077.2 597.4 L1079.2 594.7 L1081.2 592.6 L1083.2 591.1 L1085.2 589.8 L1087.2 589 L1089.2 588.4 L1091.2 588 L1093.2 587.7 L1095.2 587.4 L1097.2 587.3 L1099.2 587.2 L1101.2 587.2 L1103.2 587.3 L1105.2 587.5 L1107.3 588.2 L1109.3 589.3 L1111.3 590.8 L1113.3 593.5 L1115.3 597.9 L1117.3 603.8 L1119.3 609.8 L1121.3 615.8 L1123.3 621.8 L1125.3 627.8 L1127.3 633.9 L1129.3 639 L1131.3 641.9 L1133.3 644 L1135.3 644.7 L1137.3 643.6 L1139.3 640 L1141.3 633.5 L1143.3 625.6 L1145.4 616.7 L1147.4 607.6 L1149.4 599.6 L1151.4 593 L1153.4 588.1 L1155.4 585.7" fill="none" stroke="#0072bd" stroke-width="6.2" stroke-linejoin="round" stroke-linecap="butt"/>
</g>
<path d="M896.9 591.1H1155" stroke="#333" stroke-width="3" stroke-dasharray="3 3.13" fill="none"/>
<path d="M896.7 528.7V695.6H1154.7" stroke="#6a6a6a" stroke-width="1.3" fill="none"/>
<path d="M896.7 549.3h2.6M896.7 591.1h2.6M896.7 633h2.6M896.7 674.8h2.6M896.7 695.3v-2.6M1025.7 695.3v-2.6M1154.7 695.3v-2.6" stroke="#6a6a6a" stroke-width="1" fill="none"/>
<rect x="916.3" y="685.5" width="10.6" height="10.1" fill="#0072bd"/>
<path d="M919.2 685.5v10.1M924 685.5v10.1" stroke="#000" stroke-width="2.2" fill="none"/>
<rect x="976.7" y="685.5" width="14.4" height="10.1" fill="#0072bd"/>
<path d="M979.6 685.5v10.1M983.9 685.5v10.1M988.2 685.5v10.1" stroke="#000" stroke-width="2.2" fill="none"/>
<rect x="1053.8" y="685.5" width="9.5" height="10.1" fill="#0072bd"/>
<path d="M1056.7 685.5v10.1M1060.5 685.5v10.1" stroke="#000" stroke-width="2.2" fill="none"/>
<rect x="1082.2" y="685.5" width="12.9" height="10.1" fill="#0072bd"/>
<path d="M1085.1 685.5v10.1M1088.7 685.5v10.1M1092.2 685.5v10.1" stroke="#000" stroke-width="2.2" fill="none"/>
<rect x="1108.8" y="685.5" width="16" height="10.1" fill="#0072bd"/>
<path d="M1111.7 685.5v10.1M1116.8 685.5v10.1M1121.9 685.5v10.1" stroke="#000" stroke-width="2.2" fill="none"/>
<text transform="translate(889.3 557.1) scale(1 1.02)" font-size="19.05" text-anchor="end" fill="#1a1a1a" stroke="#1a1a1a" stroke-width="0.2">1</text>
<text transform="translate(889.3 598.9) scale(1 1.02)" font-size="19.05" text-anchor="end" fill="#1a1a1a" stroke="#1a1a1a" stroke-width="0.2">0</text>
<text transform="translate(889.3 640.8) scale(1 1.02)" font-size="19.05" text-anchor="end" fill="#1a1a1a" stroke="#1a1a1a" stroke-width="0.2">-1</text>
<text transform="translate(889.3 682.6) scale(1 1.02)" font-size="19.05" text-anchor="end" fill="#1a1a1a" stroke="#1a1a1a" stroke-width="0.2">-2</text>
<text transform="translate(896.5 722.4) scale(1 1.02)" font-size="19.05" text-anchor="middle" fill="#1a1a1a" stroke="#1a1a1a" stroke-width="0.2">0</text>
<text transform="translate(1025.5 722.4) scale(1 1.02)" font-size="19.05" text-anchor="middle" fill="#1a1a1a" stroke="#1a1a1a" stroke-width="0.2">50</text>
<text transform="translate(1154.5 722.4) scale(1 1.02)" font-size="19.05" text-anchor="middle" fill="#1a1a1a" stroke="#1a1a1a" stroke-width="0.2">100</text>
<text transform="translate(834.56 612) rotate(-90) scale(1 0.96)" font-size="21.3" text-anchor="middle" fill="#1a1a1a" stroke="#1a1a1a" stroke-width="0.2">Knee</text>
<text transform="translate(861.56 612) rotate(-90) scale(1 0.96)" font-size="21.2" text-anchor="middle" fill="#1a1a1a" stroke="#1a1a1a" stroke-width="0.2">Abs [W/kg] Gen</text>
</g>
<g>
<clipPath id="c23"><rect x="1265.7" y="526.7" width="268" height="168.6"/></clipPath>
<g clip-path="url(#c23)">
<path d="M1270.7 633.6 L1272.7 634.6 L1274.7 635 L1276.7 636 L1278.7 633.8 L1280.7 628.5 L1282.7 619.8 L1284.7 610.1 L1286.7 600.8 L1288.7 591.8 L1290.7 583.5 L1292.7 576.7 L1294.7 571 L1296.7 566.3 L1298.6 562.6 L1300.6 560.2 L1302.6 558.3 L1304.6 556.8 L1306.6 555.8 L1308.6 555.1 L1310.6 554.8 L1312.6 555.1 L1314.6 555.9 L1316.6 557.4 L1318.6 559.4 L1320.6 561.7 L1322.6 564.1 L1324.6 566.7 L1326.6 569.4 L1328.6 572.2 L1330.6 574.9 L1332.6 577.4 L1334.6 579.6 L1336.6 581.4 L1338.6 583.1 L1340.6 584.5 L1342.6 585.8 L1344.6 586.8 L1346.6 587.5 L1348.6 587.9 L1350.6 588 L1352.6 587.9 L1354.6 587.4 L1356.6 586.7 L1358.6 585.9 L1360.6 584.7 L1362.6 583.3 L1364.6 581.5 L1366.6 579.5 L1368.6 577.5 L1370.6 575.5 L1372.6 573.5 L1374.6 571.4 L1376.6 569.4 L1378.6 567.4 L1380.6 565.8 L1382.6 564.9 L1384.5 564.3 L1386.5 564.1 L1388.5 564.4 L1390.5 565 L1392.5 565.9 L1394.5 567.4 L1396.5 569.5 L1398.5 572.1 L1400.5 575.5 L1402.5 579.8 L1404.5 585.1 L1406.5 591 L1408.5 597.5 L1410.5 604.4 L1412.5 612.4 L1414.5 619.9 L1416.5 626.1 L1418.5 630.7 L1420.5 633.5 L1422.5 635.6 L1424.5 637.3 L1426.5 638.7 L1428.5 640.1 L1430.5 641.5 L1432.5 642.6 L1434.5 643.5 L1436.5 644 L1438.5 644.1 L1440.5 643.8 L1442.5 643.3 L1444.5 642.7 L1446.5 642.1 L1448.5 641.3 L1450.5 640.5 L1452.5 639.6 L1454.5 638.6 L1456.5 637.6 L1458.5 636.9 L1460.5 636.3 L1462.5 635.9 L1464.5 635.6 L1466.5 635.4 L1468.5 635.2 L1470.4 635.1 L1472.4 635.1 L1474.4 635.2 L1476.4 635.3 L1478.4 635.4 L1480.4 635.5 L1482.4 635.5 L1484.4 635.5 L1486.4 635.5 L1488.4 635.5 L1490.4 635.4 L1492.4 635.5 L1494.4 635.5 L1496.4 635.5 L1498.4 635.5 L1500.4 635.4 L1502.4 635.3 L1504.4 635.2 L1506.4 635 L1508.4 634.8 L1510.4 634.5 L1512.4 634.2 L1514.4 633.8 L1516.4 633.4 L1518.4 633 L1520.4 632.6 L1522.4 632.1 L1524.4 631.7 L1526.4 631.4 L1528.4 631 L1528.4 644.9 L1526.4 645.7 L1524.4 646.5 L1522.4 647.2 L1520.4 647.8 L1518.4 648.4 L1516.4 649 L1514.4 649.5 L1512.4 650 L1510.4 650.4 L1508.4 650.7 L1506.4 651 L1504.4 651.1 L1502.4 651.1 L1500.4 651 L1498.4 650.6 L1496.4 650.1 L1494.4 649.4 L1492.4 648.6 L1490.4 647.8 L1488.4 647 L1486.4 646.2 L1484.4 645.4 L1482.4 644.6 L1480.4 643.8 L1478.4 643.1 L1476.4 642.4 L1474.4 641.8 L1472.4 641.3 L1470.4 641.2 L1468.5 641.2 L1466.5 641.4 L1464.5 641.6 L1462.5 642 L1460.5 642.5 L1458.5 643.1 L1456.5 644 L1454.5 645 L1452.5 646.1 L1450.5 647.2 L1448.5 648.2 L1446.5 649.2 L1444.5 650 L1442.5 650.9 L1440.5 651.6 L1438.5 652.2 L1436.5 653.1 L1434.5 654.3 L1432.5 655.8 L1430.5 657.3 L1428.5 658.9 L1426.5 660.3 L1424.5 661.7 L1422.5 662.3 L1420.5 661.9 L1418.5 660.9 L1416.5 658 L1414.5 653.4 L1412.5 647.1 L1410.5 640 L1408.5 633.4 L1406.5 627.2 L1404.5 621.4 L1402.5 616.2 L1400.5 612 L1398.5 608.8 L1396.5 606.3 L1394.5 604.3 L1392.5 602.9 L1390.5 602 L1388.5 601.4 L1386.5 601.2 L1384.5 601.4 L1382.6 601.7 L1380.6 602.2 L1378.6 603.1 L1376.6 604.2 L1374.6 605.2 L1372.6 606.2 L1370.6 607 L1368.6 607.8 L1366.6 608.5 L1364.6 609.2 L1362.6 609.8 L1360.6 610.2 L1358.6 610.3 L1356.6 610.2 L1354.6 610.2 L1352.6 610.1 L1350.6 610 L1348.6 609.8 L1346.6 609.6 L1344.6 609.2 L1342.6 608.7 L1340.6 608.1 L1338.6 607.4 L1336.6 606.5 L1334.6 605.5 L1332.6 604.3 L1330.6 602.7 L1328.6 601 L1326.6 599.1 L1324.6 597.3 L1322.6 595.5 L1320.6 593.8 L1318.6 592.2 L1316.6 590.7 L1314.6 589.6 L1312.6 589 L1310.6 588.6 L1308.6 588.7 L1306.6 589 L1304.6 589.5 L1302.6 590.3 L1300.6 591.4 L1298.6 593.1 L1296.7 596.1 L1294.7 600.2 L1292.7 605.3 L1290.7 611.7 L1288.7 619.7 L1286.7 628.8 L1284.7 638.6 L1282.7 649.2 L1280.7 658.8 L1278.7 665.1 L1276.7 667.8 L1274.7 665.7 L1272.7 657.4 L1270.7 645.5Z" fill="#3b3b3b" fill-opacity="0.2"/>
<path d="M1270.7 639.6 L1272.7 646 L1274.7 650.4 L1276.7 651.9 L1278.7 649.5 L1280.7 643.7 L1282.7 634.5 L1284.7 624.3 L1286.7 614.8 L1288.7 605.8 L1290.7 597.6 L1292.7 591 L1294.7 585.6 L1296.7 581.2 L1298.6 577.8 L1300.6 575.8 L1302.6 574.3 L1304.6 573.2 L1306.6 572.4 L1308.6 571.9 L1310.6 571.7 L1312.6 572 L1314.6 572.8 L1316.6 574 L1318.6 575.8 L1320.6 577.8 L1322.6 579.8 L1324.6 582 L1326.6 584.3 L1328.6 586.6 L1330.6 588.8 L1332.6 590.8 L1334.6 592.5 L1336.6 594 L1338.6 595.2 L1340.6 596.3 L1342.6 597.3 L1344.6 598 L1346.6 598.5 L1348.6 598.9 L1350.6 599 L1352.6 599 L1354.6 598.8 L1356.6 598.5 L1358.6 598.1 L1360.6 597.4 L1362.6 596.6 L1364.6 595.3 L1366.6 594 L1368.6 592.7 L1370.6 591.3 L1372.6 589.8 L1374.6 588.3 L1376.6 586.8 L1378.6 585.3 L1380.6 584 L1382.6 583.3 L1384.5 582.9 L1386.5 582.7 L1388.5 582.9 L1390.5 583.5 L1392.5 584.4 L1394.5 585.9 L1396.5 587.9 L1398.5 590.4 L1400.5 593.7 L1402.5 598 L1404.5 603.2 L1406.5 609.1 L1408.5 615.4 L1410.5 622.2 L1412.5 629.7 L1414.5 636.6 L1416.5 642.1 L1418.5 645.8 L1420.5 647.7 L1422.5 648.9 L1424.5 649.5 L1426.5 649.5 L1428.5 649.5 L1430.5 649.4 L1432.5 649.2 L1434.5 648.9 L1436.5 648.6 L1438.5 648.2 L1440.5 647.7 L1442.5 647.1 L1444.5 646.4 L1446.5 645.6 L1448.5 644.8 L1450.5 643.9 L1452.5 642.8 L1454.5 641.8 L1456.5 640.8 L1458.5 640 L1460.5 639.4 L1462.5 638.9 L1464.5 638.6 L1466.5 638.4 L1468.5 638.2 L1470.4 638.2 L1472.4 638.2 L1474.4 638.5 L1476.4 638.9 L1478.4 639.3 L1480.4 639.7 L1482.4 640.1 L1484.4 640.4 L1486.4 640.8 L1488.4 641.2 L1490.4 641.6 L1492.4 642 L1494.4 642.4 L1496.4 642.8 L1498.4 643.1 L1500.4 643.2 L1502.4 643.2 L1504.4 643.2 L1506.4 643 L1508.4 642.8 L1510.4 642.5 L1512.4 642.1 L1514.4 641.6 L1516.4 641.2 L1518.4 640.7 L1520.4 640.2 L1522.4 639.7 L1524.4 639.1 L1526.4 638.5 L1528.4 638" fill="none" stroke="#3b3b3b" stroke-width="6.2" stroke-linejoin="round" stroke-linecap="butt"/>
<path d="M1270.7 624.6 L1272.7 616.8 L1274.7 608.6 L1276.7 600.3 L1278.7 593.5 L1280.7 589.2 L1282.7 586.7 L1284.7 585.5 L1286.7 583.9 L1288.7 580.4 L1290.7 576.3 L1292.7 572.1 L1294.7 568 L1296.7 564.5 L1298.6 562.3 L1300.6 560.9 L1302.6 559.8 L1304.6 558.9 L1306.6 558.4 L1308.6 558.4 L1310.6 558.6 L1312.6 559.2 L1314.6 560.2 L1316.6 561.4 L1318.6 562.8 L1320.6 564.5 L1322.6 566.5 L1324.6 568.3 L1326.6 569.9 L1328.6 571.4 L1330.6 572.8 L1332.6 574.1 L1334.6 575.3 L1336.6 576.5 L1338.6 577.6 L1340.6 578.7 L1342.6 579.6 L1344.6 580.5 L1346.6 581.2 L1348.6 581.8 L1350.6 582.2 L1352.6 582.5 L1354.6 582.6 L1356.6 582.6 L1358.6 582.4 L1360.6 582.2 L1362.6 582 L1364.6 581.7 L1366.6 581.5 L1368.6 581.3 L1370.6 581.1 L1372.6 580.8 L1374.6 580.6 L1376.6 580.5 L1378.6 580.4 L1380.6 580.3 L1382.6 580.2 L1384.5 580.1 L1386.5 580.1 L1388.5 580.2 L1390.5 580.8 L1392.5 581.9 L1394.5 583.4 L1396.5 585.4 L1398.5 587.8 L1400.5 590.5 L1402.5 593.7 L1404.5 597.2 L1406.5 601.3 L1408.5 605.9 L1410.5 610.9 L1412.5 616.1 L1414.5 622 L1416.5 627.3 L1418.5 631.6 L1420.5 634.6 L1422.5 636.7 L1424.5 638.4 L1426.5 639.8 L1428.5 640.8 L1430.5 641.8 L1432.5 642.6 L1434.5 643.2 L1436.5 643.5 L1438.5 643.6 L1440.5 643.5 L1442.5 643.1 L1444.5 642.5 L1446.5 641.8 L1448.5 641.1 L1450.5 640.3 L1452.5 639.7 L1454.5 639 L1456.5 638.3 L1458.5 637.6 L1460.5 636.9 L1462.5 636.4 L1464.5 636 L1466.5 635.6 L1468.5 635.4 L1470.4 635.2 L1472.4 635 L1474.4 634.9 L1476.4 634.9 L1478.4 635 L1480.4 635 L1482.4 635.1 L1484.4 635.1 L1486.4 635.1 L1488.4 635.1 L1490.4 635 L1492.4 635 L1494.4 635 L1496.4 634.9 L1498.4 634.9 L1500.4 634.7 L1502.4 634.5 L1504.4 634.2 L1506.4 633.9 L1508.4 633.5 L1510.4 633 L1512.4 632.5 L1514.4 631.9 L1516.4 631.3 L1518.4 630.7 L1520.4 630 L1522.4 629.3 L1524.4 628.6 L1526.4 627.9 L1528.4 627.2 L1528.4 643.1 L1526.4 643.4 L1524.4 643.7 L1522.4 644 L1520.4 644.3 L1518.4 644.5 L1516.4 644.8 L1514.4 645 L1512.4 645.2 L1510.4 645.3 L1508.4 645.3 L1506.4 645.3 L1504.4 645.2 L1502.4 645.1 L1500.4 644.8 L1498.4 644.5 L1496.4 644.1 L1494.4 643.6 L1492.4 643.2 L1490.4 642.8 L1488.4 642.4 L1486.4 641.9 L1484.4 641.5 L1482.4 641.2 L1480.4 640.8 L1478.4 640.4 L1476.4 640.1 L1474.4 639.9 L1472.4 639.9 L1470.4 640 L1468.5 640.2 L1466.5 640.4 L1464.5 640.8 L1462.5 641.3 L1460.5 642 L1458.5 642.8 L1456.5 643.6 L1454.5 644.5 L1452.5 645.5 L1450.5 646.4 L1448.5 647.4 L1446.5 648.4 L1444.5 649.5 L1442.5 650.4 L1440.5 651.2 L1438.5 651.7 L1436.5 652.4 L1434.5 653.3 L1432.5 654.2 L1430.5 655.2 L1428.5 656.2 L1426.5 657.2 L1424.5 657.8 L1422.5 657.9 L1420.5 657.5 L1418.5 655.9 L1416.5 653.2 L1414.5 649.4 L1412.5 645.2 L1410.5 641.5 L1408.5 638 L1406.5 634.7 L1404.5 631.7 L1402.5 629 L1400.5 626.3 L1398.5 623.7 L1396.5 621 L1394.5 618.5 L1392.5 616.2 L1390.5 614.3 L1388.5 612.8 L1386.5 611.8 L1384.5 611 L1382.6 610.5 L1380.6 610.3 L1378.6 610.3 L1376.6 610.4 L1374.6 610.5 L1372.6 610.8 L1370.6 611 L1368.6 611.3 L1366.6 611.6 L1364.6 611.9 L1362.6 612.1 L1360.6 612.4 L1358.6 612.7 L1356.6 613 L1354.6 613.1 L1352.6 613 L1350.6 612.8 L1348.6 612.5 L1346.6 612 L1344.6 611.5 L1342.6 610.8 L1340.6 610 L1338.6 609.2 L1336.6 608.3 L1334.6 607.4 L1332.6 606.4 L1330.6 605.4 L1328.6 604.3 L1326.6 603.1 L1324.6 601.9 L1322.6 600.3 L1320.6 598.8 L1318.6 597.4 L1316.6 596.3 L1314.6 595.5 L1312.6 594.9 L1310.6 594.7 L1308.6 594.9 L1306.6 595.5 L1304.6 596.7 L1302.6 598.2 L1300.6 600.1 L1298.6 602.2 L1296.7 605.2 L1294.7 609.4 L1292.7 614.2 L1290.7 618.9 L1288.7 623.5 L1286.7 627.4 L1284.7 629.3 L1282.7 630.6 L1280.7 631.8 L1278.7 632.9 L1276.7 634.9 L1274.7 637.3 L1272.7 639.2 L1270.7 640.6Z" fill="#0072bd" fill-opacity="0.2"/>
<path d="M1270.7 632.6 L1272.7 628 L1274.7 623 L1276.7 617.6 L1278.7 613.2 L1280.7 610.5 L1282.7 608.6 L1284.7 607.4 L1286.7 605.6 L1288.7 601.9 L1290.7 597.6 L1292.7 593.1 L1294.7 588.7 L1296.7 584.9 L1298.6 582.3 L1300.6 580.5 L1302.6 579 L1304.6 577.8 L1306.6 577 L1308.6 576.7 L1310.6 576.7 L1312.6 577 L1314.6 577.9 L1316.6 578.9 L1318.6 580.1 L1320.6 581.6 L1322.6 583.4 L1324.6 585.1 L1326.6 586.5 L1328.6 587.8 L1330.6 589.1 L1332.6 590.2 L1334.6 591.4 L1336.6 592.4 L1338.6 593.4 L1340.6 594.3 L1342.6 595.2 L1344.6 596 L1346.6 596.6 L1348.6 597.1 L1350.6 597.5 L1352.6 597.8 L1354.6 597.9 L1356.6 597.8 L1358.6 597.5 L1360.6 597.3 L1362.6 597.1 L1364.6 596.8 L1366.6 596.6 L1368.6 596.3 L1370.6 596.1 L1372.6 595.8 L1374.6 595.6 L1376.6 595.4 L1378.6 595.4 L1380.6 595.3 L1382.6 595.3 L1384.5 595.5 L1386.5 595.9 L1388.5 596.5 L1390.5 597.6 L1392.5 599.1 L1394.5 601 L1396.5 603.2 L1398.5 605.7 L1400.5 608.4 L1402.5 611.3 L1404.5 614.5 L1406.5 618 L1408.5 622 L1410.5 626.2 L1412.5 630.7 L1414.5 635.7 L1416.5 640.3 L1418.5 643.8 L1420.5 646.1 L1422.5 647.3 L1424.5 648.1 L1426.5 648.5 L1428.5 648.5 L1430.5 648.5 L1432.5 648.4 L1434.5 648.2 L1436.5 647.9 L1438.5 647.7 L1440.5 647.3 L1442.5 646.7 L1444.5 646 L1446.5 645.1 L1448.5 644.2 L1450.5 643.4 L1452.5 642.6 L1454.5 641.8 L1456.5 641 L1458.5 640.2 L1460.5 639.4 L1462.5 638.9 L1464.5 638.4 L1466.5 638 L1468.5 637.8 L1470.4 637.6 L1472.4 637.4 L1474.4 637.4 L1476.4 637.5 L1478.4 637.7 L1480.4 637.9 L1482.4 638.1 L1484.4 638.3 L1486.4 638.5 L1488.4 638.7 L1490.4 638.9 L1492.4 639.1 L1494.4 639.3 L1496.4 639.5 L1498.4 639.7 L1500.4 639.8 L1502.4 639.8 L1504.4 639.7 L1506.4 639.6 L1508.4 639.4 L1510.4 639.1 L1512.4 638.8 L1514.4 638.5 L1516.4 638.1 L1518.4 637.6 L1520.4 637.1 L1522.4 636.7 L1524.4 636.2 L1526.4 635.7 L1528.4 635.2" fill="none" stroke="#0072bd" stroke-width="6.2" stroke-linejoin="round" stroke-linecap="butt"/>
</g>
<path d="M1270.9 639.6H1529" stroke="#333" stroke-width="3" stroke-dasharray="3 3.13" fill="none"/>
<path d="M1270.7 528.7V695.6H1528.7" stroke="#6a6a6a" stroke-width="1.3" fill="none"/>
<path d="M1270.7 528.7h2.6M1270.7 584.1h2.6M1270.7 639.6h2.6M1270.7 695h2.6M1270.7 695.3v-2.6M1399.7 695.3v-2.6M1528.7 695.3v-2.6" stroke="#6a6a6a" stroke-width="1" fill="none"/>
<rect x="1270.4" y="685.5" width="15.8" height="10.1" fill="#0072bd"/>
<path d="M1273.3 685.5v10.1M1278.3 685.5v10.1M1283.3 685.5v10.1" stroke="#000" stroke-width="2.2" fill="none"/>
<rect x="1377.5" y="685.5" width="26.8" height="10.1" fill="#0072bd"/>
<path d="M1380.4 685.5v10.1M1384.6 685.5v10.1M1388.8 685.5v10.1M1393 685.5v10.1M1397.2 685.5v10.1M1401.4 685.5v10.1" stroke="#000" stroke-width="2.2" fill="none"/>
<text transform="translate(1263.3 536.5) scale(1 1.02)" font-size="19.05" text-anchor="end" fill="#1a1a1a" stroke="#1a1a1a" stroke-width="0.2">1</text>
<text transform="translate(1263.3 591.9) scale(1 1.02)" font-size="19.05" text-anchor="end" fill="#1a1a1a" stroke="#1a1a1a" stroke-width="0.2">0.5</text>
<text transform="translate(1263.3 647.4) scale(1 1.02)" font-size="19.05" text-anchor="end" fill="#1a1a1a" stroke="#1a1a1a" stroke-width="0.2">0</text>
<text transform="translate(1263.3 702.8) scale(1 1.02)" font-size="19.05" text-anchor="end" fill="#1a1a1a" stroke="#1a1a1a" stroke-width="0.2">-0.5</text>
<text transform="translate(1270.5 722.4) scale(1 1.02)" font-size="19.05" text-anchor="middle" fill="#1a1a1a" stroke="#1a1a1a" stroke-width="0.2">0</text>
<text transform="translate(1399.5 722.4) scale(1 1.02)" font-size="19.05" text-anchor="middle" fill="#1a1a1a" stroke="#1a1a1a" stroke-width="0.2">50</text>
<text transform="translate(1528.5 722.4) scale(1 1.02)" font-size="19.05" text-anchor="middle" fill="#1a1a1a" stroke="#1a1a1a" stroke-width="0.2">100</text>
<text transform="translate(1399.7 749.6) scale(1 1.04)" font-size="21" text-anchor="middle" fill="#1a1a1a" stroke="#1a1a1a" stroke-width="0.2">[%] Gait cycle</text>
<text transform="translate(1192.68 612) rotate(-90) scale(1 0.96)" font-size="21.3" text-anchor="middle" fill="#1a1a1a" stroke="#1a1a1a" stroke-width="0.2">Hip</text>
<text transform="translate(1219.68 612) rotate(-90) scale(1 0.96)" font-size="21.2" text-anchor="middle" fill="#1a1a1a" stroke="#1a1a1a" stroke-width="0.2">Add [Nm/kg] Abd</text>
</g>
<g>
<clipPath id="c30"><rect x="145" y="778.8" width="268" height="168.7"/></clipPath>
<g clip-path="url(#c30)">
<path d="M150.1 818 L152.1 818.9 L154.1 819.6 L156.1 820.1 L158.1 820.5 L160.1 820.6 L162.1 820.3 L164.1 819.6 L166.1 818.5 L168.1 817 L170.1 815.2 L172.1 813.4 L174.1 811.6 L176.1 810 L178.1 808.5 L180.1 807.1 L182.1 805.8 L184.1 804.6 L186.1 803.6 L188.1 802.6 L190.1 801.8 L192.1 801.1 L194.1 800.5 L196.1 800 L198.1 799.5 L200.1 799.1 L202.1 798.8 L204.1 798.5 L206.1 798.2 L208.2 797.9 L210.2 797.7 L212.2 797.4 L214.2 797.2 L216.2 797 L218.2 796.8 L220.2 796.6 L222.2 796.3 L224.2 796.1 L226.2 795.9 L228.2 795.7 L230.2 795.4 L232.2 795.2 L234.2 795 L236.2 794.8 L238.2 794.5 L240.2 794.3 L242.2 794 L244.2 793.8 L246.2 793.5 L248.2 793.2 L250.2 792.9 L252.2 792.7 L254.2 792.5 L256.2 792.4 L258.2 792.2 L260.2 792 L262.2 791.9 L264.2 791.9 L266.2 791.9 L268.2 792 L270.2 792.3 L272.2 792.8 L274.2 793.4 L276.2 794.5 L278.2 796 L280.2 797.8 L282.2 800 L284.2 802.8 L286.2 806.4 L288.2 810.3 L290.2 814.3 L292.2 818.4 L294.2 822.8 L296.3 827.1 L298.3 831 L300.3 834.2 L302.3 836.8 L304.3 838.9 L306.3 840.5 L308.3 841.5 L310.3 841.9 L312.3 841.9 L314.3 841.3 L316.3 840 L318.3 838.6 L320.3 836.8 L322.3 834.8 L324.3 832.6 L326.3 830.4 L328.3 828.3 L330.3 826.3 L332.3 824.3 L334.3 822.4 L336.3 820.6 L338.3 818.9 L340.3 817.3 L342.3 816 L344.3 814.8 L346.3 813.8 L348.3 813 L350.3 812.4 L352.3 811.9 L354.3 811.5 L356.3 811.1 L358.3 810.8 L360.3 810.5 L362.3 810.3 L364.3 810.2 L366.3 810.1 L368.3 810 L370.3 809.9 L372.3 809.9 L374.3 809.9 L376.3 809.8 L378.3 809.8 L380.3 809.8 L382.4 809.8 L384.4 809.8 L386.4 809.8 L388.4 809.9 L390.4 810 L392.4 810.2 L394.4 810.5 L396.4 810.8 L398.4 811.1 L400.4 811.7 L402.4 812.3 L404.4 813 L406.4 813.9 L408.4 814.8 L408.4 832.8 L406.4 831.8 L404.4 831 L402.4 830.2 L400.4 829.6 L398.4 829.1 L396.4 828.7 L394.4 828.4 L392.4 828.2 L390.4 828 L388.4 827.8 L386.4 827.8 L384.4 827.7 L382.4 827.7 L380.3 827.7 L378.3 827.7 L376.3 827.8 L374.3 827.8 L372.3 827.8 L370.3 827.9 L368.3 827.9 L366.3 828 L364.3 828.1 L362.3 828.2 L360.3 828.4 L358.3 828.7 L356.3 829.1 L354.3 829.5 L352.3 830 L350.3 830.6 L348.3 831.4 L346.3 832.4 L344.3 833.6 L342.3 835 L340.3 836.5 L338.3 838.3 L336.3 840.3 L334.3 842.3 L332.3 844.5 L330.3 846.6 L328.3 848.9 L326.3 851.2 L324.3 853.6 L322.3 856 L320.3 858.3 L318.3 860.2 L316.3 861.7 L314.3 863.1 L312.3 863.8 L310.3 863.8 L308.3 863.4 L306.3 862.4 L304.3 860.8 L302.3 858.6 L300.3 855.9 L298.3 852.6 L296.3 848.5 L294.2 844.1 L292.2 839.6 L290.2 835.3 L288.2 831.2 L286.2 827.1 L284.2 823.4 L282.2 820.3 L280.2 817.9 L278.2 816 L276.2 814.3 L274.2 813.1 L272.2 812.3 L270.2 811.6 L268.2 811.1 L266.2 811 L264.2 810.9 L262.2 810.8 L260.2 810.8 L258.2 810.9 L256.2 811 L254.2 811.1 L252.2 811.2 L250.2 811.4 L248.2 811.6 L246.2 811.8 L244.2 812 L242.2 812.3 L240.2 812.5 L238.2 812.6 L236.2 812.8 L234.2 813 L232.2 813.2 L230.2 813.3 L228.2 813.5 L226.2 813.7 L224.2 813.9 L222.2 814 L220.2 814.2 L218.2 814.4 L216.2 814.6 L214.2 814.7 L212.2 814.9 L210.2 815.1 L208.2 815.3 L206.1 815.5 L204.1 815.8 L202.1 816.1 L200.1 816.4 L198.1 816.7 L196.1 817.1 L194.1 817.6 L192.1 818.2 L190.1 818.9 L188.1 819.7 L186.1 820.6 L184.1 821.6 L182.1 822.8 L180.1 824 L178.1 825.4 L176.1 826.9 L174.1 828.4 L172.1 830.2 L170.1 832.1 L168.1 833.8 L166.1 835.3 L164.1 836.4 L162.1 837.1 L160.1 837.3 L158.1 837.2 L156.1 836.9 L154.1 836.3 L152.1 835.6 L150.1 834.8Z" fill="#3b3b3b" fill-opacity="0.2"/>
<path d="M150.1 826.4 L152.1 827.3 L154.1 827.9 L156.1 828.5 L158.1 828.8 L160.1 828.9 L162.1 828.7 L164.1 828 L166.1 826.9 L168.1 825.4 L170.1 823.7 L172.1 821.8 L174.1 820 L176.1 818.4 L178.1 817 L180.1 815.6 L182.1 814.3 L184.1 813.1 L186.1 812.1 L188.1 811.1 L190.1 810.3 L192.1 809.7 L194.1 809.1 L196.1 808.5 L198.1 808.1 L200.1 807.8 L202.1 807.4 L204.1 807.1 L206.1 806.8 L208.2 806.6 L210.2 806.4 L212.2 806.2 L214.2 806 L216.2 805.8 L218.2 805.6 L220.2 805.4 L222.2 805.2 L224.2 805 L226.2 804.8 L228.2 804.6 L230.2 804.4 L232.2 804.2 L234.2 804 L236.2 803.8 L238.2 803.6 L240.2 803.4 L242.2 803.2 L244.2 802.9 L246.2 802.6 L248.2 802.4 L250.2 802.2 L252.2 802 L254.2 801.8 L256.2 801.7 L258.2 801.5 L260.2 801.4 L262.2 801.4 L264.2 801.4 L266.2 801.4 L268.2 801.5 L270.2 801.9 L272.2 802.5 L274.2 803.3 L276.2 804.4 L278.2 806 L280.2 807.8 L282.2 810.2 L284.2 813.1 L286.2 816.8 L288.2 820.7 L290.2 824.8 L292.2 829 L294.2 833.4 L296.3 837.8 L298.3 841.8 L300.3 845.1 L302.3 847.7 L304.3 849.9 L306.3 851.5 L308.3 852.5 L310.3 852.9 L312.3 852.8 L314.3 852.2 L316.3 850.9 L318.3 849.4 L320.3 847.6 L322.3 845.4 L324.3 843.1 L326.3 840.8 L328.3 838.6 L330.3 836.5 L332.3 834.4 L334.3 832.4 L336.3 830.5 L338.3 828.6 L340.3 826.9 L342.3 825.5 L344.3 824.2 L346.3 823.1 L348.3 822.2 L350.3 821.5 L352.3 821 L354.3 820.5 L356.3 820.1 L358.3 819.7 L360.3 819.4 L362.3 819.2 L364.3 819.1 L366.3 819.1 L368.3 819 L370.3 818.9 L372.3 818.9 L374.3 818.8 L376.3 818.8 L378.3 818.8 L380.3 818.8 L382.4 818.8 L384.4 818.8 L386.4 818.8 L388.4 818.9 L390.4 819 L392.4 819.2 L394.4 819.4 L396.4 819.7 L398.4 820.1 L400.4 820.6 L402.4 821.3 L404.4 822 L406.4 822.8 L408.4 823.8" fill="none" stroke="#3b3b3b" stroke-width="6.2" stroke-linejoin="round" stroke-linecap="butt"/>
<path d="M150.1 822.2 L152.1 822.8 L154.1 823.1 L156.1 823.4 L158.1 823.5 L160.1 823.4 L162.1 823 L164.1 822.2 L166.1 821.1 L168.1 819.7 L170.1 818.1 L172.1 816.5 L174.1 814.9 L176.1 813.4 L178.1 812 L180.1 810.6 L182.1 809.4 L184.1 808.2 L186.1 807.2 L188.1 806.3 L190.1 805.5 L192.1 804.8 L194.1 804 L196.1 803.4 L198.1 802.8 L200.1 802.3 L202.1 801.9 L204.1 801.5 L206.1 801.1 L208.2 800.7 L210.2 800.3 L212.2 800 L214.2 799.6 L216.2 799.3 L218.2 798.9 L220.2 798.6 L222.2 798.2 L224.2 797.9 L226.2 797.5 L228.2 797.2 L230.2 796.9 L232.2 796.6 L234.2 796.3 L236.2 795.9 L238.2 795.6 L240.2 795.3 L242.2 794.9 L244.2 794.5 L246.2 794.1 L248.2 793.8 L250.2 793.4 L252.2 793 L254.2 792.7 L256.2 792.5 L258.2 792.2 L260.2 791.9 L262.2 791.7 L264.2 791.5 L266.2 791.4 L268.2 791.3 L270.2 791.3 L272.2 791.4 L274.2 791.7 L276.2 792 L278.2 792.4 L280.2 793.1 L282.2 794.1 L284.2 795.3 L286.2 796.8 L288.2 798.8 L290.2 801.4 L292.2 804.5 L294.2 808 L296.3 811.9 L298.3 816.1 L300.3 820.6 L302.3 825 L304.3 828.9 L306.3 832.4 L308.3 835.4 L310.3 837.7 L312.3 839.2 L314.3 840.1 L316.3 840.6 L318.3 840.6 L320.3 839.9 L322.3 838.9 L324.3 837.6 L326.3 835.8 L328.3 833.9 L330.3 831.9 L332.3 830.1 L334.3 828.4 L336.3 826.8 L338.3 825.2 L340.3 823.7 L342.3 822.3 L344.3 821.1 L346.3 820.1 L348.3 819.1 L350.3 818.3 L352.3 817.5 L354.3 816.8 L356.3 816.3 L358.3 816 L360.3 815.8 L362.3 815.5 L364.3 815.4 L366.3 815.2 L368.3 815.1 L370.3 815 L372.3 814.9 L374.3 814.8 L376.3 814.7 L378.3 814.6 L380.3 814.5 L382.4 814.4 L384.4 814.3 L386.4 814.3 L388.4 814.2 L390.4 814.2 L392.4 814.3 L394.4 814.4 L396.4 814.7 L398.4 815 L400.4 815.3 L402.4 815.7 L404.4 816.3 L406.4 816.9 L408.4 817.6 L408.4 840.7 L406.4 839.7 L404.4 838.7 L402.4 837.8 L400.4 837.1 L398.4 836.4 L396.4 835.9 L394.4 835.4 L392.4 835 L390.4 834.7 L388.4 834.5 L386.4 834.4 L384.4 834.3 L382.4 834.3 L380.3 834.2 L378.3 834.2 L376.3 834.2 L374.3 834.2 L372.3 834.3 L370.3 834.3 L368.3 834.4 L366.3 834.4 L364.3 834.5 L362.3 834.7 L360.3 834.9 L358.3 835.2 L356.3 835.5 L354.3 836.1 L352.3 836.9 L350.3 838 L348.3 839.1 L346.3 840.3 L344.3 841.7 L342.3 843.3 L340.3 845 L338.3 846.8 L336.3 848.8 L334.3 850.8 L332.3 852.8 L330.3 854.9 L328.3 857.1 L326.3 859.3 L324.3 861.3 L322.3 862.7 L320.3 863.8 L318.3 864.5 L316.3 864.5 L314.3 863.9 L312.3 862.9 L310.3 861.3 L308.3 859 L306.3 855.8 L304.3 852.2 L302.3 848.1 L300.3 843.6 L298.3 838.8 L296.3 834.4 L294.2 830.3 L292.2 826.6 L290.2 823.2 L288.2 820.4 L286.2 818.2 L284.2 816.5 L282.2 815.1 L280.2 813.9 L278.2 813.1 L276.2 812.5 L274.2 812 L272.2 811.5 L270.2 811.3 L268.2 811.2 L266.2 811.2 L264.2 811.2 L262.2 811.2 L260.2 811.3 L258.2 811.4 L256.2 811.5 L254.2 811.7 L252.2 811.9 L250.2 812.1 L248.2 812.3 L246.2 812.6 L244.2 812.9 L242.2 813.1 L240.2 813.4 L238.2 813.7 L236.2 813.9 L234.2 814.1 L232.2 814.3 L230.2 814.6 L228.2 814.9 L226.2 815.2 L224.2 815.5 L222.2 815.8 L220.2 816.1 L218.2 816.4 L216.2 816.8 L214.2 817.2 L212.2 817.5 L210.2 817.9 L208.2 818.3 L206.1 818.7 L204.1 819.1 L202.1 819.5 L200.1 819.9 L198.1 820.4 L196.1 821 L194.1 821.7 L192.1 822.4 L190.1 823.2 L188.1 824 L186.1 825 L184.1 826 L182.1 827.2 L180.1 828.5 L178.1 829.9 L176.1 831.4 L174.1 832.9 L172.1 834.6 L170.1 836.3 L168.1 837.9 L166.1 839.4 L164.1 840.6 L162.1 841.5 L160.1 842 L158.1 842.2 L156.1 842.2 L154.1 842 L152.1 841.8 L150.1 841.3Z" fill="#0072bd" fill-opacity="0.2"/>
<path d="M150.1 831.8 L152.1 832.3 L154.1 832.6 L156.1 832.8 L158.1 832.9 L160.1 832.7 L162.1 832.2 L164.1 831.4 L166.1 830.2 L168.1 828.8 L170.1 827.2 L172.1 825.6 L174.1 823.9 L176.1 822.4 L178.1 821 L180.1 819.6 L182.1 818.3 L184.1 817.1 L186.1 816.1 L188.1 815.2 L190.1 814.4 L192.1 813.6 L194.1 812.9 L196.1 812.2 L198.1 811.6 L200.1 811.1 L202.1 810.7 L204.1 810.3 L206.1 809.9 L208.2 809.5 L210.2 809.1 L212.2 808.8 L214.2 808.4 L216.2 808 L218.2 807.7 L220.2 807.3 L222.2 807 L224.2 806.7 L226.2 806.4 L228.2 806 L230.2 805.7 L232.2 805.5 L234.2 805.2 L236.2 804.9 L238.2 804.6 L240.2 804.3 L242.2 804 L244.2 803.7 L246.2 803.4 L248.2 803 L250.2 802.7 L252.2 802.5 L254.2 802.2 L256.2 802 L258.2 801.8 L260.2 801.6 L262.2 801.4 L264.2 801.3 L266.2 801.3 L268.2 801.3 L270.2 801.3 L272.2 801.5 L274.2 801.8 L276.2 802.2 L278.2 802.7 L280.2 803.5 L282.2 804.6 L284.2 805.9 L286.2 807.5 L288.2 809.6 L290.2 812.3 L292.2 815.5 L294.2 819.2 L296.3 823.1 L298.3 827.5 L300.3 832.1 L302.3 836.6 L304.3 840.6 L306.3 844.1 L308.3 847.2 L310.3 849.5 L312.3 851 L314.3 852 L316.3 852.6 L318.3 852.5 L320.3 851.8 L322.3 850.8 L324.3 849.4 L326.3 847.5 L328.3 845.5 L330.3 843.4 L332.3 841.4 L334.3 839.6 L336.3 837.8 L338.3 836 L340.3 834.3 L342.3 832.8 L344.3 831.4 L346.3 830.2 L348.3 829.1 L350.3 828.1 L352.3 827.2 L354.3 826.4 L356.3 825.9 L358.3 825.6 L360.3 825.3 L362.3 825.1 L364.3 824.9 L366.3 824.8 L368.3 824.7 L370.3 824.7 L372.3 824.6 L374.3 824.5 L376.3 824.5 L378.3 824.4 L380.3 824.4 L382.4 824.3 L384.4 824.3 L386.4 824.4 L388.4 824.4 L390.4 824.5 L392.4 824.6 L394.4 824.9 L396.4 825.3 L398.4 825.7 L400.4 826.2 L402.4 826.8 L404.4 827.5 L406.4 828.3 L408.4 829.2" fill="none" stroke="#0072bd" stroke-width="6.2" stroke-linejoin="round" stroke-linecap="butt"/>
</g>
<path d="M150.2 829.8H408.3" stroke="#333" stroke-width="3" stroke-dasharray="3 3.13" fill="none"/>
<path d="M150 780.8V947.8H408" stroke="#6a6a6a" stroke-width="1.3" fill="none"/>
<path d="M150 790.5h2.6M150 829.8h2.6M150 869h2.6M150 908.2h2.6M150 947.4h2.6M150 947.5v-2.6M279 947.5v-2.6M408 947.5v-2.6" stroke="#6a6a6a" stroke-width="1" fill="none"/>
<rect x="198.8" y="937.7" width="17" height="10.1" fill="#0072bd"/>
<path d="M201.7 937.7v10.1M205.4 937.7v10.1M209.1 937.7v10.1M212.9 937.7v10.1" stroke="#000" stroke-width="2.2" fill="none"/>
<rect x="282.1" y="937.7" width="25.8" height="10.1" fill="#0072bd"/>
<path d="M285 937.7v10.1M290 937.7v10.1M295 937.7v10.1M300 937.7v10.1M305 937.7v10.1" stroke="#000" stroke-width="2.2" fill="none"/>
<rect x="355.4" y="937.7" width="33.5" height="10.1" fill="#0072bd"/>
<path d="M358.3 937.7v10.1M362.9 937.7v10.1M367.5 937.7v10.1M372.1 937.7v10.1M376.8 937.7v10.1M381.4 937.7v10.1M386 937.7v10.1" stroke="#000" stroke-width="2.2" fill="none"/>
<text transform="translate(142.6 798.3) scale(1 1.02)" font-size="19.05" text-anchor="end" fill="#1a1a1a" stroke="#1a1a1a" stroke-width="0.2">20</text>
<text transform="translate(142.6 837.6) scale(1 1.02)" font-size="19.05" text-anchor="end" fill="#1a1a1a" stroke="#1a1a1a" stroke-width="0.2">0</text>
<text transform="translate(142.6 876.8) scale(1 1.02)" font-size="19.05" text-anchor="end" fill="#1a1a1a" stroke="#1a1a1a" stroke-width="0.2">-20</text>
<text transform="translate(142.6 916) scale(1 1.02)" font-size="19.05" text-anchor="end" fill="#1a1a1a" stroke="#1a1a1a" stroke-width="0.2">-40</text>
<text transform="translate(142.6 955.2) scale(1 1.02)" font-size="19.05" text-anchor="end" fill="#1a1a1a" stroke="#1a1a1a" stroke-width="0.2">-60</text>
<text transform="translate(149.8 974.6) scale(1 1.02)" font-size="19.05" text-anchor="middle" fill="#1a1a1a" stroke="#1a1a1a" stroke-width="0.2">0</text>
<text transform="translate(278.8 974.6) scale(1 1.02)" font-size="19.05" text-anchor="middle" fill="#1a1a1a" stroke="#1a1a1a" stroke-width="0.2">50</text>
<text transform="translate(407.8 974.6) scale(1 1.02)" font-size="19.05" text-anchor="middle" fill="#1a1a1a" stroke="#1a1a1a" stroke-width="0.2">100</text>
<text transform="translate(279 1001.8) scale(1 1.04)" font-size="21" text-anchor="middle" fill="#1a1a1a" stroke="#1a1a1a" stroke-width="0.2">[%] Gait cycle</text>
<text transform="translate(77.27 864.15) rotate(-90) scale(1 0.96)" font-size="21.3" text-anchor="middle" fill="#1a1a1a" stroke="#1a1a1a" stroke-width="0.2">Ankle</text>
<text transform="translate(104.27 864.15) rotate(-90) scale(1 0.96)" font-size="21.2" text-anchor="middle" fill="#1a1a1a" stroke="#1a1a1a" stroke-width="0.2">PF [Degrees] DF</text>
</g>
<g>
<clipPath id="c31"><rect x="517.9" y="778.8" width="268" height="168.7"/></clipPath>
<g clip-path="url(#c31)">
<path d="M522.7 910.5 L524.7 910.6 L526.7 910.5 L528.7 910.4 L530.7 910.1 L532.7 909.7 L534.7 908.8 L536.7 906.8 L538.7 903.5 L540.7 899.8 L542.7 895.8 L544.7 891.6 L546.8 887.3 L548.8 883.3 L550.8 879.6 L552.8 876.1 L554.8 872.7 L556.8 869.5 L558.8 866.5 L560.8 863.8 L562.8 861.4 L564.8 859.1 L566.8 857.2 L568.8 855.4 L570.8 853.9 L572.8 852.5 L574.8 851.3 L576.8 850.3 L578.8 849.4 L580.8 848.7 L582.8 848 L584.9 847.5 L586.9 847 L588.9 846.5 L590.9 845.9 L592.9 845.2 L594.9 844.3 L596.9 843.4 L598.9 842.3 L600.9 841 L602.9 839.6 L604.9 837.9 L606.9 836.1 L608.9 834.1 L610.9 832 L612.9 829.6 L614.9 826.9 L616.9 824.1 L618.9 821.1 L620.9 818.1 L623 815 L625 811.8 L627 808.6 L629 805.7 L631 802.9 L633 800.5 L635 798.2 L637 796.1 L639 794.3 L641 792.8 L643 791.6 L645 790.8 L647 791.1 L649 792.4 L651 795.2 L653 799.6 L655 804.8 L657 810.5 L659.1 816.8 L661.1 824.1 L663.1 833.2 L665.1 844.4 L667.1 855.7 L669.1 866.5 L671.1 877.1 L673.1 888 L675.1 899.1 L677.1 906.6 L679.1 911.1 L681.1 913.4 L683.1 913.7 L685.1 913.5 L687.1 913 L689.1 912.5 L691.1 912 L693.1 911.8 L695.1 911.6 L697.2 911.4 L699.2 911.2 L701.2 911.1 L703.2 911 L705.2 911 L707.2 910.9 L709.2 910.9 L711.2 910.9 L713.2 910.9 L715.2 910.9 L717.2 911 L719.2 911 L721.2 911.1 L723.2 911.2 L725.2 911.2 L727.2 911.3 L729.2 911.3 L731.2 911.3 L733.3 911.3 L735.3 911.3 L737.3 911.2 L739.3 911.2 L741.3 911.2 L743.3 911.1 L745.3 911.1 L747.3 911 L749.3 911 L751.3 910.9 L753.3 910.8 L755.3 910.8 L757.3 910.7 L759.3 910.5 L761.3 910.4 L763.3 910.3 L765.3 910.2 L767.3 910.1 L769.3 910 L771.4 909.9 L773.4 909.9 L775.4 909.9 L777.4 910.1 L779.4 910.3 L781.4 910.5 L781.4 913.7 L779.4 913.5 L777.4 913.3 L775.4 913.1 L773.4 913.1 L771.4 913.1 L769.3 913.2 L767.3 913.3 L765.3 913.4 L763.3 913.5 L761.3 913.6 L759.3 913.7 L757.3 913.8 L755.3 913.9 L753.3 914 L751.3 914.1 L749.3 914.1 L747.3 914.2 L745.3 914.3 L743.3 914.3 L741.3 914.3 L739.3 914.4 L737.3 914.4 L735.3 914.4 L733.3 914.5 L731.2 914.5 L729.2 914.5 L727.2 914.4 L725.2 914.4 L723.2 914.4 L721.2 914.3 L719.2 914.2 L717.2 914.2 L715.2 914.1 L713.2 914.1 L711.2 914.1 L709.2 914.1 L707.2 914.1 L705.2 914.1 L703.2 914.2 L701.2 914.3 L699.2 914.4 L697.2 914.6 L695.1 914.7 L693.1 915 L691.1 915.2 L689.1 915.7 L687.1 916.2 L685.1 916.7 L683.1 917 L681.1 917.5 L679.1 916.7 L677.1 914.1 L675.1 908.5 L673.1 899.2 L671.1 889.9 L669.1 881 L667.1 872.1 L665.1 862.8 L663.1 853.7 L661.1 846.7 L659.1 841.5 L657 837.2 L655 833.3 L653 829.8 L651 826.8 L649 825.1 L647 824.5 L645 824.7 L643 825.4 L641 826.5 L639 827.7 L637 829.1 L635 830.7 L633 832.4 L631 834.2 L629 836.3 L627 838.5 L625 840.9 L623 843.4 L620.9 845.8 L618.9 848.1 L616.9 850.3 L614.9 852.5 L612.9 854.6 L610.9 856.6 L608.9 858.4 L606.9 860.1 L604.9 861.8 L602.9 863.6 L600.9 865.4 L598.9 867.3 L596.9 869.3 L594.9 871.2 L592.9 873.2 L590.9 875.2 L588.9 877.1 L586.9 879 L584.9 880.7 L582.8 882.5 L580.8 884.2 L578.8 885.9 L576.8 887.5 L574.8 889 L572.8 890.4 L570.8 891.6 L568.8 892.7 L566.8 893.7 L564.8 894.6 L562.8 895.7 L560.8 896.9 L558.8 898.3 L556.8 900 L554.8 901.9 L552.8 904.1 L550.8 906.5 L548.8 909.2 L546.8 912.3 L544.7 915.6 L542.7 918.8 L540.7 921.7 L538.7 924.3 L536.7 926.3 L534.7 927 L532.7 926.5 L530.7 925.2 L528.7 923.5 L526.7 921.4 L524.7 919.1 L522.7 916.5Z" fill="#3b3b3b" fill-opacity="0.2"/>
<path d="M522.7 913.5 L524.7 914.8 L526.7 916 L528.7 917 L530.7 917.7 L532.7 918.1 L534.7 917.9 L536.7 916.6 L538.7 913.9 L540.7 910.7 L542.7 907.3 L544.7 903.6 L546.8 899.8 L548.8 896.3 L550.8 893 L552.8 890.1 L554.8 887.3 L556.8 884.7 L558.8 882.4 L560.8 880.4 L562.8 878.6 L564.8 876.9 L566.8 875.4 L568.8 874.1 L570.8 872.7 L572.8 871.4 L574.8 870.2 L576.8 868.9 L578.8 867.7 L580.8 866.4 L582.8 865.3 L584.9 864.1 L586.9 863 L588.9 861.8 L590.9 860.5 L592.9 859.2 L594.9 857.8 L596.9 856.3 L598.9 854.8 L600.9 853.2 L602.9 851.6 L604.9 849.9 L606.9 848.1 L608.9 846.3 L610.9 844.3 L612.9 842.1 L614.9 839.7 L616.9 837.2 L618.9 834.6 L620.9 832 L623 829.2 L625 826.4 L627 823.6 L629 821 L631 818.6 L633 816.4 L635 814.4 L637 812.6 L639 811 L641 809.6 L643 808.5 L645 807.7 L647 807.8 L649 808.7 L651 811 L653 814.7 L655 819 L657 823.8 L659.1 829.2 L661.1 835.4 L663.1 843.4 L665.1 853.6 L667.1 863.9 L669.1 873.8 L671.1 883.5 L673.1 893.6 L675.1 903.8 L677.1 910.4 L679.1 913.9 L681.1 915.5 L683.1 915.3 L685.1 915.1 L687.1 914.6 L689.1 914.1 L691.1 913.6 L693.1 913.4 L695.1 913.1 L697.2 913 L699.2 912.8 L701.2 912.7 L703.2 912.6 L705.2 912.5 L707.2 912.5 L709.2 912.5 L711.2 912.5 L713.2 912.5 L715.2 912.5 L717.2 912.6 L719.2 912.6 L721.2 912.7 L723.2 912.8 L725.2 912.8 L727.2 912.9 L729.2 912.9 L731.2 912.9 L733.3 912.9 L735.3 912.8 L737.3 912.8 L739.3 912.8 L741.3 912.7 L743.3 912.7 L745.3 912.7 L747.3 912.6 L749.3 912.6 L751.3 912.5 L753.3 912.4 L755.3 912.4 L757.3 912.3 L759.3 912.1 L761.3 912 L763.3 911.9 L765.3 911.8 L767.3 911.7 L769.3 911.6 L771.4 911.5 L773.4 911.5 L775.4 911.5 L777.4 911.7 L779.4 911.9 L781.4 912.1" fill="none" stroke="#3b3b3b" stroke-width="6.2" stroke-linejoin="round" stroke-linecap="butt"/>
<path d="M522.7 910.9 L524.7 909.8 L526.7 908.6 L528.7 907.4 L530.7 906.2 L532.7 904.7 L534.7 902.6 L536.7 900.1 L538.7 897.4 L540.7 894.9 L542.7 892.4 L544.7 890 L546.8 887.6 L548.8 885.2 L550.8 883.2 L552.8 881.6 L554.8 880.2 L556.8 878.7 L558.8 877.4 L560.8 876.3 L562.8 875.3 L564.8 874.5 L566.8 873.7 L568.8 873.1 L570.8 872.6 L572.8 872.2 L574.8 871.8 L576.8 871.4 L578.8 871 L580.8 870.7 L582.8 870.3 L584.9 869.8 L586.9 869.4 L588.9 868.9 L590.9 868.3 L592.9 867.6 L594.9 866.9 L596.9 866.1 L598.9 865.3 L600.9 864.4 L602.9 863.4 L604.9 862.2 L606.9 860.9 L608.9 859.5 L610.9 857.9 L612.9 856.2 L614.9 854.4 L616.9 852.6 L618.9 850.8 L620.9 849 L623 847.2 L625 845.4 L627 843.5 L629 841.7 L631 840.1 L633 838.7 L635 837.4 L637 836.1 L639 834.9 L641 833.9 L643 832.9 L645 832.1 L647 831.8 L649 832 L651 832.8 L653 834 L655 835.4 L657 837.1 L659.1 839.3 L661.1 842.2 L663.1 846.3 L665.1 851.4 L667.1 857.3 L669.1 864 L671.1 871.6 L673.1 879.1 L675.1 885.9 L677.1 892.7 L679.1 899.7 L681.1 906.6 L683.1 911.3 L685.1 913.1 L687.1 914.1 L689.1 914.3 L691.1 913.9 L693.1 913.4 L695.1 913 L697.2 912.6 L699.2 912.3 L701.2 911.9 L703.2 911.6 L705.2 911.3 L707.2 911.1 L709.2 910.8 L711.2 910.5 L713.2 910.5 L715.2 910.4 L717.2 910.5 L719.2 910.5 L721.2 910.5 L723.2 910.6 L725.2 910.7 L727.2 910.7 L729.2 910.8 L731.2 910.9 L733.3 910.9 L735.3 911 L737.3 911.1 L739.3 911.2 L741.3 911.3 L743.3 911.3 L745.3 911.2 L747.3 911 L749.3 910.8 L751.3 910.6 L753.3 910.3 L755.3 910.1 L757.3 909.8 L759.3 909.5 L761.3 909.3 L763.3 909.2 L765.3 909.2 L767.3 909.2 L769.3 909.2 L771.4 909.3 L773.4 909.4 L775.4 909.5 L777.4 909.6 L779.4 909.7 L781.4 909.9 L781.4 913.1 L779.4 912.9 L777.4 912.8 L775.4 912.6 L773.4 912.6 L771.4 912.5 L769.3 912.4 L767.3 912.3 L765.3 912.3 L763.3 912.4 L761.3 912.5 L759.3 912.7 L757.3 913 L755.3 913.3 L753.3 913.5 L751.3 913.7 L749.3 914 L747.3 914.2 L745.3 914.3 L743.3 914.5 L741.3 914.5 L739.3 914.4 L737.3 914.3 L735.3 914.2 L733.3 914.1 L731.2 914.1 L729.2 914 L727.2 913.9 L725.2 913.8 L723.2 913.8 L721.2 913.7 L719.2 913.7 L717.2 913.6 L715.2 913.6 L713.2 913.7 L711.2 913.7 L709.2 914 L707.2 914.3 L705.2 914.5 L703.2 914.8 L701.2 915.1 L699.2 915.4 L697.2 915.8 L695.1 916.2 L693.1 916.6 L691.1 917.1 L689.1 917.5 L687.1 917.2 L685.1 916.3 L683.1 914.6 L681.1 910.7 L679.1 905.4 L677.1 900.2 L675.1 895.4 L673.1 890.4 L671.1 884.4 L669.1 878.3 L667.1 873.2 L665.1 869 L663.1 865.6 L661.1 863.2 L659.1 861.9 L657 861.2 L655 860.7 L653 860.4 L651 860 L649 859.7 L647 859.7 L645 860 L643 860.7 L641 861.6 L639 862.6 L637 863.6 L635 864.8 L633 865.9 L631 867.1 L629 868.5 L627 870.2 L625 871.9 L623 873.5 L620.9 875.2 L618.9 876.9 L616.9 878.6 L614.9 880.4 L612.9 882.1 L610.9 883.8 L608.9 885.4 L606.9 886.9 L604.9 888.3 L602.9 889.6 L600.9 890.7 L598.9 891.8 L596.9 892.7 L594.9 893.6 L592.9 894.5 L590.9 895.3 L588.9 896.1 L586.9 896.7 L584.9 897.3 L582.8 897.8 L580.8 898.3 L578.8 898.8 L576.8 899.2 L574.8 899.6 L572.8 900.1 L570.8 900.5 L568.8 900.9 L566.8 901.3 L564.8 901.7 L562.8 902.1 L560.8 902.6 L558.8 903.2 L556.8 904 L554.8 904.7 L552.8 905.5 L550.8 906.3 L548.8 907.6 L546.8 909.2 L544.7 910.8 L542.7 912.4 L540.7 913.9 L538.7 915.4 L536.7 916.7 L534.7 917.8 L532.7 918.2 L530.7 918 L528.7 917.3 L526.7 916.6 L524.7 915.8 L522.7 914.9Z" fill="#0072bd" fill-opacity="0.2"/>
<path d="M522.7 912.9 L524.7 912.8 L526.7 912.6 L528.7 912.4 L530.7 912.1 L532.7 911.5 L534.7 910.2 L536.7 908.4 L538.7 906.4 L540.7 904.4 L542.7 902.4 L544.7 900.4 L546.8 898.4 L548.8 896.4 L550.8 894.7 L552.8 893.5 L554.8 892.4 L556.8 891.3 L558.8 890.3 L560.8 889.5 L562.8 888.7 L564.8 888.1 L566.8 887.5 L568.8 887 L570.8 886.5 L572.8 886.1 L574.8 885.7 L576.8 885.3 L578.8 884.9 L580.8 884.5 L582.8 884.1 L584.9 883.6 L586.9 883 L588.9 882.5 L590.9 881.8 L592.9 881.1 L594.9 880.2 L596.9 879.4 L598.9 878.5 L600.9 877.6 L602.9 876.5 L604.9 875.3 L606.9 873.9 L608.9 872.5 L610.9 870.9 L612.9 869.1 L614.9 867.4 L616.9 865.6 L618.9 863.9 L620.9 862.1 L623 860.4 L625 858.6 L627 856.9 L629 855.1 L631 853.6 L633 852.3 L635 851.1 L637 849.9 L639 848.8 L641 847.7 L643 846.8 L645 846.1 L647 845.7 L649 845.9 L651 846.4 L653 847.2 L655 848.1 L657 849.2 L659.1 850.6 L661.1 852.7 L663.1 856 L665.1 860.2 L667.1 865.2 L669.1 871.1 L671.1 878 L673.1 884.8 L675.1 890.6 L677.1 896.4 L679.1 902.5 L681.1 908.7 L683.1 913 L685.1 914.7 L687.1 915.7 L689.1 915.9 L691.1 915.5 L693.1 915 L695.1 914.6 L697.2 914.2 L699.2 913.9 L701.2 913.5 L703.2 913.2 L705.2 912.9 L707.2 912.7 L709.2 912.4 L711.2 912.1 L713.2 912.1 L715.2 912 L717.2 912 L719.2 912.1 L721.2 912.1 L723.2 912.2 L725.2 912.2 L727.2 912.3 L729.2 912.4 L731.2 912.5 L733.3 912.5 L735.3 912.6 L737.3 912.7 L739.3 912.8 L741.3 912.9 L743.3 912.9 L745.3 912.7 L747.3 912.6 L749.3 912.4 L751.3 912.1 L753.3 911.9 L755.3 911.7 L757.3 911.4 L759.3 911.1 L761.3 910.9 L763.3 910.8 L765.3 910.7 L767.3 910.8 L769.3 910.8 L771.4 910.9 L773.4 911 L775.4 911.1 L777.4 911.2 L779.4 911.3 L781.4 911.5" fill="none" stroke="#0072bd" stroke-width="6.2" stroke-linejoin="round" stroke-linecap="butt"/>
</g>
<path d="M523.1 911.9H781.2" stroke="#333" stroke-width="3" stroke-dasharray="3 3.13" fill="none"/>
<path d="M522.9 780.8V947.8H780.9" stroke="#6a6a6a" stroke-width="1.3" fill="none"/>
<path d="M522.9 802.1h2.6M522.9 838.6h2.6M522.9 875h2.6M522.9 911.5h2.6M522.9 947.6h2.6M522.9 947.5v-2.6M651.9 947.5v-2.6M780.9 947.5v-2.6" stroke="#6a6a6a" stroke-width="1" fill="none"/>
<rect x="563.7" y="937.7" width="100.4" height="10.1" fill="#0072bd"/>
<path d="M566.6 937.7v10.1M571.3 937.7v10.1M576 937.7v10.1M580.7 937.7v10.1M585.5 937.7v10.1M590.2 937.7v10.1M594.9 937.7v10.1M599.7 937.7v10.1M604.4 937.7v10.1M609.1 937.7v10.1M613.8 937.7v10.1M618.6 937.7v10.1M623.3 937.7v10.1M628 937.7v10.1M632.8 937.7v10.1M637.5 937.7v10.1M642.2 937.7v10.1M646.9 937.7v10.1M651.7 937.7v10.1M656.4 937.7v10.1M661.1 937.7v10.1" stroke="#000" stroke-width="2.2" fill="none"/>
<rect x="671" y="937.7" width="13.4" height="10.1" fill="#0072bd"/>
<path d="M673.9 937.7v10.1M677.7 937.7v10.1M681.5 937.7v10.1" stroke="#000" stroke-width="2.2" fill="none"/>
<text transform="translate(515.5 809.9) scale(1 1.02)" font-size="19.05" text-anchor="end" fill="#1a1a1a" stroke="#1a1a1a" stroke-width="0.2">1.5</text>
<text transform="translate(515.5 846.4) scale(1 1.02)" font-size="19.05" text-anchor="end" fill="#1a1a1a" stroke="#1a1a1a" stroke-width="0.2">1</text>
<text transform="translate(515.5 882.8) scale(1 1.02)" font-size="19.05" text-anchor="end" fill="#1a1a1a" stroke="#1a1a1a" stroke-width="0.2">0.5</text>
<text transform="translate(515.5 919.3) scale(1 1.02)" font-size="19.05" text-anchor="end" fill="#1a1a1a" stroke="#1a1a1a" stroke-width="0.2">0</text>
<text transform="translate(515.5 955.4) scale(1 1.02)" font-size="19.05" text-anchor="end" fill="#1a1a1a" stroke="#1a1a1a" stroke-width="0.2">-0.5</text>
<text transform="translate(522.7 974.6) scale(1 1.02)" font-size="19.05" text-anchor="middle" fill="#1a1a1a" stroke="#1a1a1a" stroke-width="0.2">0</text>
<text transform="translate(651.7 974.6) scale(1 1.02)" font-size="19.05" text-anchor="middle" fill="#1a1a1a" stroke="#1a1a1a" stroke-width="0.2">50</text>
<text transform="translate(780.7 974.6) scale(1 1.02)" font-size="19.05" text-anchor="middle" fill="#1a1a1a" stroke="#1a1a1a" stroke-width="0.2">100</text>
<text transform="translate(651.9 1001.8) scale(1 1.04)" font-size="21" text-anchor="middle" fill="#1a1a1a" stroke="#1a1a1a" stroke-width="0.2">[%] Gait cycle</text>
<text transform="translate(444.88 864.15) rotate(-90) scale(1 0.96)" font-size="21.3" text-anchor="middle" fill="#1a1a1a" stroke="#1a1a1a" stroke-width="0.2">Ankle</text>
<text transform="translate(471.88 864.15) rotate(-90) scale(1 0.96)" font-size="21.2" text-anchor="middle" fill="#1a1a1a" stroke="#1a1a1a" stroke-width="0.2">DF [Nm/kg] PF</text>
</g>
<g>
<clipPath id="c32"><rect x="891.7" y="778.8" width="268" height="168.7"/></clipPath>
<g clip-path="url(#c32)">
<path d="M896.7 875.2 L898.7 874.6 L900.7 874 L902.7 873.6 L904.7 873.2 L906.7 872.9 L908.7 872.7 L910.7 872.6 L912.7 872.7 L914.7 873.1 L916.7 873.8 L918.7 874.8 L920.8 876 L922.8 876.9 L924.8 877.7 L926.8 878.5 L928.8 879.1 L930.8 879.6 L932.8 879.9 L934.8 879.9 L936.8 879.5 L938.8 878.9 L940.8 878.3 L942.8 877.7 L944.8 877.2 L946.8 876.7 L948.8 876.3 L950.8 875.9 L952.8 875.6 L954.8 875.5 L956.8 875.5 L958.9 875.6 L960.9 875.6 L962.9 875.6 L964.9 875.5 L966.9 875.4 L968.9 875.4 L970.9 875.6 L972.9 875.9 L974.9 876.5 L976.9 877.4 L978.9 878.3 L980.9 879.1 L982.9 879.7 L984.9 880.1 L986.9 880.5 L988.9 880.8 L990.9 881.1 L992.9 881.3 L994.9 881.5 L997 881.4 L999.3 880.9 L1000.8 878.9 L1002.3 876.8 L1003.8 874.7 L1005.3 872.5 L1006.8 869.8 L1008.2 866.4 L1009.7 862.6 L1011.2 858.9 L1012.7 854.9 L1014.2 850.5 L1015.7 845.6 L1017.2 840.5 L1018.7 835.2 L1020.1 829.6 L1021.6 824 L1023.1 817.8 L1024.6 809.4 L1026.1 801.5 L1027.6 796.3 L1029.1 794.2 L1030.6 794.8 L1032 796.7 L1033.5 798.6 L1035 800.8 L1036.5 802.9 L1038 805.4 L1039.5 808.2 L1041 811.3 L1042.5 815 L1043.9 820.5 L1045.4 827.3 L1046.9 834.8 L1048.4 841.7 L1049.9 848.8 L1051.4 856.2 L1052.9 863.7 L1054.3 872.5 L1055.8 875.9 L1057.3 875.5 L1059.1 875.2 L1061.1 875.1 L1063.1 875 L1065.1 875 L1067.1 875.1 L1069.1 875.2 L1071.2 875.3 L1073.2 875.3 L1075.2 875.4 L1077.2 875.4 L1079.2 875.5 L1081.2 875.5 L1083.2 875.5 L1085.2 875.6 L1087.2 875.6 L1089.2 875.6 L1091.2 875.7 L1093.2 875.7 L1095.2 875.7 L1097.2 875.7 L1099.2 875.8 L1101.2 875.8 L1103.2 875.8 L1105.2 875.8 L1107.3 875.8 L1109.3 875.8 L1111.3 875.8 L1113.3 875.8 L1115.3 875.9 L1117.3 875.9 L1119.3 875.9 L1121.3 875.9 L1123.3 875.9 L1125.3 875.9 L1127.3 875.9 L1129.3 875.9 L1131.3 875.9 L1133.3 875.9 L1135.3 875.9 L1137.3 875.9 L1139.3 875.9 L1141.3 875.9 L1143.3 875.9 L1145.4 875.9 L1147.4 875.9 L1149.4 875.8 L1151.4 875.8 L1153.4 875.8 L1155.4 875.8 L1155.4 878.2 L1153.4 878.2 L1151.4 878.2 L1149.4 878.2 L1147.4 878.2 L1145.4 878.3 L1143.3 878.3 L1141.3 878.3 L1139.3 878.3 L1137.3 878.3 L1135.3 878.3 L1133.3 878.3 L1131.3 878.3 L1129.3 878.3 L1127.3 878.3 L1125.3 878.3 L1123.3 878.3 L1121.3 878.3 L1119.3 878.3 L1117.3 878.3 L1115.3 878.2 L1113.3 878.2 L1111.3 878.2 L1109.3 878.2 L1107.3 878.2 L1105.2 878.2 L1103.2 878.2 L1101.2 878.2 L1099.2 878.2 L1097.2 878.1 L1095.2 878.1 L1093.2 878.1 L1091.2 878 L1089.2 878 L1087.2 878 L1085.2 878 L1083.2 877.9 L1081.2 877.9 L1079.2 877.9 L1077.2 877.8 L1075.2 877.8 L1073.2 877.7 L1071.2 877.7 L1069.1 877.6 L1067.1 877.5 L1065.1 877.4 L1063.1 877.4 L1061.1 877.5 L1059.1 877.6 L1058.5 877.7 L1057.1 879 L1055.7 880.3 L1054.3 881.3 L1053 882.2 L1051.6 881.8 L1050.2 878.7 L1048.8 873.1 L1047.4 868.3 L1046 863.7 L1044.6 859.1 L1043.2 854.2 L1041.8 848.6 L1040.4 842 L1039.1 834.3 L1037.7 828.2 L1036.3 826.1 L1034.9 826.6 L1033.5 828.2 L1032.1 830.6 L1030.7 833.7 L1029.3 838.3 L1027.9 843.3 L1026.5 847.8 L1025.2 852.3 L1023.8 856.7 L1022.4 861.2 L1021 865.9 L1019.6 870.9 L1018.2 875.3 L1016.8 878.7 L1015.4 881 L1014 882.3 L1012.6 883.1 L1011.3 883.7 L1009.9 884.5 L1008.5 885.8 L1007.1 887.6 L1005.7 889.6 L1004.3 891.9 L1003 892.5 L1001 892.7 L999 892.6 L997 892.3 L994.9 891.9 L992.9 891.2 L990.9 890.5 L988.9 889.8 L986.9 889 L984.9 888.2 L982.9 887.4 L980.9 886.5 L978.9 885.4 L976.9 884.2 L974.9 883.1 L972.9 882.3 L970.9 881.9 L968.9 881.6 L966.9 881.5 L964.9 881.5 L962.9 881.6 L960.9 881.7 L958.9 881.9 L956.8 882.2 L954.8 882.7 L952.8 883.4 L950.8 884.3 L948.8 885.4 L946.8 886.6 L944.8 887.8 L942.8 889 L940.8 890.3 L938.8 891.5 L936.8 892.7 L934.8 893.5 L932.8 893.8 L930.8 893.6 L928.8 893.1 L926.8 892.3 L924.8 891.4 L922.8 890.4 L920.8 889.1 L918.7 887.7 L916.7 886.2 L914.7 885 L912.7 884.1 L910.7 883.4 L908.7 882.8 L906.7 882.3 L904.7 881.8 L902.7 881.3 L900.7 880.8 L898.7 880.4 L896.7 880Z" fill="#3b3b3b" fill-opacity="0.2"/>
<path d="M896.7 877.6 L898.7 877.5 L900.7 877.4 L902.7 877.4 L904.7 877.5 L906.7 877.6 L908.7 877.8 L910.7 878 L912.7 878.4 L914.7 879 L916.7 880 L918.7 881.3 L920.8 882.6 L922.8 883.7 L924.8 884.6 L926.8 885.4 L928.8 886.1 L930.8 886.6 L932.8 886.9 L934.8 886.7 L936.8 886.1 L938.8 885.2 L940.8 884.3 L942.8 883.3 L944.8 882.5 L946.8 881.6 L948.8 880.8 L950.8 880.1 L952.8 879.5 L954.8 879.1 L956.8 878.9 L958.9 878.7 L960.9 878.7 L962.9 878.6 L964.9 878.5 L966.9 878.5 L968.9 878.5 L970.9 878.7 L972.9 879.1 L974.9 879.8 L976.9 880.8 L978.9 881.8 L980.9 882.8 L982.9 883.6 L984.9 884.2 L986.9 884.8 L988.9 885.3 L990.9 885.8 L992.9 886.3 L994.9 886.7 L997 886.8 L999 886.8 L1001 886.6 L1003 885.7 L1005 883.8 L1007 881.2 L1009 877.9 L1011 874 L1013 869.7 L1015 865.1 L1017 860.2 L1019 854.6 L1021 848.5 L1023 842 L1025 835.4 L1027 828.7 L1029 822.1 L1031 817.7 L1033.1 816.5 L1035.1 816.3 L1037.1 817.3 L1039.1 824.7 L1041.1 833.8 L1043.1 843 L1045.1 851.4 L1047.1 859 L1049.1 867.5 L1051.1 875.3 L1053.1 877.1 L1055.1 877.1 L1057.1 876.7 L1059.1 876.4 L1061.1 876.3 L1063.1 876.2 L1065.1 876.2 L1067.1 876.3 L1069.1 876.4 L1071.2 876.5 L1073.2 876.5 L1075.2 876.6 L1077.2 876.6 L1079.2 876.7 L1081.2 876.7 L1083.2 876.7 L1085.2 876.8 L1087.2 876.8 L1089.2 876.8 L1091.2 876.9 L1093.2 876.9 L1095.2 876.9 L1097.2 876.9 L1099.2 877 L1101.2 877 L1103.2 877 L1105.2 877 L1107.3 877 L1109.3 877 L1111.3 877 L1113.3 877 L1115.3 877.1 L1117.3 877.1 L1119.3 877.1 L1121.3 877.1 L1123.3 877.1 L1125.3 877.1 L1127.3 877.1 L1129.3 877.1 L1131.3 877.1 L1133.3 877.1 L1135.3 877.1 L1137.3 877.1 L1139.3 877.1 L1141.3 877.1 L1143.3 877.1 L1145.4 877.1 L1147.4 877.1 L1149.4 877 L1151.4 877 L1153.4 877 L1155.4 877" fill="none" stroke="#3b3b3b" stroke-width="6.2" stroke-linejoin="round" stroke-linecap="butt"/>
<path d="M896.7 875.2 L898.7 874.9 L900.7 874.6 L902.7 874.4 L904.7 874.4 L906.7 874.5 L908.7 874.7 L910.7 875 L912.7 875.4 L914.7 875.8 L916.7 876.3 L918.7 876.8 L920.8 877.3 L922.8 877.8 L924.8 878.2 L926.8 878.6 L928.8 878.8 L930.8 879 L932.8 879.1 L934.8 879 L936.8 878.8 L938.8 878.5 L940.8 878.2 L942.8 877.9 L944.8 877.6 L946.8 877.5 L948.8 877.3 L950.8 877.2 L952.8 877.2 L954.8 877.3 L956.8 877.4 L958.9 877.5 L960.9 877.7 L962.9 877.8 L964.9 878 L966.9 878.1 L968.9 878.2 L970.9 878.2 L972.9 878.2 L974.9 878.2 L976.9 878.2 L978.9 878.2 L980.9 878.1 L982.9 878.1 L984.9 878 L986.9 877.9 L988.9 877.8 L990.9 877.6 L992.9 877.5 L994.9 877.3 L997 877.1 L999 876.8 L1001 876.5 L1003 876.2 L1004.3 876 L1005.8 876.8 L1007.4 877.2 L1008.9 877.2 L1010.4 876.6 L1011.9 875.4 L1013.4 873.4 L1015 870.6 L1016.5 867.6 L1018 864.1 L1019.5 859.4 L1021.1 854.5 L1022.6 849.6 L1024.1 844.7 L1025.6 840.6 L1027.2 837.5 L1028.7 834.5 L1030.2 831.6 L1031.7 828.8 L1033.2 826.2 L1034.8 823.8 L1036.3 821.5 L1037.8 819.2 L1039.3 817.4 L1040.9 816.3 L1042.4 816.9 L1043.9 820.2 L1045.4 824.5 L1046.9 829.2 L1048.5 834 L1050 839.2 L1051.5 844.6 L1053 850 L1054.6 855.5 L1056.1 861.6 L1057.6 867.9 L1059.1 872.7 L1060.7 876 L1062.2 877.3 L1063.7 877 L1065.1 876.4 L1067.1 875.5 L1069.1 875.2 L1071.2 875.7 L1073.2 875.8 L1075.2 875.8 L1077.2 875.8 L1079.2 875.8 L1081.2 875.8 L1083.2 875.8 L1085.2 875.8 L1087.2 875.8 L1089.2 875.8 L1091.2 875.9 L1093.2 875.9 L1095.2 875.9 L1097.2 875.9 L1099.2 876 L1101.2 876 L1103.2 876 L1105.2 876 L1107.3 876 L1109.3 876 L1111.3 876 L1113.3 876 L1115.3 876 L1117.3 876 L1119.3 876 L1121.3 876 L1123.3 876 L1125.3 876 L1127.3 876 L1129.3 876 L1131.3 876 L1133.3 876 L1135.3 876 L1137.3 876 L1139.3 876 L1141.3 875.9 L1143.3 875.9 L1145.4 875.9 L1147.4 875.9 L1149.4 875.9 L1151.4 875.9 L1153.4 875.8 L1155.4 875.8 L1155.4 878.2 L1153.4 878.2 L1151.4 878.2 L1149.4 878.3 L1147.4 878.3 L1145.4 878.3 L1143.3 878.3 L1141.3 878.3 L1139.3 878.3 L1137.3 878.4 L1135.3 878.4 L1133.3 878.4 L1131.3 878.4 L1129.3 878.4 L1127.3 878.4 L1125.3 878.4 L1123.3 878.4 L1121.3 878.4 L1119.3 878.4 L1117.3 878.4 L1115.3 878.4 L1113.3 878.4 L1111.3 878.4 L1109.3 878.4 L1107.3 878.4 L1105.2 878.4 L1103.2 878.4 L1101.2 878.4 L1099.2 878.4 L1097.2 878.3 L1095.2 878.3 L1093.2 878.3 L1091.2 878.3 L1089.2 878.2 L1087.2 878.2 L1085.2 878.2 L1083.2 878.2 L1081.2 878.2 L1079.2 878.2 L1077.2 878.2 L1075.2 878.2 L1073.2 878.2 L1071.2 878.1 L1069.1 877.6 L1067.3 877.9 L1065.7 879.1 L1064.1 880.1 L1062.4 880.9 L1060.8 881.6 L1059.2 882 L1057.6 882.2 L1056 882.2 L1054.4 881.5 L1052.8 879.4 L1051.1 875.6 L1049.5 870.7 L1047.9 865.4 L1046.3 860.1 L1044.7 854.8 L1043.1 850 L1041.5 847 L1039.8 847.5 L1038.2 849.2 L1036.6 851.5 L1035 854.5 L1033.4 857.7 L1031.8 861 L1030.1 865.4 L1028.5 871.1 L1026.9 875.7 L1025.3 879.5 L1023.7 882.3 L1022.1 884.3 L1020.5 885.6 L1018.8 886.6 L1017.2 887.3 L1015.6 887.6 L1014 887.5 L1012.4 887 L1010.8 886.5 L1009.2 886.3 L1007.5 886.7 L1005.9 887.7 L1004.3 889.2 L1003 889.1 L1001 888.8 L999 888.6 L997 888.3 L994.9 888 L992.9 887.6 L990.9 887.2 L988.9 886.8 L986.9 886.4 L984.9 886 L982.9 885.6 L980.9 885.2 L978.9 884.8 L976.9 884.5 L974.9 884.1 L972.9 883.8 L970.9 883.5 L968.9 883.3 L966.9 883 L964.9 882.8 L962.9 882.6 L960.9 882.5 L958.9 882.5 L956.8 882.6 L954.8 882.8 L952.8 883.1 L950.8 883.6 L948.8 884.1 L946.8 884.8 L944.8 885.4 L942.8 886.1 L940.8 886.9 L938.8 887.6 L936.8 888.3 L934.8 888.7 L932.8 889 L930.8 889 L928.8 888.8 L926.8 888.5 L924.8 888 L922.8 887.5 L920.8 886.8 L918.7 886.1 L916.7 885.4 L914.7 884.7 L912.7 884 L910.7 883.3 L908.7 882.6 L906.7 881.9 L904.7 881.4 L902.7 880.9 L900.7 880.5 L898.7 880.3 L896.7 880Z" fill="#0072bd" fill-opacity="0.2"/>
<path d="M896.7 877.6 L898.7 877.6 L900.7 877.6 L902.7 877.7 L904.7 877.9 L906.7 878.2 L908.7 878.7 L910.7 879.2 L912.7 879.7 L914.7 880.2 L916.7 880.8 L918.7 881.4 L920.8 882.1 L922.8 882.6 L924.8 883.1 L926.8 883.5 L928.8 883.8 L930.8 884 L932.8 884 L934.8 883.9 L936.8 883.5 L938.8 883.1 L940.8 882.5 L942.8 882 L944.8 881.5 L946.8 881.1 L948.8 880.7 L950.8 880.4 L952.8 880.2 L954.8 880 L956.8 880 L958.9 880 L960.9 880.1 L962.9 880.2 L964.9 880.4 L966.9 880.6 L968.9 880.7 L970.9 880.9 L972.9 881 L974.9 881.2 L976.9 881.4 L978.9 881.5 L980.9 881.7 L982.9 881.8 L984.9 882 L986.9 882.1 L988.9 882.3 L990.9 882.4 L992.9 882.6 L994.9 882.7 L997 882.7 L999 882.7 L1001 882.7 L1003 882.6 L1005 882.5 L1007 882.2 L1009 881.6 L1011 880.9 L1013 879.8 L1015 878.1 L1017 875.6 L1019 872.2 L1021 867.7 L1023 862.7 L1025 857.8 L1027 853.1 L1029 848.4 L1031 843.8 L1033.1 839.3 L1035.1 835.5 L1037.1 832.8 L1039.1 831.5 L1041.1 831 L1043.1 831.7 L1045.1 836.7 L1047.1 841.3 L1049.1 847 L1051.1 855.1 L1053.1 861.5 L1055.1 869.1 L1057.1 875.7 L1059.1 879.5 L1061.1 879.3 L1063.1 878.5 L1065.1 877.6 L1067.1 876.7 L1069.1 876.4 L1071.2 876.9 L1073.2 877 L1075.2 877 L1077.2 877 L1079.2 877 L1081.2 877 L1083.2 877 L1085.2 877 L1087.2 877 L1089.2 877 L1091.2 877.1 L1093.2 877.1 L1095.2 877.1 L1097.2 877.1 L1099.2 877.2 L1101.2 877.2 L1103.2 877.2 L1105.2 877.2 L1107.3 877.2 L1109.3 877.2 L1111.3 877.2 L1113.3 877.2 L1115.3 877.2 L1117.3 877.2 L1119.3 877.2 L1121.3 877.2 L1123.3 877.2 L1125.3 877.2 L1127.3 877.2 L1129.3 877.2 L1131.3 877.2 L1133.3 877.2 L1135.3 877.2 L1137.3 877.2 L1139.3 877.2 L1141.3 877.1 L1143.3 877.1 L1145.4 877.1 L1147.4 877.1 L1149.4 877.1 L1151.4 877.1 L1153.4 877 L1155.4 877" fill="none" stroke="#0072bd" stroke-width="6.2" stroke-linejoin="round" stroke-linecap="butt"/>
</g>
<path d="M896.9 877.4H1155" stroke="#333" stroke-width="3" stroke-dasharray="3 3.13" fill="none"/>
<path d="M896.7 780.8V947.8H1154.7" stroke="#6a6a6a" stroke-width="1.3" fill="none"/>
<path d="M896.7 807.3h2.6M896.7 842.3h2.6M896.7 877.4h2.6M896.7 912.5h2.6M896.7 947.5h2.6M896.7 947.5v-2.6M1025.7 947.5v-2.6M1154.7 947.5v-2.6" stroke="#6a6a6a" stroke-width="1" fill="none"/>
<rect x="930.5" y="937.7" width="17.3" height="10.1" fill="#0072bd"/>
<path d="M933.4 937.7v10.1M937.2 937.7v10.1M941.1 937.7v10.1M944.9 937.7v10.1" stroke="#000" stroke-width="2.2" fill="none"/>
<rect x="1012" y="937.7" width="25.8" height="10.1" fill="#0072bd"/>
<path d="M1014.9 937.7v10.1M1019.9 937.7v10.1M1024.9 937.7v10.1M1029.9 937.7v10.1M1034.9 937.7v10.1" stroke="#000" stroke-width="2.2" fill="none"/>
<rect x="1043.8" y="937.7" width="10.8" height="10.1" fill="#0072bd"/>
<path d="M1046.7 937.7v10.1M1051.7 937.7v10.1" stroke="#000" stroke-width="2.2" fill="none"/>
<rect x="1058.2" y="937.7" width="17.3" height="10.1" fill="#0072bd"/>
<path d="M1061.1 937.7v10.1M1066.9 937.7v10.1M1072.6 937.7v10.1" stroke="#000" stroke-width="2.2" fill="none"/>
<text transform="translate(889.3 815.1) scale(1 1.02)" font-size="19.05" text-anchor="end" fill="#1a1a1a" stroke="#1a1a1a" stroke-width="0.2">4</text>
<text transform="translate(889.3 850.1) scale(1 1.02)" font-size="19.05" text-anchor="end" fill="#1a1a1a" stroke="#1a1a1a" stroke-width="0.2">2</text>
<text transform="translate(889.3 885.2) scale(1 1.02)" font-size="19.05" text-anchor="end" fill="#1a1a1a" stroke="#1a1a1a" stroke-width="0.2">0</text>
<text transform="translate(889.3 920.3) scale(1 1.02)" font-size="19.05" text-anchor="end" fill="#1a1a1a" stroke="#1a1a1a" stroke-width="0.2">-2</text>
<text transform="translate(889.3 955.3) scale(1 1.02)" font-size="19.05" text-anchor="end" fill="#1a1a1a" stroke="#1a1a1a" stroke-width="0.2">-4</text>
<text transform="translate(896.5 974.6) scale(1 1.02)" font-size="19.05" text-anchor="middle" fill="#1a1a1a" stroke="#1a1a1a" stroke-width="0.2">0</text>
<text transform="translate(1025.5 974.6) scale(1 1.02)" font-size="19.05" text-anchor="middle" fill="#1a1a1a" stroke="#1a1a1a" stroke-width="0.2">50</text>
<text transform="translate(1154.5 974.6) scale(1 1.02)" font-size="19.05" text-anchor="middle" fill="#1a1a1a" stroke="#1a1a1a" stroke-width="0.2">100</text>
<text transform="translate(1025.7 1001.8) scale(1 1.04)" font-size="21" text-anchor="middle" fill="#1a1a1a" stroke="#1a1a1a" stroke-width="0.2">[%] Gait cycle</text>
<text transform="translate(834.56 864.15) rotate(-90) scale(1 0.96)" font-size="21.3" text-anchor="middle" fill="#1a1a1a" stroke="#1a1a1a" stroke-width="0.2">Ankle</text>
<text transform="translate(861.56 864.15) rotate(-90) scale(1 0.96)" font-size="21.2" text-anchor="middle" fill="#1a1a1a" stroke="#1a1a1a" stroke-width="0.2">Abs [W/kg] Gen</text>
</g>
<g>
<clipPath id="c34"><rect x="1639.7" y="778.8" width="268" height="168.7"/></clipPath>
<g clip-path="url(#c34)">
<path d="M1644.7 833.4 L1646.7 832.2 L1648.7 831.1 L1650.7 830 L1652.7 829.1 L1654.7 828.3 L1656.7 827.6 L1658.7 826.9 L1660.7 826.3 L1662.7 825.9 L1664.7 825.5 L1666.7 825.2 L1668.7 825 L1670.7 824.8 L1672.6 824.8 L1674.6 824.8 L1676.6 824.9 L1678.6 825 L1680.6 825.1 L1682.6 825.3 L1684.6 825.5 L1686.6 825.7 L1688.6 825.9 L1690.6 826.1 L1692.6 826.3 L1694.6 826.5 L1696.6 826.7 L1698.6 826.9 L1700.6 827.1 L1702.6 827.3 L1704.6 827.5 L1706.6 827.8 L1708.6 828.1 L1710.6 828.4 L1712.6 828.7 L1714.6 828.9 L1716.6 829.2 L1718.6 829.5 L1720.6 829.8 L1722.6 830.1 L1724.6 830.3 L1726.6 830.6 L1728.6 830.8 L1730.6 831.1 L1732.6 831.3 L1734.6 831.5 L1736.6 831.7 L1738.6 831.8 L1740.6 832 L1742.6 832.1 L1744.6 832.2 L1746.6 832.3 L1748.6 832.3 L1750.6 832.3 L1752.6 832.2 L1754.6 832.1 L1756.6 831.9 L1758.5 831.7 L1760.5 831.4 L1762.5 831 L1764.5 830.6 L1766.5 830.1 L1768.5 829.6 L1770.5 829 L1772.5 828.4 L1774.5 827.8 L1776.5 827 L1778.5 826.3 L1780.5 825.5 L1782.5 824.8 L1784.5 824.2 L1786.5 823.7 L1788.5 823.2 L1790.5 822.9 L1792.5 822.5 L1794.5 822.2 L1796.5 822.1 L1798.5 822.1 L1800.5 822.3 L1802.5 822.6 L1804.5 823 L1806.5 823.8 L1808.5 824.9 L1810.5 826.3 L1812.5 827.8 L1814.5 829.4 L1816.5 830.9 L1818.5 832.6 L1820.5 834.2 L1822.5 835.9 L1824.5 837.5 L1826.5 839 L1828.5 840.2 L1830.5 841.1 L1832.5 841.9 L1834.5 842.5 L1836.5 843.1 L1838.5 843.6 L1840.5 844.1 L1842.5 844.5 L1844.4 844.8 L1846.4 845 L1848.4 845.2 L1850.4 845.4 L1852.4 845.5 L1854.4 845.5 L1856.4 845.5 L1858.4 845.4 L1860.4 845.3 L1862.4 845.1 L1864.4 844.9 L1866.4 844.7 L1868.4 844.4 L1870.4 844 L1872.4 843.6 L1874.4 843.2 L1876.4 842.7 L1878.4 842.2 L1880.4 841.7 L1882.4 841.2 L1884.4 840.7 L1886.4 840.1 L1888.4 839.6 L1890.4 839 L1892.4 838.4 L1894.4 837.8 L1896.4 837.1 L1898.4 836.4 L1900.4 835.6 L1902.4 834.8 L1902.4 868.6 L1900.4 869.2 L1898.4 869.7 L1896.4 870.3 L1894.4 870.7 L1892.4 871.2 L1890.4 871.6 L1888.4 872 L1886.4 872.4 L1884.4 872.8 L1882.4 873.2 L1880.4 873.6 L1878.4 873.9 L1876.4 874.3 L1874.4 874.7 L1872.4 875.1 L1870.4 875.4 L1868.4 875.7 L1866.4 875.9 L1864.4 876.1 L1862.4 876.3 L1860.4 876.4 L1858.4 876.5 L1856.4 876.6 L1854.4 876.6 L1852.4 876.6 L1850.4 876.5 L1848.4 876.4 L1846.4 876.3 L1844.4 876.1 L1842.5 875.9 L1840.5 875.7 L1838.5 875.5 L1836.5 875.1 L1834.5 874.8 L1832.5 874.4 L1830.5 873.8 L1828.5 873.1 L1826.5 872.2 L1824.5 871 L1822.5 869.7 L1820.5 868.3 L1818.5 866.9 L1816.5 865.6 L1814.5 864.3 L1812.5 863 L1810.5 861.8 L1808.5 860.6 L1806.5 859.8 L1804.5 859.4 L1802.5 859.1 L1800.5 859.1 L1798.5 859.1 L1796.5 859.3 L1794.5 859.6 L1792.5 860 L1790.5 860.5 L1788.5 861.1 L1786.5 861.7 L1784.5 862.4 L1782.5 863.1 L1780.5 864 L1778.5 864.9 L1776.5 865.8 L1774.5 866.7 L1772.5 867.5 L1770.5 868.2 L1768.5 868.9 L1766.5 869.6 L1764.5 870.2 L1762.5 870.7 L1760.5 871.1 L1758.5 871.5 L1756.6 871.8 L1754.6 872 L1752.6 872.1 L1750.6 872.1 L1748.6 872.2 L1746.6 872.2 L1744.6 872.1 L1742.6 872 L1740.6 871.8 L1738.6 871.7 L1736.6 871.5 L1734.6 871.4 L1732.6 871.1 L1730.6 870.9 L1728.6 870.7 L1726.6 870.4 L1724.6 870.2 L1722.6 869.9 L1720.6 869.6 L1718.6 869.4 L1716.6 869.1 L1714.6 868.8 L1712.6 868.5 L1710.6 868.2 L1708.6 867.9 L1706.6 867.7 L1704.6 867.4 L1702.6 867.1 L1700.6 866.9 L1698.6 866.7 L1696.6 866.5 L1694.6 866.4 L1692.6 866.2 L1690.6 866 L1688.6 865.8 L1686.6 865.6 L1684.6 865.4 L1682.6 865.2 L1680.6 865 L1678.6 864.9 L1676.6 864.8 L1674.6 864.7 L1672.6 864.6 L1670.7 864.6 L1668.7 864.7 L1666.7 864.8 L1664.7 864.9 L1662.7 865.1 L1660.7 865.3 L1658.7 865.6 L1656.7 866 L1654.7 866.5 L1652.7 867 L1650.7 867.6 L1648.7 868.3 L1646.7 869.1 L1644.7 870Z" fill="#3b3b3b" fill-opacity="0.2"/>
<path d="M1644.7 851.7 L1646.7 850.6 L1648.7 849.7 L1650.7 848.8 L1652.7 848.1 L1654.7 847.4 L1656.7 846.8 L1658.7 846.2 L1660.7 845.8 L1662.7 845.5 L1664.7 845.2 L1666.7 845 L1668.7 844.8 L1670.7 844.7 L1672.6 844.7 L1674.6 844.8 L1676.6 844.8 L1678.6 844.9 L1680.6 845.1 L1682.6 845.2 L1684.6 845.4 L1686.6 845.6 L1688.6 845.8 L1690.6 846 L1692.6 846.2 L1694.6 846.4 L1696.6 846.6 L1698.6 846.8 L1700.6 847 L1702.6 847.2 L1704.6 847.5 L1706.6 847.7 L1708.6 848 L1710.6 848.3 L1712.6 848.6 L1714.6 848.9 L1716.6 849.1 L1718.6 849.4 L1720.6 849.7 L1722.6 850 L1724.6 850.3 L1726.6 850.5 L1728.6 850.8 L1730.6 851 L1732.6 851.2 L1734.6 851.4 L1736.6 851.6 L1738.6 851.8 L1740.6 851.9 L1742.6 852 L1744.6 852.2 L1746.6 852.2 L1748.6 852.2 L1750.6 852.2 L1752.6 852.1 L1754.6 852 L1756.6 851.8 L1758.5 851.6 L1760.5 851.3 L1762.5 850.9 L1764.5 850.4 L1766.5 849.9 L1768.5 849.3 L1770.5 848.6 L1772.5 848 L1774.5 847.2 L1776.5 846.4 L1778.5 845.6 L1780.5 844.8 L1782.5 844 L1784.5 843.3 L1786.5 842.7 L1788.5 842.2 L1790.5 841.7 L1792.5 841.3 L1794.5 840.9 L1796.5 840.7 L1798.5 840.6 L1800.5 840.7 L1802.5 840.9 L1804.5 841.2 L1806.5 841.8 L1808.5 842.7 L1810.5 844 L1812.5 845.4 L1814.5 846.8 L1816.5 848.3 L1818.5 849.7 L1820.5 851.3 L1822.5 852.8 L1824.5 854.3 L1826.5 855.6 L1828.5 856.7 L1830.5 857.5 L1832.5 858.1 L1834.5 858.7 L1836.5 859.1 L1838.5 859.5 L1840.5 859.9 L1842.5 860.2 L1844.4 860.4 L1846.4 860.7 L1848.4 860.8 L1850.4 861 L1852.4 861.1 L1854.4 861.1 L1856.4 861.1 L1858.4 861 L1860.4 860.9 L1862.4 860.7 L1864.4 860.5 L1866.4 860.3 L1868.4 860 L1870.4 859.7 L1872.4 859.4 L1874.4 859 L1876.4 858.5 L1878.4 858.1 L1880.4 857.6 L1882.4 857.2 L1884.4 856.7 L1886.4 856.3 L1888.4 855.8 L1890.4 855.3 L1892.4 854.8 L1894.4 854.3 L1896.4 853.7 L1898.4 853 L1900.4 852.4 L1902.4 851.7" fill="none" stroke="#3b3b3b" stroke-width="6.2" stroke-linejoin="round" stroke-linecap="butt"/>
<path d="M1644.7 836 L1646.7 835.3 L1648.7 834.7 L1650.7 834.2 L1652.7 833.8 L1654.7 833.4 L1656.7 833.1 L1658.7 832.8 L1660.7 832.5 L1662.7 832.3 L1664.7 832.1 L1666.7 832 L1668.7 831.9 L1670.7 831.7 L1672.6 831.7 L1674.6 831.6 L1676.6 831.6 L1678.6 831.6 L1680.6 831.6 L1682.6 831.7 L1684.6 831.7 L1686.6 831.8 L1688.6 831.9 L1690.6 832 L1692.6 832.1 L1694.6 832.2 L1696.6 832.3 L1698.6 832.4 L1700.6 832.5 L1702.6 832.7 L1704.6 832.9 L1706.6 833.1 L1708.6 833.3 L1710.6 833.5 L1712.6 833.7 L1714.6 833.9 L1716.6 834.1 L1718.6 834.3 L1720.6 834.5 L1722.6 834.7 L1724.6 834.9 L1726.6 835.1 L1728.6 835.3 L1730.6 835.5 L1732.6 835.7 L1734.6 835.9 L1736.6 836.1 L1738.6 836.2 L1740.6 836.3 L1742.6 836.4 L1744.6 836.5 L1746.6 836.6 L1748.6 836.7 L1750.6 836.8 L1752.6 836.9 L1754.6 836.9 L1756.6 836.8 L1758.5 836.8 L1760.5 836.7 L1762.5 836.6 L1764.5 836.5 L1766.5 836.4 L1768.5 836.2 L1770.5 836.1 L1772.5 836 L1774.5 835.8 L1776.5 835.7 L1778.5 835.5 L1780.5 835.2 L1782.5 835 L1784.5 834.9 L1786.5 834.7 L1788.5 834.6 L1790.5 834.5 L1792.5 834.4 L1794.5 834.4 L1796.5 834.4 L1798.5 834.6 L1800.5 834.9 L1802.5 835.4 L1804.5 836.1 L1806.5 836.9 L1808.5 837.8 L1810.5 838.7 L1812.5 839.8 L1814.5 840.8 L1816.5 841.8 L1818.5 842.7 L1820.5 843.7 L1822.5 844.6 L1824.5 845.4 L1826.5 846.2 L1828.5 846.9 L1830.5 847.5 L1832.5 848 L1834.5 848.4 L1836.5 848.7 L1838.5 849.1 L1840.5 849.4 L1842.5 849.7 L1844.4 849.9 L1846.4 850.1 L1848.4 850.3 L1850.4 850.5 L1852.4 850.7 L1854.4 850.9 L1856.4 851 L1858.4 851.1 L1860.4 851.1 L1862.4 851.2 L1864.4 851.2 L1866.4 851.1 L1868.4 850.9 L1870.4 850.6 L1872.4 850.3 L1874.4 849.9 L1876.4 849.5 L1878.4 848.9 L1880.4 848.3 L1882.4 847.5 L1884.4 846.5 L1886.4 845.5 L1888.4 844.5 L1890.4 843.5 L1892.4 842.5 L1894.4 841.6 L1896.4 840.6 L1898.4 839.7 L1900.4 838.8 L1902.4 837.9 L1902.4 878.6 L1900.4 879.5 L1898.4 880.4 L1896.4 881.3 L1894.4 882.3 L1892.4 883.2 L1890.4 884.2 L1888.4 885.2 L1886.4 886.3 L1884.4 887.3 L1882.4 888.2 L1880.4 889.1 L1878.4 889.7 L1876.4 890.3 L1874.4 890.7 L1872.4 891.1 L1870.4 891.5 L1868.4 891.7 L1866.4 891.9 L1864.4 892.1 L1862.4 892.1 L1860.4 892.1 L1858.4 892 L1856.4 891.9 L1854.4 891.8 L1852.4 891.7 L1850.4 891.5 L1848.4 891.3 L1846.4 891.1 L1844.4 890.9 L1842.5 890.7 L1840.5 890.4 L1838.5 890.1 L1836.5 889.8 L1834.5 889.5 L1832.5 889.1 L1830.5 888.6 L1828.5 888 L1826.5 887.4 L1824.5 886.6 L1822.5 885.7 L1820.5 884.8 L1818.5 883.9 L1816.5 883 L1814.5 882 L1812.5 881 L1810.5 880 L1808.5 879 L1806.5 878.1 L1804.5 877.3 L1802.5 876.7 L1800.5 876.2 L1798.5 875.9 L1796.5 875.7 L1794.5 875.7 L1792.5 875.8 L1790.5 875.9 L1788.5 876 L1786.5 876.1 L1784.5 876.3 L1782.5 876.4 L1780.5 876.7 L1778.5 876.9 L1776.5 877.1 L1774.5 877.3 L1772.5 877.5 L1770.5 877.6 L1768.5 877.7 L1766.5 877.8 L1764.5 878 L1762.5 878.1 L1760.5 878.2 L1758.5 878.3 L1756.6 878.4 L1754.6 878.5 L1752.6 878.5 L1750.6 878.4 L1748.6 878.4 L1746.6 878.3 L1744.6 878.2 L1742.6 878.1 L1740.6 878 L1738.6 877.9 L1736.6 877.8 L1734.6 877.6 L1732.6 877.5 L1730.6 877.3 L1728.6 877.1 L1726.6 876.9 L1724.6 876.7 L1722.6 876.5 L1720.6 876.3 L1718.6 876.1 L1716.6 875.9 L1714.6 875.7 L1712.6 875.5 L1710.6 875.3 L1708.6 875.1 L1706.6 874.9 L1704.6 874.7 L1702.6 874.6 L1700.6 874.4 L1698.6 874.3 L1696.6 874.2 L1694.6 874.1 L1692.6 874 L1690.6 873.9 L1688.6 873.9 L1686.6 873.8 L1684.6 873.7 L1682.6 873.7 L1680.6 873.7 L1678.6 873.7 L1676.6 873.7 L1674.6 873.7 L1672.6 873.8 L1670.7 873.8 L1668.7 874 L1666.7 874.1 L1664.7 874.3 L1662.7 874.4 L1660.7 874.7 L1658.7 874.9 L1656.7 875.2 L1654.7 875.6 L1652.7 876 L1650.7 876.4 L1648.7 877 L1646.7 877.6 L1644.7 878.2Z" fill="#0072bd" fill-opacity="0.2"/>
<path d="M1644.7 857.1 L1646.7 856.4 L1648.7 855.9 L1650.7 855.3 L1652.7 854.9 L1654.7 854.5 L1656.7 854.2 L1658.7 853.9 L1660.7 853.6 L1662.7 853.4 L1664.7 853.2 L1666.7 853 L1668.7 852.9 L1670.7 852.8 L1672.6 852.7 L1674.6 852.7 L1676.6 852.6 L1678.6 852.6 L1680.6 852.6 L1682.6 852.7 L1684.6 852.7 L1686.6 852.8 L1688.6 852.9 L1690.6 853 L1692.6 853 L1694.6 853.1 L1696.6 853.2 L1698.6 853.3 L1700.6 853.5 L1702.6 853.6 L1704.6 853.8 L1706.6 854 L1708.6 854.2 L1710.6 854.4 L1712.6 854.6 L1714.6 854.8 L1716.6 855 L1718.6 855.2 L1720.6 855.4 L1722.6 855.6 L1724.6 855.8 L1726.6 856 L1728.6 856.2 L1730.6 856.4 L1732.6 856.6 L1734.6 856.8 L1736.6 856.9 L1738.6 857 L1740.6 857.1 L1742.6 857.2 L1744.6 857.3 L1746.6 857.5 L1748.6 857.6 L1750.6 857.6 L1752.6 857.7 L1754.6 857.7 L1756.6 857.6 L1758.5 857.5 L1760.5 857.4 L1762.5 857.3 L1764.5 857.2 L1766.5 857.1 L1768.5 857 L1770.5 856.9 L1772.5 856.7 L1774.5 856.6 L1776.5 856.4 L1778.5 856.2 L1780.5 856 L1782.5 855.7 L1784.5 855.6 L1786.5 855.4 L1788.5 855.3 L1790.5 855.2 L1792.5 855.1 L1794.5 855 L1796.5 855.1 L1798.5 855.2 L1800.5 855.5 L1802.5 856 L1804.5 856.7 L1806.5 857.5 L1808.5 858.4 L1810.5 859.4 L1812.5 860.4 L1814.5 861.4 L1816.5 862.4 L1818.5 863.3 L1820.5 864.3 L1822.5 865.1 L1824.5 866 L1826.5 866.8 L1828.5 867.5 L1830.5 868 L1832.5 868.5 L1834.5 868.9 L1836.5 869.3 L1838.5 869.6 L1840.5 869.9 L1842.5 870.2 L1844.4 870.4 L1846.4 870.6 L1848.4 870.8 L1850.4 871 L1852.4 871.2 L1854.4 871.3 L1856.4 871.5 L1858.4 871.5 L1860.4 871.6 L1862.4 871.6 L1864.4 871.6 L1866.4 871.5 L1868.4 871.3 L1870.4 871 L1872.4 870.7 L1874.4 870.3 L1876.4 869.9 L1878.4 869.3 L1880.4 868.7 L1882.4 867.8 L1884.4 866.9 L1886.4 865.9 L1888.4 864.9 L1890.4 863.8 L1892.4 862.9 L1894.4 861.9 L1896.4 861 L1898.4 860.1 L1900.4 859.2 L1902.4 858.3" fill="none" stroke="#0072bd" stroke-width="6.2" stroke-linejoin="round" stroke-linecap="butt"/>
</g>
<path d="M1644.9 828.2H1903" stroke="#333" stroke-width="3" stroke-dasharray="3 3.13" fill="none"/>
<path d="M1644.7 780.8V947.8H1902.7" stroke="#6a6a6a" stroke-width="1.3" fill="none"/>
<path d="M1644.7 780.5h2.6M1644.7 828.2h2.6M1644.7 876h2.6M1644.7 923.8h2.6M1644.7 947.5v-2.6M1773.7 947.5v-2.6M1902.7 947.5v-2.6" stroke="#6a6a6a" stroke-width="1" fill="none"/>
<rect x="1786.3" y="937.7" width="49.5" height="10.1" fill="#0072bd"/>
<path d="M1789.2 937.7v10.1M1794.1 937.7v10.1M1799 937.7v10.1M1803.8 937.7v10.1M1808.7 937.7v10.1M1813.5 937.7v10.1M1818.4 937.7v10.1M1823.3 937.7v10.1M1828.1 937.7v10.1M1833 937.7v10.1" stroke="#000" stroke-width="2.2" fill="none"/>
<rect x="1858.8" y="937.7" width="24" height="10.1" fill="#0072bd"/>
<path d="M1861.7 937.7v10.1M1866.3 937.7v10.1M1870.8 937.7v10.1M1875.4 937.7v10.1M1879.9 937.7v10.1" stroke="#000" stroke-width="2.2" fill="none"/>
<text transform="translate(1637.3 788.3) scale(1 1.02)" font-size="19.05" text-anchor="end" fill="#1a1a1a" stroke="#1a1a1a" stroke-width="0.2">20</text>
<text transform="translate(1637.3 836) scale(1 1.02)" font-size="19.05" text-anchor="end" fill="#1a1a1a" stroke="#1a1a1a" stroke-width="0.2">0</text>
<text transform="translate(1637.3 883.8) scale(1 1.02)" font-size="19.05" text-anchor="end" fill="#1a1a1a" stroke="#1a1a1a" stroke-width="0.2">-20</text>
<text transform="translate(1637.3 931.6) scale(1 1.02)" font-size="19.05" text-anchor="end" fill="#1a1a1a" stroke="#1a1a1a" stroke-width="0.2">-40</text>
<text transform="translate(1644.5 974.6) scale(1 1.02)" font-size="19.05" text-anchor="middle" fill="#1a1a1a" stroke="#1a1a1a" stroke-width="0.2">0</text>
<text transform="translate(1773.5 974.6) scale(1 1.02)" font-size="19.05" text-anchor="middle" fill="#1a1a1a" stroke="#1a1a1a" stroke-width="0.2">50</text>
<text transform="translate(1902.5 974.6) scale(1 1.02)" font-size="19.05" text-anchor="middle" fill="#1a1a1a" stroke="#1a1a1a" stroke-width="0.2">100</text>
<text transform="translate(1773.7 1001.8) scale(1 1.04)" font-size="21" text-anchor="middle" fill="#1a1a1a" stroke="#1a1a1a" stroke-width="0.2">[%] Gait cycle</text>
<text transform="translate(1571.97 864.15) rotate(-90) scale(1 0.96)" font-size="21.3" text-anchor="middle" fill="#1a1a1a" stroke="#1a1a1a" stroke-width="0.2">Foot</text>
<text transform="translate(1598.97 864.15) rotate(-90) scale(1 0.96)" font-size="21.2" text-anchor="middle" fill="#1a1a1a" stroke="#1a1a1a" stroke-width="0.2">Ext [Degrees] Int</text>
</g>
<rect x="1.6" y="1019.7" width="2004.5" height="84.6" fill="#f2f2f2"/>
<rect x="37" y="1056.5" width="69" height="10" fill="#4a9bd0"/>
<text transform="translate(121.3 1071.8) scale(1 1.04)" font-size="29" text-anchor="start" fill="#000" stroke="#000" stroke-width="0.2">Cluster one</text>
<rect x="336" y="1056.5" width="69.3" height="10" fill="#222"/>
<text transform="translate(415 1071.8) scale(1 1.04)" font-size="29" text-anchor="start" fill="#000" stroke="#000" stroke-width="0.2">TD</text>
<rect x="536" y="1043" width="42.7" height="31.5" fill="#4a9bd0"/>
<rect x="544.8" y="1043" width="9.2" height="31.5" fill="#222"/>
<rect x="562" y="1043" width="8.7" height="31.5" fill="#222"/>
<text transform="translate(591.5 1071.8) scale(1 1.04)" font-size="29.14" text-anchor="start" fill="#000" stroke="#000" stroke-width="0.2">Significant and clinically relevant differences between Cluster one and TD</text>
</svg></body></html>
